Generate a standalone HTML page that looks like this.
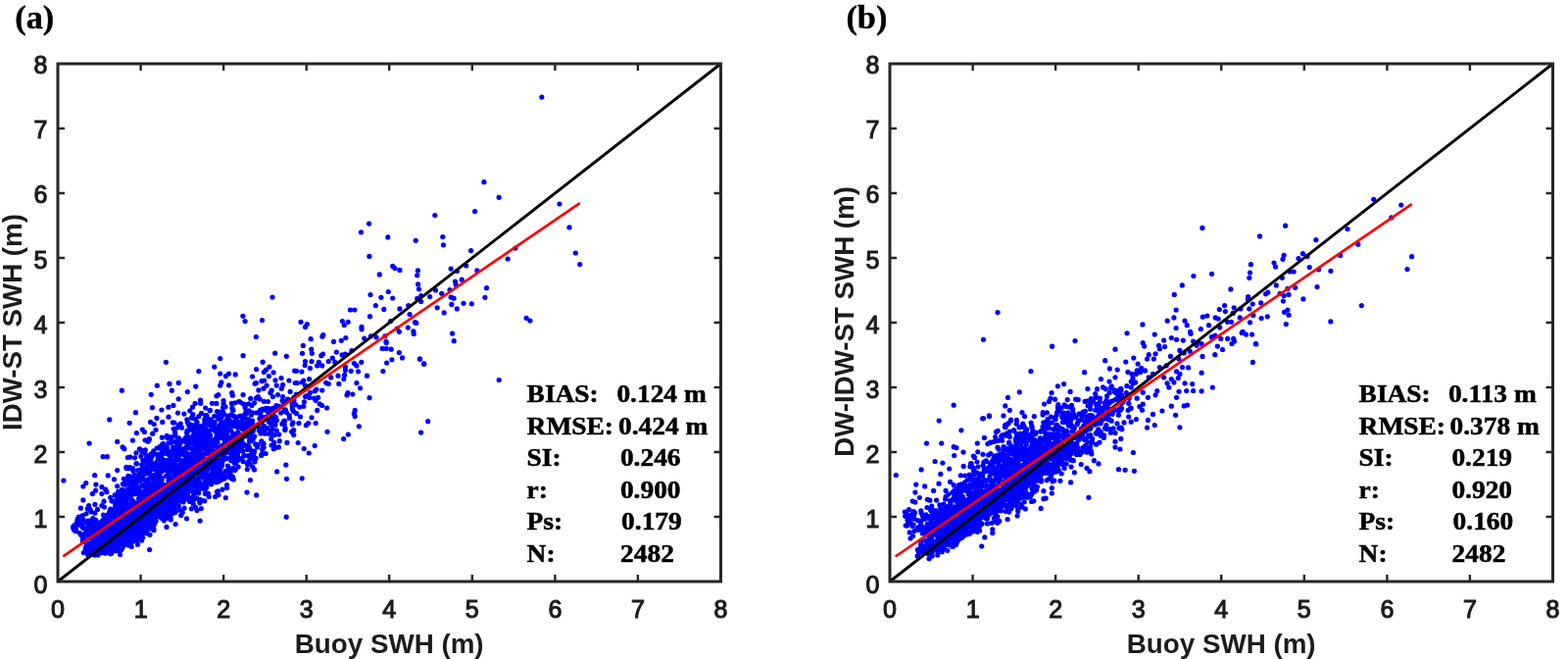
<!DOCTYPE html>
<html><head><meta charset="utf-8"><style>
html,body{margin:0;padding:0;background:#fff;width:1600px;height:672px;overflow:hidden}
svg{display:block}
</style></head><body>
<svg width="1600" height="672" viewBox="0 0 1600 672">
<rect width="1600" height="672" fill="#fff"/>
<g font-family="Liberation Serif, Times New Roman, serif" font-size="33" font-weight="bold" fill="#000" stroke="#000" stroke-width="0.4">
<text transform="translate(15.2,29) scale(1.04,1)">(a)</text>
<text transform="translate(863.4,29) scale(1.04,1)">(b)</text>
</g>
<g fill="#0000ff">
<circle cx="147.9" cy="500.3" r="2.6"/>
<circle cx="227.6" cy="420.2" r="2.6"/>
<circle cx="132.1" cy="522.9" r="2.6"/>
<circle cx="166.2" cy="510.5" r="2.6"/>
<circle cx="150.9" cy="482.7" r="2.6"/>
<circle cx="291.3" cy="419.2" r="2.6"/>
<circle cx="154.1" cy="467.3" r="2.6"/>
<circle cx="266.0" cy="442.1" r="2.6"/>
<circle cx="130.8" cy="555.8" r="2.6"/>
<circle cx="191.5" cy="484.0" r="2.6"/>
<circle cx="135.8" cy="533.4" r="2.6"/>
<circle cx="202.6" cy="502.8" r="2.6"/>
<circle cx="211.8" cy="461.5" r="2.6"/>
<circle cx="238.5" cy="477.5" r="2.6"/>
<circle cx="90.5" cy="536.7" r="2.6"/>
<circle cx="263.0" cy="453.3" r="2.6"/>
<circle cx="79.4" cy="530.1" r="2.6"/>
<circle cx="222.5" cy="424.5" r="2.6"/>
<circle cx="110.3" cy="525.0" r="2.6"/>
<circle cx="123.9" cy="542.7" r="2.6"/>
<circle cx="218.8" cy="424.3" r="2.6"/>
<circle cx="130.3" cy="517.5" r="2.6"/>
<circle cx="167.3" cy="503.6" r="2.6"/>
<circle cx="206.8" cy="478.6" r="2.6"/>
<circle cx="242.6" cy="454.0" r="2.6"/>
<circle cx="123.4" cy="521.1" r="2.6"/>
<circle cx="143.8" cy="540.6" r="2.6"/>
<circle cx="134.0" cy="520.7" r="2.6"/>
<circle cx="213.2" cy="454.8" r="2.6"/>
<circle cx="159.7" cy="527.0" r="2.6"/>
<circle cx="139.1" cy="529.1" r="2.6"/>
<circle cx="191.5" cy="448.5" r="2.6"/>
<circle cx="175.0" cy="488.6" r="2.6"/>
<circle cx="186.0" cy="481.8" r="2.6"/>
<circle cx="87.5" cy="540.0" r="2.6"/>
<circle cx="172.3" cy="509.0" r="2.6"/>
<circle cx="191.2" cy="453.7" r="2.6"/>
<circle cx="97.8" cy="537.5" r="2.6"/>
<circle cx="273.7" cy="416.8" r="2.6"/>
<circle cx="151.5" cy="490.3" r="2.6"/>
<circle cx="241.1" cy="443.3" r="2.6"/>
<circle cx="281.9" cy="413.6" r="2.6"/>
<circle cx="182.6" cy="489.6" r="2.6"/>
<circle cx="255.1" cy="473.0" r="2.6"/>
<circle cx="141.2" cy="531.4" r="2.6"/>
<circle cx="121.8" cy="539.0" r="2.6"/>
<circle cx="169.1" cy="485.5" r="2.6"/>
<circle cx="191.8" cy="473.6" r="2.6"/>
<circle cx="130.1" cy="532.9" r="2.6"/>
<circle cx="98.0" cy="541.6" r="2.6"/>
<circle cx="284.8" cy="443.1" r="2.6"/>
<circle cx="144.7" cy="473.9" r="2.6"/>
<circle cx="95.7" cy="561.9" r="2.6"/>
<circle cx="147.4" cy="507.2" r="2.6"/>
<circle cx="212.4" cy="503.1" r="2.6"/>
<circle cx="191.6" cy="465.0" r="2.6"/>
<circle cx="207.4" cy="444.5" r="2.6"/>
<circle cx="212.4" cy="469.9" r="2.6"/>
<circle cx="229.3" cy="445.2" r="2.6"/>
<circle cx="186.1" cy="449.2" r="2.6"/>
<circle cx="152.9" cy="545.3" r="2.6"/>
<circle cx="223.6" cy="456.9" r="2.6"/>
<circle cx="164.8" cy="480.9" r="2.6"/>
<circle cx="122.3" cy="541.5" r="2.6"/>
<circle cx="123.9" cy="531.1" r="2.6"/>
<circle cx="190.6" cy="441.4" r="2.6"/>
<circle cx="222.6" cy="473.6" r="2.6"/>
<circle cx="152.6" cy="523.7" r="2.6"/>
<circle cx="228.9" cy="438.3" r="2.6"/>
<circle cx="171.6" cy="472.4" r="2.6"/>
<circle cx="121.2" cy="513.0" r="2.6"/>
<circle cx="267.7" cy="458.4" r="2.6"/>
<circle cx="115.9" cy="520.2" r="2.6"/>
<circle cx="247.8" cy="459.9" r="2.6"/>
<circle cx="156.8" cy="520.0" r="2.6"/>
<circle cx="192.7" cy="483.6" r="2.6"/>
<circle cx="179.6" cy="502.3" r="2.6"/>
<circle cx="98.4" cy="562.8" r="2.6"/>
<circle cx="127.0" cy="530.2" r="2.6"/>
<circle cx="170.4" cy="524.0" r="2.6"/>
<circle cx="145.7" cy="536.3" r="2.6"/>
<circle cx="108.4" cy="527.1" r="2.6"/>
<circle cx="131.5" cy="525.7" r="2.6"/>
<circle cx="132.2" cy="532.8" r="2.6"/>
<circle cx="102.8" cy="563.7" r="2.6"/>
<circle cx="198.7" cy="478.7" r="2.6"/>
<circle cx="142.2" cy="531.6" r="2.6"/>
<circle cx="146.3" cy="488.3" r="2.6"/>
<circle cx="142.7" cy="511.1" r="2.6"/>
<circle cx="143.0" cy="536.8" r="2.6"/>
<circle cx="253.8" cy="441.9" r="2.6"/>
<circle cx="171.9" cy="508.2" r="2.6"/>
<circle cx="160.8" cy="484.8" r="2.6"/>
<circle cx="174.7" cy="509.8" r="2.6"/>
<circle cx="163.4" cy="504.6" r="2.6"/>
<circle cx="246.1" cy="457.3" r="2.6"/>
<circle cx="192.9" cy="446.6" r="2.6"/>
<circle cx="176.1" cy="516.3" r="2.6"/>
<circle cx="134.5" cy="495.6" r="2.6"/>
<circle cx="193.2" cy="494.1" r="2.6"/>
<circle cx="227.9" cy="432.7" r="2.6"/>
<circle cx="170.9" cy="446.7" r="2.6"/>
<circle cx="233.1" cy="486.0" r="2.6"/>
<circle cx="132.1" cy="538.9" r="2.6"/>
<circle cx="171.6" cy="520.7" r="2.6"/>
<circle cx="271.1" cy="462.5" r="2.6"/>
<circle cx="228.0" cy="437.4" r="2.6"/>
<circle cx="158.5" cy="513.6" r="2.6"/>
<circle cx="251.2" cy="438.3" r="2.6"/>
<circle cx="116.1" cy="550.9" r="2.6"/>
<circle cx="132.0" cy="530.5" r="2.6"/>
<circle cx="176.9" cy="511.3" r="2.6"/>
<circle cx="154.4" cy="516.0" r="2.6"/>
<circle cx="108.9" cy="535.0" r="2.6"/>
<circle cx="210.4" cy="477.8" r="2.6"/>
<circle cx="141.3" cy="521.2" r="2.6"/>
<circle cx="92.2" cy="538.4" r="2.6"/>
<circle cx="268.1" cy="369.2" r="2.6"/>
<circle cx="156.0" cy="475.4" r="2.6"/>
<circle cx="186.9" cy="463.3" r="2.6"/>
<circle cx="174.1" cy="528.0" r="2.6"/>
<circle cx="148.3" cy="509.5" r="2.6"/>
<circle cx="215.6" cy="493.8" r="2.6"/>
<circle cx="202.8" cy="424.7" r="2.6"/>
<circle cx="189.2" cy="470.7" r="2.6"/>
<circle cx="118.8" cy="546.3" r="2.6"/>
<circle cx="222.1" cy="438.9" r="2.6"/>
<circle cx="177.2" cy="437.3" r="2.6"/>
<circle cx="118.9" cy="560.4" r="2.6"/>
<circle cx="121.6" cy="558.0" r="2.6"/>
<circle cx="123.9" cy="537.2" r="2.6"/>
<circle cx="190.8" cy="427.8" r="2.6"/>
<circle cx="200.1" cy="481.1" r="2.6"/>
<circle cx="219.0" cy="431.1" r="2.6"/>
<circle cx="123.2" cy="545.6" r="2.6"/>
<circle cx="100.5" cy="559.0" r="2.6"/>
<circle cx="138.8" cy="542.9" r="2.6"/>
<circle cx="140.9" cy="518.3" r="2.6"/>
<circle cx="198.8" cy="487.5" r="2.6"/>
<circle cx="170.6" cy="499.3" r="2.6"/>
<circle cx="129.3" cy="549.5" r="2.6"/>
<circle cx="133.5" cy="532.6" r="2.6"/>
<circle cx="223.6" cy="444.9" r="2.6"/>
<circle cx="84.7" cy="538.3" r="2.6"/>
<circle cx="177.1" cy="497.4" r="2.6"/>
<circle cx="132.8" cy="514.3" r="2.6"/>
<circle cx="154.4" cy="527.2" r="2.6"/>
<circle cx="213.4" cy="484.8" r="2.6"/>
<circle cx="202.4" cy="500.6" r="2.6"/>
<circle cx="157.0" cy="540.7" r="2.6"/>
<circle cx="209.4" cy="446.8" r="2.6"/>
<circle cx="234.2" cy="433.1" r="2.6"/>
<circle cx="156.1" cy="496.0" r="2.6"/>
<circle cx="206.8" cy="478.4" r="2.6"/>
<circle cx="187.3" cy="498.0" r="2.6"/>
<circle cx="224.7" cy="423.6" r="2.6"/>
<circle cx="92.3" cy="536.5" r="2.6"/>
<circle cx="97.9" cy="553.4" r="2.6"/>
<circle cx="173.6" cy="500.5" r="2.6"/>
<circle cx="137.5" cy="540.2" r="2.6"/>
<circle cx="166.9" cy="475.3" r="2.6"/>
<circle cx="224.7" cy="440.1" r="2.6"/>
<circle cx="167.4" cy="478.4" r="2.6"/>
<circle cx="146.9" cy="530.0" r="2.6"/>
<circle cx="209.8" cy="437.0" r="2.6"/>
<circle cx="158.4" cy="515.6" r="2.6"/>
<circle cx="91.1" cy="547.0" r="2.6"/>
<circle cx="143.4" cy="526.5" r="2.6"/>
<circle cx="187.9" cy="481.0" r="2.6"/>
<circle cx="182.3" cy="491.7" r="2.6"/>
<circle cx="223.7" cy="446.8" r="2.6"/>
<circle cx="147.8" cy="520.7" r="2.6"/>
<circle cx="130.8" cy="538.5" r="2.6"/>
<circle cx="124.7" cy="516.1" r="2.6"/>
<circle cx="106.7" cy="529.8" r="2.6"/>
<circle cx="176.3" cy="430.8" r="2.6"/>
<circle cx="191.7" cy="455.8" r="2.6"/>
<circle cx="118.3" cy="551.5" r="2.6"/>
<circle cx="120.6" cy="531.1" r="2.6"/>
<circle cx="190.1" cy="503.4" r="2.6"/>
<circle cx="203.3" cy="484.5" r="2.6"/>
<circle cx="131.0" cy="526.6" r="2.6"/>
<circle cx="203.8" cy="435.5" r="2.6"/>
<circle cx="133.1" cy="486.1" r="2.6"/>
<circle cx="140.9" cy="518.3" r="2.6"/>
<circle cx="100.8" cy="544.5" r="2.6"/>
<circle cx="103.1" cy="552.6" r="2.6"/>
<circle cx="238.1" cy="424.1" r="2.6"/>
<circle cx="115.0" cy="540.6" r="2.6"/>
<circle cx="133.3" cy="533.2" r="2.6"/>
<circle cx="239.8" cy="410.8" r="2.6"/>
<circle cx="178.9" cy="472.3" r="2.6"/>
<circle cx="194.9" cy="495.9" r="2.6"/>
<circle cx="185.6" cy="510.5" r="2.6"/>
<circle cx="153.9" cy="514.9" r="2.6"/>
<circle cx="152.4" cy="507.0" r="2.6"/>
<circle cx="212.4" cy="427.3" r="2.6"/>
<circle cx="149.9" cy="514.0" r="2.6"/>
<circle cx="114.0" cy="511.0" r="2.6"/>
<circle cx="178.3" cy="508.1" r="2.6"/>
<circle cx="279.1" cy="454.1" r="2.6"/>
<circle cx="197.6" cy="443.0" r="2.6"/>
<circle cx="241.3" cy="469.0" r="2.6"/>
<circle cx="140.9" cy="548.0" r="2.6"/>
<circle cx="174.8" cy="507.1" r="2.6"/>
<circle cx="168.4" cy="520.7" r="2.6"/>
<circle cx="80.4" cy="527.2" r="2.6"/>
<circle cx="169.5" cy="473.1" r="2.6"/>
<circle cx="209.5" cy="474.3" r="2.6"/>
<circle cx="92.2" cy="536.1" r="2.6"/>
<circle cx="165.2" cy="470.4" r="2.6"/>
<circle cx="220.5" cy="480.8" r="2.6"/>
<circle cx="107.8" cy="547.0" r="2.6"/>
<circle cx="200.1" cy="437.2" r="2.6"/>
<circle cx="130.4" cy="535.5" r="2.6"/>
<circle cx="257.7" cy="476.0" r="2.6"/>
<circle cx="216.9" cy="450.2" r="2.6"/>
<circle cx="150.3" cy="466.0" r="2.6"/>
<circle cx="135.5" cy="504.0" r="2.6"/>
<circle cx="151.1" cy="528.0" r="2.6"/>
<circle cx="216.0" cy="482.8" r="2.6"/>
<circle cx="105.8" cy="529.7" r="2.6"/>
<circle cx="145.1" cy="519.8" r="2.6"/>
<circle cx="151.3" cy="479.3" r="2.6"/>
<circle cx="199.3" cy="427.4" r="2.6"/>
<circle cx="108.1" cy="542.5" r="2.6"/>
<circle cx="248.0" cy="411.8" r="2.6"/>
<circle cx="144.6" cy="459.2" r="2.6"/>
<circle cx="124.0" cy="536.9" r="2.6"/>
<circle cx="186.9" cy="470.8" r="2.6"/>
<circle cx="129.8" cy="544.8" r="2.6"/>
<circle cx="191.2" cy="469.9" r="2.6"/>
<circle cx="152.7" cy="492.8" r="2.6"/>
<circle cx="94.9" cy="528.7" r="2.6"/>
<circle cx="170.5" cy="506.0" r="2.6"/>
<circle cx="171.2" cy="502.8" r="2.6"/>
<circle cx="178.4" cy="457.5" r="2.6"/>
<circle cx="235.9" cy="466.8" r="2.6"/>
<circle cx="158.0" cy="493.6" r="2.6"/>
<circle cx="163.5" cy="489.3" r="2.6"/>
<circle cx="176.6" cy="514.1" r="2.6"/>
<circle cx="198.0" cy="477.9" r="2.6"/>
<circle cx="117.6" cy="526.1" r="2.6"/>
<circle cx="172.8" cy="524.8" r="2.6"/>
<circle cx="125.6" cy="556.3" r="2.6"/>
<circle cx="204.7" cy="466.9" r="2.6"/>
<circle cx="178.7" cy="507.6" r="2.6"/>
<circle cx="145.3" cy="523.8" r="2.6"/>
<circle cx="139.9" cy="542.7" r="2.6"/>
<circle cx="113.3" cy="562.1" r="2.6"/>
<circle cx="202.7" cy="471.4" r="2.6"/>
<circle cx="214.4" cy="433.9" r="2.6"/>
<circle cx="193.5" cy="487.2" r="2.6"/>
<circle cx="254.2" cy="455.7" r="2.6"/>
<circle cx="93.5" cy="562.1" r="2.6"/>
<circle cx="208.4" cy="487.6" r="2.6"/>
<circle cx="145.8" cy="469.6" r="2.6"/>
<circle cx="160.3" cy="482.5" r="2.6"/>
<circle cx="188.8" cy="492.3" r="2.6"/>
<circle cx="133.5" cy="556.0" r="2.6"/>
<circle cx="150.2" cy="508.7" r="2.6"/>
<circle cx="182.3" cy="515.8" r="2.6"/>
<circle cx="271.4" cy="416.4" r="2.6"/>
<circle cx="203.8" cy="450.6" r="2.6"/>
<circle cx="193.9" cy="477.2" r="2.6"/>
<circle cx="259.6" cy="460.1" r="2.6"/>
<circle cx="127.8" cy="494.4" r="2.6"/>
<circle cx="163.8" cy="515.2" r="2.6"/>
<circle cx="200.2" cy="464.4" r="2.6"/>
<circle cx="135.7" cy="522.2" r="2.6"/>
<circle cx="243.0" cy="425.1" r="2.6"/>
<circle cx="220.4" cy="467.9" r="2.6"/>
<circle cx="231.1" cy="450.0" r="2.6"/>
<circle cx="291.1" cy="436.9" r="2.6"/>
<circle cx="193.2" cy="510.0" r="2.6"/>
<circle cx="165.2" cy="460.5" r="2.6"/>
<circle cx="88.6" cy="545.1" r="2.6"/>
<circle cx="167.0" cy="470.3" r="2.6"/>
<circle cx="105.5" cy="548.1" r="2.6"/>
<circle cx="173.0" cy="515.1" r="2.6"/>
<circle cx="138.7" cy="485.6" r="2.6"/>
<circle cx="154.2" cy="471.4" r="2.6"/>
<circle cx="238.4" cy="455.8" r="2.6"/>
<circle cx="198.8" cy="458.6" r="2.6"/>
<circle cx="120.4" cy="540.8" r="2.6"/>
<circle cx="231.7" cy="467.6" r="2.6"/>
<circle cx="235.4" cy="460.4" r="2.6"/>
<circle cx="252.5" cy="473.4" r="2.6"/>
<circle cx="138.2" cy="536.8" r="2.6"/>
<circle cx="156.1" cy="514.8" r="2.6"/>
<circle cx="194.7" cy="476.2" r="2.6"/>
<circle cx="226.4" cy="469.9" r="2.6"/>
<circle cx="168.7" cy="508.4" r="2.6"/>
<circle cx="136.5" cy="502.6" r="2.6"/>
<circle cx="111.1" cy="543.3" r="2.6"/>
<circle cx="134.0" cy="534.2" r="2.6"/>
<circle cx="219.4" cy="439.4" r="2.6"/>
<circle cx="185.2" cy="470.2" r="2.6"/>
<circle cx="173.7" cy="526.8" r="2.6"/>
<circle cx="111.5" cy="556.0" r="2.6"/>
<circle cx="129.6" cy="550.2" r="2.6"/>
<circle cx="156.4" cy="476.5" r="2.6"/>
<circle cx="280.4" cy="443.6" r="2.6"/>
<circle cx="227.3" cy="444.2" r="2.6"/>
<circle cx="174.6" cy="465.8" r="2.6"/>
<circle cx="142.9" cy="490.0" r="2.6"/>
<circle cx="177.9" cy="500.3" r="2.6"/>
<circle cx="239.8" cy="469.8" r="2.6"/>
<circle cx="184.1" cy="458.0" r="2.6"/>
<circle cx="112.8" cy="528.4" r="2.6"/>
<circle cx="167.5" cy="512.7" r="2.6"/>
<circle cx="201.0" cy="472.4" r="2.6"/>
<circle cx="116.0" cy="553.5" r="2.6"/>
<circle cx="176.1" cy="506.8" r="2.6"/>
<circle cx="174.3" cy="479.3" r="2.6"/>
<circle cx="96.1" cy="563.4" r="2.6"/>
<circle cx="84.7" cy="529.8" r="2.6"/>
<circle cx="95.8" cy="562.5" r="2.6"/>
<circle cx="274.6" cy="442.6" r="2.6"/>
<circle cx="131.0" cy="523.9" r="2.6"/>
<circle cx="173.0" cy="496.9" r="2.6"/>
<circle cx="77.5" cy="540.8" r="2.6"/>
<circle cx="129.3" cy="545.1" r="2.6"/>
<circle cx="113.3" cy="554.5" r="2.6"/>
<circle cx="304.2" cy="451.5" r="2.6"/>
<circle cx="163.6" cy="489.2" r="2.6"/>
<circle cx="133.1" cy="507.1" r="2.6"/>
<circle cx="79.2" cy="529.4" r="2.6"/>
<circle cx="123.1" cy="526.6" r="2.6"/>
<circle cx="101.0" cy="562.9" r="2.6"/>
<circle cx="259.9" cy="471.0" r="2.6"/>
<circle cx="128.9" cy="476.3" r="2.6"/>
<circle cx="88.3" cy="551.2" r="2.6"/>
<circle cx="136.9" cy="533.3" r="2.6"/>
<circle cx="227.0" cy="446.8" r="2.6"/>
<circle cx="148.9" cy="514.6" r="2.6"/>
<circle cx="144.3" cy="521.5" r="2.6"/>
<circle cx="136.0" cy="551.8" r="2.6"/>
<circle cx="268.3" cy="417.1" r="2.6"/>
<circle cx="121.0" cy="552.4" r="2.6"/>
<circle cx="112.5" cy="542.4" r="2.6"/>
<circle cx="206.2" cy="439.0" r="2.6"/>
<circle cx="265.1" cy="437.1" r="2.6"/>
<circle cx="216.8" cy="471.1" r="2.6"/>
<circle cx="228.1" cy="463.6" r="2.6"/>
<circle cx="134.7" cy="511.2" r="2.6"/>
<circle cx="149.7" cy="471.4" r="2.6"/>
<circle cx="189.7" cy="466.7" r="2.6"/>
<circle cx="223.8" cy="473.5" r="2.6"/>
<circle cx="141.1" cy="523.5" r="2.6"/>
<circle cx="152.3" cy="527.1" r="2.6"/>
<circle cx="245.1" cy="424.1" r="2.6"/>
<circle cx="140.1" cy="486.6" r="2.6"/>
<circle cx="137.2" cy="484.6" r="2.6"/>
<circle cx="181.5" cy="494.5" r="2.6"/>
<circle cx="233.7" cy="427.8" r="2.6"/>
<circle cx="89.5" cy="565.6" r="2.6"/>
<circle cx="115.5" cy="561.0" r="2.6"/>
<circle cx="213.9" cy="489.1" r="2.6"/>
<circle cx="170.7" cy="519.8" r="2.6"/>
<circle cx="131.0" cy="533.2" r="2.6"/>
<circle cx="225.3" cy="421.9" r="2.6"/>
<circle cx="152.7" cy="522.5" r="2.6"/>
<circle cx="107.1" cy="557.3" r="2.6"/>
<circle cx="101.9" cy="535.9" r="2.6"/>
<circle cx="221.7" cy="468.6" r="2.6"/>
<circle cx="225.4" cy="489.5" r="2.6"/>
<circle cx="104.6" cy="541.3" r="2.6"/>
<circle cx="158.4" cy="463.0" r="2.6"/>
<circle cx="154.4" cy="513.0" r="2.6"/>
<circle cx="147.9" cy="516.2" r="2.6"/>
<circle cx="287.9" cy="432.3" r="2.6"/>
<circle cx="116.8" cy="524.8" r="2.6"/>
<circle cx="159.9" cy="495.0" r="2.6"/>
<circle cx="210.6" cy="442.0" r="2.6"/>
<circle cx="96.8" cy="541.7" r="2.6"/>
<circle cx="131.0" cy="492.1" r="2.6"/>
<circle cx="257.9" cy="463.6" r="2.6"/>
<circle cx="160.1" cy="457.0" r="2.6"/>
<circle cx="120.1" cy="539.4" r="2.6"/>
<circle cx="232.3" cy="475.1" r="2.6"/>
<circle cx="213.1" cy="450.7" r="2.6"/>
<circle cx="101.7" cy="559.7" r="2.6"/>
<circle cx="111.1" cy="562.8" r="2.6"/>
<circle cx="204.5" cy="496.9" r="2.6"/>
<circle cx="264.8" cy="420.8" r="2.6"/>
<circle cx="178.5" cy="472.6" r="2.6"/>
<circle cx="132.7" cy="539.7" r="2.6"/>
<circle cx="76.1" cy="535.5" r="2.6"/>
<circle cx="186.9" cy="490.2" r="2.6"/>
<circle cx="146.2" cy="477.8" r="2.6"/>
<circle cx="109.5" cy="534.0" r="2.6"/>
<circle cx="142.4" cy="457.8" r="2.6"/>
<circle cx="125.9" cy="521.0" r="2.6"/>
<circle cx="123.5" cy="539.9" r="2.6"/>
<circle cx="221.2" cy="443.0" r="2.6"/>
<circle cx="129.1" cy="539.2" r="2.6"/>
<circle cx="191.0" cy="470.4" r="2.6"/>
<circle cx="187.2" cy="491.3" r="2.6"/>
<circle cx="136.1" cy="533.3" r="2.6"/>
<circle cx="148.8" cy="497.4" r="2.6"/>
<circle cx="174.2" cy="505.9" r="2.6"/>
<circle cx="167.1" cy="522.5" r="2.6"/>
<circle cx="178.0" cy="480.3" r="2.6"/>
<circle cx="200.7" cy="456.9" r="2.6"/>
<circle cx="150.8" cy="516.7" r="2.6"/>
<circle cx="212.6" cy="484.4" r="2.6"/>
<circle cx="128.1" cy="524.5" r="2.6"/>
<circle cx="188.0" cy="518.2" r="2.6"/>
<circle cx="246.1" cy="443.4" r="2.6"/>
<circle cx="95.6" cy="555.9" r="2.6"/>
<circle cx="103.3" cy="547.8" r="2.6"/>
<circle cx="97.4" cy="530.0" r="2.6"/>
<circle cx="130.6" cy="544.7" r="2.6"/>
<circle cx="215.0" cy="432.0" r="2.6"/>
<circle cx="167.1" cy="473.4" r="2.6"/>
<circle cx="221.1" cy="445.7" r="2.6"/>
<circle cx="205.8" cy="464.3" r="2.6"/>
<circle cx="185.9" cy="504.7" r="2.6"/>
<circle cx="126.6" cy="538.8" r="2.6"/>
<circle cx="212.5" cy="449.6" r="2.6"/>
<circle cx="111.9" cy="533.1" r="2.6"/>
<circle cx="125.8" cy="553.5" r="2.6"/>
<circle cx="132.7" cy="466.1" r="2.6"/>
<circle cx="195.1" cy="452.2" r="2.6"/>
<circle cx="154.3" cy="495.1" r="2.6"/>
<circle cx="116.8" cy="542.1" r="2.6"/>
<circle cx="215.2" cy="427.8" r="2.6"/>
<circle cx="206.6" cy="497.9" r="2.6"/>
<circle cx="271.2" cy="437.8" r="2.6"/>
<circle cx="310.4" cy="409.8" r="2.6"/>
<circle cx="96.7" cy="563.1" r="2.6"/>
<circle cx="114.7" cy="553.1" r="2.6"/>
<circle cx="96.6" cy="547.6" r="2.6"/>
<circle cx="119.4" cy="546.3" r="2.6"/>
<circle cx="181.2" cy="465.9" r="2.6"/>
<circle cx="153.3" cy="466.7" r="2.6"/>
<circle cx="174.5" cy="451.7" r="2.6"/>
<circle cx="188.9" cy="507.6" r="2.6"/>
<circle cx="208.9" cy="510.8" r="2.6"/>
<circle cx="246.2" cy="435.2" r="2.6"/>
<circle cx="119.5" cy="544.8" r="2.6"/>
<circle cx="94.2" cy="561.6" r="2.6"/>
<circle cx="181.8" cy="459.4" r="2.6"/>
<circle cx="124.7" cy="547.7" r="2.6"/>
<circle cx="177.0" cy="502.5" r="2.6"/>
<circle cx="168.2" cy="478.8" r="2.6"/>
<circle cx="171.3" cy="501.6" r="2.6"/>
<circle cx="92.8" cy="554.1" r="2.6"/>
<circle cx="315.8" cy="405.4" r="2.6"/>
<circle cx="130.4" cy="535.6" r="2.6"/>
<circle cx="137.4" cy="535.4" r="2.6"/>
<circle cx="179.8" cy="499.1" r="2.6"/>
<circle cx="148.1" cy="524.5" r="2.6"/>
<circle cx="195.2" cy="438.2" r="2.6"/>
<circle cx="153.8" cy="520.6" r="2.6"/>
<circle cx="103.3" cy="560.5" r="2.6"/>
<circle cx="88.5" cy="554.4" r="2.6"/>
<circle cx="124.5" cy="499.1" r="2.6"/>
<circle cx="213.7" cy="492.6" r="2.6"/>
<circle cx="130.8" cy="534.8" r="2.6"/>
<circle cx="105.0" cy="549.7" r="2.6"/>
<circle cx="115.7" cy="511.0" r="2.6"/>
<circle cx="269.1" cy="452.4" r="2.6"/>
<circle cx="198.3" cy="467.5" r="2.6"/>
<circle cx="151.5" cy="494.1" r="2.6"/>
<circle cx="177.7" cy="520.3" r="2.6"/>
<circle cx="191.8" cy="488.3" r="2.6"/>
<circle cx="192.7" cy="492.1" r="2.6"/>
<circle cx="248.3" cy="454.0" r="2.6"/>
<circle cx="161.2" cy="500.7" r="2.6"/>
<circle cx="284.6" cy="414.4" r="2.6"/>
<circle cx="195.0" cy="468.1" r="2.6"/>
<circle cx="141.7" cy="530.8" r="2.6"/>
<circle cx="194.4" cy="492.5" r="2.6"/>
<circle cx="146.8" cy="522.8" r="2.6"/>
<circle cx="99.7" cy="542.5" r="2.6"/>
<circle cx="176.1" cy="462.7" r="2.6"/>
<circle cx="155.6" cy="474.6" r="2.6"/>
<circle cx="136.0" cy="520.5" r="2.6"/>
<circle cx="235.8" cy="439.3" r="2.6"/>
<circle cx="236.6" cy="432.8" r="2.6"/>
<circle cx="207.4" cy="441.2" r="2.6"/>
<circle cx="262.0" cy="420.9" r="2.6"/>
<circle cx="87.8" cy="557.5" r="2.6"/>
<circle cx="226.2" cy="458.0" r="2.6"/>
<circle cx="266.6" cy="464.4" r="2.6"/>
<circle cx="75.6" cy="540.3" r="2.6"/>
<circle cx="153.0" cy="515.9" r="2.6"/>
<circle cx="208.8" cy="457.3" r="2.6"/>
<circle cx="120.5" cy="539.3" r="2.6"/>
<circle cx="246.1" cy="459.7" r="2.6"/>
<circle cx="170.4" cy="499.5" r="2.6"/>
<circle cx="189.4" cy="478.3" r="2.6"/>
<circle cx="187.0" cy="463.0" r="2.6"/>
<circle cx="140.0" cy="491.0" r="2.6"/>
<circle cx="142.3" cy="525.7" r="2.6"/>
<circle cx="189.8" cy="505.2" r="2.6"/>
<circle cx="237.7" cy="443.5" r="2.6"/>
<circle cx="210.3" cy="474.1" r="2.6"/>
<circle cx="166.8" cy="527.3" r="2.6"/>
<circle cx="169.5" cy="510.6" r="2.6"/>
<circle cx="184.2" cy="468.8" r="2.6"/>
<circle cx="129.3" cy="540.6" r="2.6"/>
<circle cx="266.8" cy="449.9" r="2.6"/>
<circle cx="142.4" cy="532.8" r="2.6"/>
<circle cx="127.0" cy="535.8" r="2.6"/>
<circle cx="133.7" cy="500.6" r="2.6"/>
<circle cx="253.7" cy="427.6" r="2.6"/>
<circle cx="215.4" cy="472.5" r="2.6"/>
<circle cx="174.8" cy="514.3" r="2.6"/>
<circle cx="167.4" cy="522.8" r="2.6"/>
<circle cx="126.0" cy="521.7" r="2.6"/>
<circle cx="114.1" cy="526.7" r="2.6"/>
<circle cx="224.0" cy="471.7" r="2.6"/>
<circle cx="136.0" cy="511.4" r="2.6"/>
<circle cx="109.2" cy="558.9" r="2.6"/>
<circle cx="95.7" cy="551.9" r="2.6"/>
<circle cx="116.6" cy="534.8" r="2.6"/>
<circle cx="189.3" cy="468.8" r="2.6"/>
<circle cx="164.2" cy="504.6" r="2.6"/>
<circle cx="192.6" cy="433.3" r="2.6"/>
<circle cx="226.8" cy="471.9" r="2.6"/>
<circle cx="177.9" cy="431.0" r="2.6"/>
<circle cx="87.4" cy="560.2" r="2.6"/>
<circle cx="127.4" cy="507.4" r="2.6"/>
<circle cx="119.8" cy="537.3" r="2.6"/>
<circle cx="133.2" cy="546.8" r="2.6"/>
<circle cx="177.1" cy="474.4" r="2.6"/>
<circle cx="221.6" cy="481.4" r="2.6"/>
<circle cx="212.4" cy="460.7" r="2.6"/>
<circle cx="78.6" cy="532.0" r="2.6"/>
<circle cx="204.3" cy="434.5" r="2.6"/>
<circle cx="179.9" cy="500.1" r="2.6"/>
<circle cx="118.1" cy="542.5" r="2.6"/>
<circle cx="175.4" cy="469.3" r="2.6"/>
<circle cx="174.8" cy="462.4" r="2.6"/>
<circle cx="220.5" cy="467.1" r="2.6"/>
<circle cx="171.3" cy="503.3" r="2.6"/>
<circle cx="147.6" cy="530.0" r="2.6"/>
<circle cx="172.1" cy="493.8" r="2.6"/>
<circle cx="172.1" cy="445.9" r="2.6"/>
<circle cx="145.7" cy="548.3" r="2.6"/>
<circle cx="181.9" cy="451.6" r="2.6"/>
<circle cx="118.7" cy="512.5" r="2.6"/>
<circle cx="230.7" cy="434.5" r="2.6"/>
<circle cx="163.6" cy="518.8" r="2.6"/>
<circle cx="153.0" cy="539.0" r="2.6"/>
<circle cx="133.9" cy="519.6" r="2.6"/>
<circle cx="265.7" cy="418.1" r="2.6"/>
<circle cx="199.5" cy="433.0" r="2.6"/>
<circle cx="156.7" cy="478.4" r="2.6"/>
<circle cx="131.8" cy="514.6" r="2.6"/>
<circle cx="295.2" cy="423.5" r="2.6"/>
<circle cx="92.7" cy="565.5" r="2.6"/>
<circle cx="126.8" cy="501.4" r="2.6"/>
<circle cx="187.9" cy="460.9" r="2.6"/>
<circle cx="124.7" cy="554.1" r="2.6"/>
<circle cx="250.1" cy="412.7" r="2.6"/>
<circle cx="119.9" cy="543.6" r="2.6"/>
<circle cx="206.8" cy="465.6" r="2.6"/>
<circle cx="149.0" cy="516.9" r="2.6"/>
<circle cx="96.6" cy="539.6" r="2.6"/>
<circle cx="158.9" cy="504.6" r="2.6"/>
<circle cx="104.4" cy="545.8" r="2.6"/>
<circle cx="131.6" cy="538.7" r="2.6"/>
<circle cx="189.9" cy="462.7" r="2.6"/>
<circle cx="211.9" cy="484.1" r="2.6"/>
<circle cx="208.0" cy="467.6" r="2.6"/>
<circle cx="163.0" cy="477.4" r="2.6"/>
<circle cx="271.9" cy="427.7" r="2.6"/>
<circle cx="181.8" cy="448.5" r="2.6"/>
<circle cx="172.0" cy="490.3" r="2.6"/>
<circle cx="188.6" cy="501.5" r="2.6"/>
<circle cx="153.5" cy="524.4" r="2.6"/>
<circle cx="210.3" cy="494.4" r="2.6"/>
<circle cx="152.1" cy="507.4" r="2.6"/>
<circle cx="203.4" cy="465.5" r="2.6"/>
<circle cx="160.2" cy="495.3" r="2.6"/>
<circle cx="142.6" cy="517.9" r="2.6"/>
<circle cx="160.8" cy="525.5" r="2.6"/>
<circle cx="104.7" cy="544.7" r="2.6"/>
<circle cx="112.5" cy="550.6" r="2.6"/>
<circle cx="178.2" cy="515.4" r="2.6"/>
<circle cx="258.6" cy="445.5" r="2.6"/>
<circle cx="196.7" cy="458.6" r="2.6"/>
<circle cx="80.0" cy="532.9" r="2.6"/>
<circle cx="255.0" cy="467.5" r="2.6"/>
<circle cx="164.6" cy="527.9" r="2.6"/>
<circle cx="124.3" cy="515.3" r="2.6"/>
<circle cx="102.9" cy="545.8" r="2.6"/>
<circle cx="246.2" cy="431.0" r="2.6"/>
<circle cx="176.7" cy="513.9" r="2.6"/>
<circle cx="169.5" cy="469.3" r="2.6"/>
<circle cx="163.6" cy="508.3" r="2.6"/>
<circle cx="121.9" cy="549.0" r="2.6"/>
<circle cx="183.1" cy="463.6" r="2.6"/>
<circle cx="145.4" cy="519.9" r="2.6"/>
<circle cx="279.3" cy="430.4" r="2.6"/>
<circle cx="105.4" cy="525.0" r="2.6"/>
<circle cx="138.4" cy="486.1" r="2.6"/>
<circle cx="91.7" cy="531.0" r="2.6"/>
<circle cx="144.1" cy="533.9" r="2.6"/>
<circle cx="109.8" cy="540.0" r="2.6"/>
<circle cx="223.0" cy="486.3" r="2.6"/>
<circle cx="243.7" cy="434.3" r="2.6"/>
<circle cx="137.0" cy="499.3" r="2.6"/>
<circle cx="200.7" cy="474.7" r="2.6"/>
<circle cx="105.3" cy="553.4" r="2.6"/>
<circle cx="249.3" cy="432.5" r="2.6"/>
<circle cx="214.9" cy="458.7" r="2.6"/>
<circle cx="152.4" cy="447.7" r="2.6"/>
<circle cx="179.4" cy="486.1" r="2.6"/>
<circle cx="117.2" cy="529.2" r="2.6"/>
<circle cx="237.8" cy="442.0" r="2.6"/>
<circle cx="210.1" cy="475.4" r="2.6"/>
<circle cx="238.4" cy="464.4" r="2.6"/>
<circle cx="197.7" cy="486.3" r="2.6"/>
<circle cx="156.7" cy="532.0" r="2.6"/>
<circle cx="200.8" cy="457.9" r="2.6"/>
<circle cx="226.6" cy="467.9" r="2.6"/>
<circle cx="269.3" cy="409.3" r="2.6"/>
<circle cx="186.1" cy="477.5" r="2.6"/>
<circle cx="113.6" cy="534.2" r="2.6"/>
<circle cx="159.0" cy="516.6" r="2.6"/>
<circle cx="189.7" cy="447.9" r="2.6"/>
<circle cx="140.7" cy="531.2" r="2.6"/>
<circle cx="195.9" cy="492.5" r="2.6"/>
<circle cx="253.4" cy="439.7" r="2.6"/>
<circle cx="233.9" cy="482.5" r="2.6"/>
<circle cx="191.0" cy="439.0" r="2.6"/>
<circle cx="118.2" cy="561.7" r="2.6"/>
<circle cx="152.0" cy="465.1" r="2.6"/>
<circle cx="137.3" cy="490.6" r="2.6"/>
<circle cx="155.3" cy="505.6" r="2.6"/>
<circle cx="120.8" cy="548.8" r="2.6"/>
<circle cx="118.8" cy="550.3" r="2.6"/>
<circle cx="131.2" cy="538.0" r="2.6"/>
<circle cx="171.0" cy="460.1" r="2.6"/>
<circle cx="255.5" cy="466.7" r="2.6"/>
<circle cx="168.9" cy="513.6" r="2.6"/>
<circle cx="149.0" cy="500.7" r="2.6"/>
<circle cx="110.8" cy="556.9" r="2.6"/>
<circle cx="106.9" cy="556.0" r="2.6"/>
<circle cx="185.1" cy="502.1" r="2.6"/>
<circle cx="207.3" cy="438.8" r="2.6"/>
<circle cx="153.2" cy="527.5" r="2.6"/>
<circle cx="175.0" cy="512.5" r="2.6"/>
<circle cx="235.9" cy="433.8" r="2.6"/>
<circle cx="126.1" cy="535.1" r="2.6"/>
<circle cx="281.5" cy="456.6" r="2.6"/>
<circle cx="235.5" cy="432.5" r="2.6"/>
<circle cx="228.2" cy="457.1" r="2.6"/>
<circle cx="228.6" cy="483.8" r="2.6"/>
<circle cx="86.9" cy="533.0" r="2.6"/>
<circle cx="191.3" cy="430.6" r="2.6"/>
<circle cx="183.2" cy="519.9" r="2.6"/>
<circle cx="213.1" cy="470.1" r="2.6"/>
<circle cx="292.1" cy="409.2" r="2.6"/>
<circle cx="148.6" cy="526.1" r="2.6"/>
<circle cx="171.7" cy="503.4" r="2.6"/>
<circle cx="148.4" cy="520.1" r="2.6"/>
<circle cx="248.8" cy="425.9" r="2.6"/>
<circle cx="111.6" cy="522.7" r="2.6"/>
<circle cx="117.7" cy="520.5" r="2.6"/>
<circle cx="122.4" cy="546.0" r="2.6"/>
<circle cx="247.2" cy="429.1" r="2.6"/>
<circle cx="164.6" cy="514.8" r="2.6"/>
<circle cx="210.4" cy="473.9" r="2.6"/>
<circle cx="275.2" cy="418.8" r="2.6"/>
<circle cx="154.2" cy="462.8" r="2.6"/>
<circle cx="199.1" cy="490.0" r="2.6"/>
<circle cx="203.7" cy="458.6" r="2.6"/>
<circle cx="182.9" cy="478.9" r="2.6"/>
<circle cx="193.8" cy="487.0" r="2.6"/>
<circle cx="145.6" cy="528.1" r="2.6"/>
<circle cx="219.4" cy="447.8" r="2.6"/>
<circle cx="212.5" cy="469.6" r="2.6"/>
<circle cx="132.7" cy="552.2" r="2.6"/>
<circle cx="187.2" cy="490.2" r="2.6"/>
<circle cx="94.5" cy="551.3" r="2.6"/>
<circle cx="162.8" cy="487.1" r="2.6"/>
<circle cx="269.9" cy="426.0" r="2.6"/>
<circle cx="115.6" cy="551.6" r="2.6"/>
<circle cx="285.2" cy="449.7" r="2.6"/>
<circle cx="112.8" cy="542.9" r="2.6"/>
<circle cx="163.2" cy="470.1" r="2.6"/>
<circle cx="91.7" cy="548.3" r="2.6"/>
<circle cx="103.8" cy="538.1" r="2.6"/>
<circle cx="96.3" cy="556.7" r="2.6"/>
<circle cx="249.4" cy="454.2" r="2.6"/>
<circle cx="209.8" cy="438.4" r="2.6"/>
<circle cx="115.3" cy="552.9" r="2.6"/>
<circle cx="136.4" cy="526.7" r="2.6"/>
<circle cx="252.9" cy="454.7" r="2.6"/>
<circle cx="93.6" cy="532.8" r="2.6"/>
<circle cx="185.1" cy="488.7" r="2.6"/>
<circle cx="157.6" cy="511.6" r="2.6"/>
<circle cx="170.7" cy="523.2" r="2.6"/>
<circle cx="224.1" cy="488.3" r="2.6"/>
<circle cx="90.7" cy="545.4" r="2.6"/>
<circle cx="216.6" cy="449.6" r="2.6"/>
<circle cx="149.2" cy="476.4" r="2.6"/>
<circle cx="219.4" cy="449.3" r="2.6"/>
<circle cx="127.2" cy="520.9" r="2.6"/>
<circle cx="231.6" cy="442.0" r="2.6"/>
<circle cx="126.9" cy="510.7" r="2.6"/>
<circle cx="193.4" cy="485.1" r="2.6"/>
<circle cx="106.2" cy="547.6" r="2.6"/>
<circle cx="226.3" cy="464.3" r="2.6"/>
<circle cx="212.3" cy="451.5" r="2.6"/>
<circle cx="211.9" cy="454.7" r="2.6"/>
<circle cx="96.5" cy="540.1" r="2.6"/>
<circle cx="202.6" cy="474.7" r="2.6"/>
<circle cx="181.9" cy="491.9" r="2.6"/>
<circle cx="159.9" cy="471.2" r="2.6"/>
<circle cx="246.9" cy="444.5" r="2.6"/>
<circle cx="176.5" cy="519.9" r="2.6"/>
<circle cx="112.3" cy="551.9" r="2.6"/>
<circle cx="117.2" cy="522.4" r="2.6"/>
<circle cx="257.0" cy="463.6" r="2.6"/>
<circle cx="125.5" cy="543.8" r="2.6"/>
<circle cx="142.8" cy="500.5" r="2.6"/>
<circle cx="136.9" cy="535.4" r="2.6"/>
<circle cx="140.7" cy="479.7" r="2.6"/>
<circle cx="174.1" cy="475.4" r="2.6"/>
<circle cx="255.8" cy="449.8" r="2.6"/>
<circle cx="253.7" cy="433.1" r="2.6"/>
<circle cx="242.4" cy="462.5" r="2.6"/>
<circle cx="133.7" cy="490.6" r="2.6"/>
<circle cx="223.1" cy="471.7" r="2.6"/>
<circle cx="196.9" cy="450.0" r="2.6"/>
<circle cx="162.6" cy="497.5" r="2.6"/>
<circle cx="139.1" cy="473.1" r="2.6"/>
<circle cx="164.3" cy="487.6" r="2.6"/>
<circle cx="179.6" cy="478.2" r="2.6"/>
<circle cx="84.4" cy="548.1" r="2.6"/>
<circle cx="87.7" cy="545.5" r="2.6"/>
<circle cx="170.5" cy="503.7" r="2.6"/>
<circle cx="102.4" cy="561.3" r="2.6"/>
<circle cx="159.2" cy="506.2" r="2.6"/>
<circle cx="133.7" cy="539.7" r="2.6"/>
<circle cx="148.9" cy="525.3" r="2.6"/>
<circle cx="238.7" cy="467.7" r="2.6"/>
<circle cx="218.6" cy="476.4" r="2.6"/>
<circle cx="88.9" cy="541.2" r="2.6"/>
<circle cx="274.4" cy="416.7" r="2.6"/>
<circle cx="170.8" cy="499.8" r="2.6"/>
<circle cx="139.5" cy="489.0" r="2.6"/>
<circle cx="112.4" cy="548.3" r="2.6"/>
<circle cx="94.2" cy="546.0" r="2.6"/>
<circle cx="126.4" cy="505.1" r="2.6"/>
<circle cx="100.0" cy="566.0" r="2.6"/>
<circle cx="204.0" cy="509.4" r="2.6"/>
<circle cx="148.7" cy="537.5" r="2.6"/>
<circle cx="124.3" cy="531.9" r="2.6"/>
<circle cx="221.0" cy="491.1" r="2.6"/>
<circle cx="230.5" cy="449.2" r="2.6"/>
<circle cx="254.3" cy="432.5" r="2.6"/>
<circle cx="150.3" cy="524.5" r="2.6"/>
<circle cx="221.8" cy="471.8" r="2.6"/>
<circle cx="112.3" cy="530.0" r="2.6"/>
<circle cx="209.9" cy="437.4" r="2.6"/>
<circle cx="135.0" cy="528.9" r="2.6"/>
<circle cx="159.2" cy="498.8" r="2.6"/>
<circle cx="160.4" cy="481.2" r="2.6"/>
<circle cx="228.4" cy="442.5" r="2.6"/>
<circle cx="91.6" cy="558.1" r="2.6"/>
<circle cx="155.1" cy="514.4" r="2.6"/>
<circle cx="153.3" cy="510.0" r="2.6"/>
<circle cx="114.4" cy="555.4" r="2.6"/>
<circle cx="209.2" cy="431.0" r="2.6"/>
<circle cx="238.3" cy="447.3" r="2.6"/>
<circle cx="131.3" cy="506.0" r="2.6"/>
<circle cx="205.0" cy="492.7" r="2.6"/>
<circle cx="206.8" cy="443.9" r="2.6"/>
<circle cx="97.0" cy="558.7" r="2.6"/>
<circle cx="142.1" cy="518.0" r="2.6"/>
<circle cx="106.3" cy="562.6" r="2.6"/>
<circle cx="155.9" cy="484.4" r="2.6"/>
<circle cx="125.6" cy="511.0" r="2.6"/>
<circle cx="258.3" cy="434.8" r="2.6"/>
<circle cx="237.6" cy="448.4" r="2.6"/>
<circle cx="148.6" cy="517.7" r="2.6"/>
<circle cx="101.9" cy="535.7" r="2.6"/>
<circle cx="133.9" cy="528.3" r="2.6"/>
<circle cx="261.5" cy="390.5" r="2.6"/>
<circle cx="107.5" cy="561.4" r="2.6"/>
<circle cx="217.0" cy="480.7" r="2.6"/>
<circle cx="124.7" cy="558.9" r="2.6"/>
<circle cx="156.3" cy="539.9" r="2.6"/>
<circle cx="182.5" cy="504.9" r="2.6"/>
<circle cx="135.8" cy="530.9" r="2.6"/>
<circle cx="162.8" cy="509.9" r="2.6"/>
<circle cx="142.8" cy="508.1" r="2.6"/>
<circle cx="199.4" cy="480.9" r="2.6"/>
<circle cx="102.6" cy="547.0" r="2.6"/>
<circle cx="125.4" cy="534.4" r="2.6"/>
<circle cx="163.2" cy="485.8" r="2.6"/>
<circle cx="137.2" cy="547.1" r="2.6"/>
<circle cx="245.9" cy="467.9" r="2.6"/>
<circle cx="121.3" cy="542.6" r="2.6"/>
<circle cx="145.8" cy="520.7" r="2.6"/>
<circle cx="111.3" cy="536.7" r="2.6"/>
<circle cx="148.6" cy="521.1" r="2.6"/>
<circle cx="191.5" cy="447.3" r="2.6"/>
<circle cx="158.1" cy="515.8" r="2.6"/>
<circle cx="166.0" cy="463.1" r="2.6"/>
<circle cx="159.1" cy="531.6" r="2.6"/>
<circle cx="97.5" cy="556.7" r="2.6"/>
<circle cx="124.5" cy="547.7" r="2.6"/>
<circle cx="108.7" cy="563.1" r="2.6"/>
<circle cx="292.4" cy="420.6" r="2.6"/>
<circle cx="140.1" cy="501.0" r="2.6"/>
<circle cx="238.7" cy="433.2" r="2.6"/>
<circle cx="134.7" cy="541.1" r="2.6"/>
<circle cx="225.1" cy="484.4" r="2.6"/>
<circle cx="208.9" cy="431.4" r="2.6"/>
<circle cx="240.6" cy="448.3" r="2.6"/>
<circle cx="95.1" cy="560.1" r="2.6"/>
<circle cx="77.1" cy="541.7" r="2.6"/>
<circle cx="180.2" cy="488.6" r="2.6"/>
<circle cx="98.0" cy="543.3" r="2.6"/>
<circle cx="136.3" cy="528.3" r="2.6"/>
<circle cx="207.2" cy="452.5" r="2.6"/>
<circle cx="106.5" cy="557.3" r="2.6"/>
<circle cx="149.8" cy="518.8" r="2.6"/>
<circle cx="173.9" cy="495.3" r="2.6"/>
<circle cx="143.6" cy="496.0" r="2.6"/>
<circle cx="82.9" cy="545.8" r="2.6"/>
<circle cx="93.3" cy="559.4" r="2.6"/>
<circle cx="110.6" cy="558.6" r="2.6"/>
<circle cx="194.3" cy="457.1" r="2.6"/>
<circle cx="171.5" cy="481.4" r="2.6"/>
<circle cx="167.0" cy="456.1" r="2.6"/>
<circle cx="137.1" cy="531.8" r="2.6"/>
<circle cx="97.4" cy="560.2" r="2.6"/>
<circle cx="117.7" cy="531.5" r="2.6"/>
<circle cx="257.5" cy="434.9" r="2.6"/>
<circle cx="159.0" cy="438.3" r="2.6"/>
<circle cx="184.2" cy="476.9" r="2.6"/>
<circle cx="173.9" cy="467.0" r="2.6"/>
<circle cx="145.3" cy="521.1" r="2.6"/>
<circle cx="195.0" cy="469.8" r="2.6"/>
<circle cx="128.0" cy="552.7" r="2.6"/>
<circle cx="237.0" cy="430.9" r="2.6"/>
<circle cx="120.6" cy="501.4" r="2.6"/>
<circle cx="143.2" cy="530.3" r="2.6"/>
<circle cx="191.7" cy="500.2" r="2.6"/>
<circle cx="140.5" cy="555.2" r="2.6"/>
<circle cx="168.9" cy="495.4" r="2.6"/>
<circle cx="281.5" cy="425.3" r="2.6"/>
<circle cx="192.2" cy="497.9" r="2.6"/>
<circle cx="128.2" cy="515.1" r="2.6"/>
<circle cx="212.1" cy="491.4" r="2.6"/>
<circle cx="212.8" cy="486.5" r="2.6"/>
<circle cx="182.5" cy="499.9" r="2.6"/>
<circle cx="169.7" cy="512.6" r="2.6"/>
<circle cx="122.1" cy="537.8" r="2.6"/>
<circle cx="177.7" cy="512.6" r="2.6"/>
<circle cx="146.5" cy="517.0" r="2.6"/>
<circle cx="192.2" cy="469.5" r="2.6"/>
<circle cx="166.9" cy="505.8" r="2.6"/>
<circle cx="176.4" cy="497.1" r="2.6"/>
<circle cx="223.7" cy="457.3" r="2.6"/>
<circle cx="170.5" cy="500.4" r="2.6"/>
<circle cx="95.0" cy="541.8" r="2.6"/>
<circle cx="130.1" cy="528.2" r="2.6"/>
<circle cx="159.1" cy="526.8" r="2.6"/>
<circle cx="121.0" cy="541.3" r="2.6"/>
<circle cx="240.7" cy="472.6" r="2.6"/>
<circle cx="213.9" cy="464.7" r="2.6"/>
<circle cx="149.0" cy="541.6" r="2.6"/>
<circle cx="155.4" cy="503.7" r="2.6"/>
<circle cx="229.9" cy="480.6" r="2.6"/>
<circle cx="195.3" cy="480.9" r="2.6"/>
<circle cx="248.2" cy="470.7" r="2.6"/>
<circle cx="208.6" cy="471.5" r="2.6"/>
<circle cx="240.1" cy="462.8" r="2.6"/>
<circle cx="175.1" cy="495.3" r="2.6"/>
<circle cx="107.1" cy="558.7" r="2.6"/>
<circle cx="182.0" cy="517.6" r="2.6"/>
<circle cx="152.7" cy="478.6" r="2.6"/>
<circle cx="191.5" cy="440.1" r="2.6"/>
<circle cx="206.9" cy="468.1" r="2.6"/>
<circle cx="129.6" cy="535.3" r="2.6"/>
<circle cx="157.1" cy="488.6" r="2.6"/>
<circle cx="156.8" cy="515.6" r="2.6"/>
<circle cx="127.3" cy="531.1" r="2.6"/>
<circle cx="174.4" cy="492.8" r="2.6"/>
<circle cx="206.6" cy="483.7" r="2.6"/>
<circle cx="193.1" cy="491.9" r="2.6"/>
<circle cx="210.1" cy="495.1" r="2.6"/>
<circle cx="224.3" cy="479.2" r="2.6"/>
<circle cx="179.0" cy="481.0" r="2.6"/>
<circle cx="225.4" cy="463.9" r="2.6"/>
<circle cx="94.9" cy="552.6" r="2.6"/>
<circle cx="100.3" cy="548.3" r="2.6"/>
<circle cx="145.6" cy="508.2" r="2.6"/>
<circle cx="176.8" cy="506.7" r="2.6"/>
<circle cx="211.4" cy="477.2" r="2.6"/>
<circle cx="142.9" cy="490.5" r="2.6"/>
<circle cx="216.6" cy="490.0" r="2.6"/>
<circle cx="120.0" cy="540.3" r="2.6"/>
<circle cx="180.3" cy="493.1" r="2.6"/>
<circle cx="204.7" cy="493.1" r="2.6"/>
<circle cx="98.3" cy="558.4" r="2.6"/>
<circle cx="258.6" cy="433.5" r="2.6"/>
<circle cx="208.2" cy="481.7" r="2.6"/>
<circle cx="118.3" cy="541.5" r="2.6"/>
<circle cx="127.9" cy="541.6" r="2.6"/>
<circle cx="183.7" cy="510.9" r="2.6"/>
<circle cx="147.6" cy="539.6" r="2.6"/>
<circle cx="144.5" cy="524.6" r="2.6"/>
<circle cx="219.4" cy="472.7" r="2.6"/>
<circle cx="176.4" cy="514.5" r="2.6"/>
<circle cx="166.3" cy="459.9" r="2.6"/>
<circle cx="276.6" cy="419.0" r="2.6"/>
<circle cx="222.9" cy="504.6" r="2.6"/>
<circle cx="103.8" cy="548.1" r="2.6"/>
<circle cx="117.7" cy="549.1" r="2.6"/>
<circle cx="96.1" cy="549.5" r="2.6"/>
<circle cx="178.6" cy="495.0" r="2.6"/>
<circle cx="153.4" cy="531.4" r="2.6"/>
<circle cx="144.4" cy="518.8" r="2.6"/>
<circle cx="139.0" cy="461.8" r="2.6"/>
<circle cx="282.3" cy="439.1" r="2.6"/>
<circle cx="202.8" cy="477.6" r="2.6"/>
<circle cx="187.9" cy="422.1" r="2.6"/>
<circle cx="121.9" cy="513.1" r="2.6"/>
<circle cx="276.8" cy="447.6" r="2.6"/>
<circle cx="239.9" cy="450.5" r="2.6"/>
<circle cx="258.1" cy="440.0" r="2.6"/>
<circle cx="168.0" cy="505.0" r="2.6"/>
<circle cx="157.3" cy="515.7" r="2.6"/>
<circle cx="121.7" cy="559.6" r="2.6"/>
<circle cx="185.9" cy="495.1" r="2.6"/>
<circle cx="178.5" cy="440.6" r="2.6"/>
<circle cx="213.4" cy="442.4" r="2.6"/>
<circle cx="220.2" cy="450.1" r="2.6"/>
<circle cx="123.7" cy="526.0" r="2.6"/>
<circle cx="86.5" cy="552.7" r="2.6"/>
<circle cx="159.7" cy="483.0" r="2.6"/>
<circle cx="213.4" cy="469.8" r="2.6"/>
<circle cx="130.4" cy="542.4" r="2.6"/>
<circle cx="138.9" cy="529.1" r="2.6"/>
<circle cx="166.6" cy="478.5" r="2.6"/>
<circle cx="122.8" cy="537.6" r="2.6"/>
<circle cx="131.1" cy="531.2" r="2.6"/>
<circle cx="178.7" cy="519.1" r="2.6"/>
<circle cx="77.3" cy="535.2" r="2.6"/>
<circle cx="205.9" cy="447.8" r="2.6"/>
<circle cx="209.4" cy="449.7" r="2.6"/>
<circle cx="197.6" cy="450.5" r="2.6"/>
<circle cx="127.4" cy="547.9" r="2.6"/>
<circle cx="117.5" cy="518.2" r="2.6"/>
<circle cx="153.1" cy="517.0" r="2.6"/>
<circle cx="132.9" cy="495.9" r="2.6"/>
<circle cx="222.4" cy="445.7" r="2.6"/>
<circle cx="236.3" cy="478.8" r="2.6"/>
<circle cx="128.2" cy="509.8" r="2.6"/>
<circle cx="239.4" cy="479.6" r="2.6"/>
<circle cx="157.7" cy="528.2" r="2.6"/>
<circle cx="222.5" cy="437.3" r="2.6"/>
<circle cx="126.8" cy="542.2" r="2.6"/>
<circle cx="217.8" cy="459.9" r="2.6"/>
<circle cx="97.0" cy="565.0" r="2.6"/>
<circle cx="162.7" cy="464.7" r="2.6"/>
<circle cx="302.6" cy="421.7" r="2.6"/>
<circle cx="251.0" cy="420.2" r="2.6"/>
<circle cx="214.3" cy="445.4" r="2.6"/>
<circle cx="159.6" cy="503.0" r="2.6"/>
<circle cx="235.8" cy="469.8" r="2.6"/>
<circle cx="119.1" cy="548.6" r="2.6"/>
<circle cx="225.9" cy="433.9" r="2.6"/>
<circle cx="162.8" cy="490.4" r="2.6"/>
<circle cx="181.4" cy="480.2" r="2.6"/>
<circle cx="244.3" cy="430.7" r="2.6"/>
<circle cx="100.7" cy="537.8" r="2.6"/>
<circle cx="173.4" cy="498.3" r="2.6"/>
<circle cx="216.5" cy="411.3" r="2.6"/>
<circle cx="115.7" cy="551.4" r="2.6"/>
<circle cx="181.1" cy="436.1" r="2.6"/>
<circle cx="123.0" cy="518.8" r="2.6"/>
<circle cx="239.7" cy="425.2" r="2.6"/>
<circle cx="142.4" cy="501.8" r="2.6"/>
<circle cx="107.8" cy="564.0" r="2.6"/>
<circle cx="104.8" cy="534.0" r="2.6"/>
<circle cx="110.6" cy="553.3" r="2.6"/>
<circle cx="315.2" cy="462.0" r="2.6"/>
<circle cx="152.7" cy="467.8" r="2.6"/>
<circle cx="84.3" cy="551.8" r="2.6"/>
<circle cx="202.5" cy="445.2" r="2.6"/>
<circle cx="212.9" cy="462.0" r="2.6"/>
<circle cx="160.4" cy="522.0" r="2.6"/>
<circle cx="234.9" cy="430.1" r="2.6"/>
<circle cx="203.3" cy="509.9" r="2.6"/>
<circle cx="299.7" cy="443.5" r="2.6"/>
<circle cx="198.0" cy="506.0" r="2.6"/>
<circle cx="102.5" cy="541.2" r="2.6"/>
<circle cx="100.9" cy="554.0" r="2.6"/>
<circle cx="104.1" cy="539.9" r="2.6"/>
<circle cx="152.0" cy="473.1" r="2.6"/>
<circle cx="161.4" cy="463.6" r="2.6"/>
<circle cx="120.1" cy="535.0" r="2.6"/>
<circle cx="233.1" cy="424.2" r="2.6"/>
<circle cx="94.9" cy="555.9" r="2.6"/>
<circle cx="160.7" cy="511.9" r="2.6"/>
<circle cx="110.9" cy="547.8" r="2.6"/>
<circle cx="133.8" cy="524.2" r="2.6"/>
<circle cx="145.1" cy="544.7" r="2.6"/>
<circle cx="151.6" cy="534.9" r="2.6"/>
<circle cx="147.0" cy="502.7" r="2.6"/>
<circle cx="170.2" cy="444.4" r="2.6"/>
<circle cx="215.0" cy="492.7" r="2.6"/>
<circle cx="176.4" cy="523.4" r="2.6"/>
<circle cx="128.1" cy="526.1" r="2.6"/>
<circle cx="140.8" cy="497.2" r="2.6"/>
<circle cx="157.6" cy="510.6" r="2.6"/>
<circle cx="148.4" cy="519.1" r="2.6"/>
<circle cx="121.8" cy="535.0" r="2.6"/>
<circle cx="184.8" cy="482.8" r="2.6"/>
<circle cx="158.7" cy="528.6" r="2.6"/>
<circle cx="98.0" cy="549.3" r="2.6"/>
<circle cx="194.5" cy="489.8" r="2.6"/>
<circle cx="295.5" cy="426.5" r="2.6"/>
<circle cx="196.1" cy="485.7" r="2.6"/>
<circle cx="163.4" cy="468.1" r="2.6"/>
<circle cx="273.9" cy="420.7" r="2.6"/>
<circle cx="195.1" cy="484.3" r="2.6"/>
<circle cx="113.6" cy="545.0" r="2.6"/>
<circle cx="133.6" cy="488.5" r="2.6"/>
<circle cx="275.7" cy="424.5" r="2.6"/>
<circle cx="139.8" cy="532.7" r="2.6"/>
<circle cx="145.1" cy="543.0" r="2.6"/>
<circle cx="160.9" cy="507.3" r="2.6"/>
<circle cx="190.9" cy="508.9" r="2.6"/>
<circle cx="270.0" cy="427.3" r="2.6"/>
<circle cx="173.1" cy="478.1" r="2.6"/>
<circle cx="224.7" cy="421.9" r="2.6"/>
<circle cx="143.9" cy="465.3" r="2.6"/>
<circle cx="252.3" cy="478.5" r="2.6"/>
<circle cx="141.4" cy="541.2" r="2.6"/>
<circle cx="110.7" cy="544.5" r="2.6"/>
<circle cx="114.0" cy="562.0" r="2.6"/>
<circle cx="182.8" cy="447.6" r="2.6"/>
<circle cx="115.7" cy="542.2" r="2.6"/>
<circle cx="297.7" cy="440.2" r="2.6"/>
<circle cx="142.7" cy="529.2" r="2.6"/>
<circle cx="170.9" cy="498.1" r="2.6"/>
<circle cx="142.3" cy="479.4" r="2.6"/>
<circle cx="128.1" cy="513.0" r="2.6"/>
<circle cx="166.8" cy="518.1" r="2.6"/>
<circle cx="200.4" cy="473.5" r="2.6"/>
<circle cx="168.2" cy="510.5" r="2.6"/>
<circle cx="243.0" cy="469.3" r="2.6"/>
<circle cx="185.4" cy="493.5" r="2.6"/>
<circle cx="169.7" cy="517.1" r="2.6"/>
<circle cx="136.4" cy="535.6" r="2.6"/>
<circle cx="193.5" cy="490.3" r="2.6"/>
<circle cx="184.0" cy="507.7" r="2.6"/>
<circle cx="153.8" cy="527.9" r="2.6"/>
<circle cx="109.6" cy="562.9" r="2.6"/>
<circle cx="227.2" cy="456.4" r="2.6"/>
<circle cx="112.0" cy="543.5" r="2.6"/>
<circle cx="104.4" cy="558.2" r="2.6"/>
<circle cx="173.7" cy="475.6" r="2.6"/>
<circle cx="156.7" cy="515.8" r="2.6"/>
<circle cx="117.5" cy="560.0" r="2.6"/>
<circle cx="140.6" cy="535.2" r="2.6"/>
<circle cx="135.5" cy="521.9" r="2.6"/>
<circle cx="282.6" cy="480.9" r="2.6"/>
<circle cx="266.8" cy="419.3" r="2.6"/>
<circle cx="130.8" cy="504.2" r="2.6"/>
<circle cx="135.0" cy="520.4" r="2.6"/>
<circle cx="121.2" cy="552.4" r="2.6"/>
<circle cx="156.7" cy="514.5" r="2.6"/>
<circle cx="168.9" cy="515.3" r="2.6"/>
<circle cx="195.5" cy="462.7" r="2.6"/>
<circle cx="202.3" cy="442.4" r="2.6"/>
<circle cx="180.5" cy="454.3" r="2.6"/>
<circle cx="128.8" cy="516.2" r="2.6"/>
<circle cx="118.3" cy="513.9" r="2.6"/>
<circle cx="185.1" cy="499.4" r="2.6"/>
<circle cx="134.2" cy="532.1" r="2.6"/>
<circle cx="122.3" cy="554.8" r="2.6"/>
<circle cx="111.4" cy="547.7" r="2.6"/>
<circle cx="195.3" cy="518.8" r="2.6"/>
<circle cx="130.8" cy="543.8" r="2.6"/>
<circle cx="168.6" cy="527.2" r="2.6"/>
<circle cx="234.3" cy="459.3" r="2.6"/>
<circle cx="176.2" cy="489.0" r="2.6"/>
<circle cx="248.8" cy="434.5" r="2.6"/>
<circle cx="182.2" cy="446.6" r="2.6"/>
<circle cx="272.1" cy="418.5" r="2.6"/>
<circle cx="203.9" cy="484.2" r="2.6"/>
<circle cx="148.6" cy="528.0" r="2.6"/>
<circle cx="177.3" cy="502.0" r="2.6"/>
<circle cx="220.5" cy="483.8" r="2.6"/>
<circle cx="97.1" cy="548.8" r="2.6"/>
<circle cx="172.5" cy="520.3" r="2.6"/>
<circle cx="126.3" cy="488.3" r="2.6"/>
<circle cx="250.9" cy="438.7" r="2.6"/>
<circle cx="233.3" cy="438.1" r="2.6"/>
<circle cx="202.0" cy="500.3" r="2.6"/>
<circle cx="129.8" cy="545.1" r="2.6"/>
<circle cx="179.5" cy="498.6" r="2.6"/>
<circle cx="152.2" cy="500.4" r="2.6"/>
<circle cx="237.3" cy="418.1" r="2.6"/>
<circle cx="212.3" cy="486.0" r="2.6"/>
<circle cx="215.6" cy="457.1" r="2.6"/>
<circle cx="175.0" cy="496.4" r="2.6"/>
<circle cx="184.9" cy="506.3" r="2.6"/>
<circle cx="148.9" cy="529.7" r="2.6"/>
<circle cx="215.3" cy="429.1" r="2.6"/>
<circle cx="180.6" cy="511.7" r="2.6"/>
<circle cx="245.2" cy="446.8" r="2.6"/>
<circle cx="133.1" cy="514.7" r="2.6"/>
<circle cx="161.1" cy="509.3" r="2.6"/>
<circle cx="210.5" cy="453.2" r="2.6"/>
<circle cx="111.7" cy="535.5" r="2.6"/>
<circle cx="226.5" cy="473.9" r="2.6"/>
<circle cx="201.3" cy="465.6" r="2.6"/>
<circle cx="236.9" cy="478.1" r="2.6"/>
<circle cx="246.9" cy="450.0" r="2.6"/>
<circle cx="223.4" cy="473.1" r="2.6"/>
<circle cx="119.4" cy="516.7" r="2.6"/>
<circle cx="140.2" cy="503.3" r="2.6"/>
<circle cx="172.0" cy="508.4" r="2.6"/>
<circle cx="181.9" cy="458.1" r="2.6"/>
<circle cx="189.1" cy="450.6" r="2.6"/>
<circle cx="183.3" cy="498.1" r="2.6"/>
<circle cx="162.7" cy="477.1" r="2.6"/>
<circle cx="207.3" cy="494.9" r="2.6"/>
<circle cx="242.9" cy="452.0" r="2.6"/>
<circle cx="174.4" cy="498.0" r="2.6"/>
<circle cx="290.6" cy="429.2" r="2.6"/>
<circle cx="128.5" cy="525.6" r="2.6"/>
<circle cx="246.0" cy="450.3" r="2.6"/>
<circle cx="129.8" cy="544.6" r="2.6"/>
<circle cx="175.5" cy="459.8" r="2.6"/>
<circle cx="97.0" cy="563.9" r="2.6"/>
<circle cx="155.2" cy="509.5" r="2.6"/>
<circle cx="124.7" cy="532.5" r="2.6"/>
<circle cx="143.3" cy="482.5" r="2.6"/>
<circle cx="155.8" cy="535.9" r="2.6"/>
<circle cx="94.4" cy="533.6" r="2.6"/>
<circle cx="280.9" cy="429.9" r="2.6"/>
<circle cx="137.4" cy="484.5" r="2.6"/>
<circle cx="227.5" cy="442.5" r="2.6"/>
<circle cx="111.1" cy="548.6" r="2.6"/>
<circle cx="98.3" cy="552.2" r="2.6"/>
<circle cx="195.6" cy="500.4" r="2.6"/>
<circle cx="239.3" cy="452.1" r="2.6"/>
<circle cx="154.6" cy="527.9" r="2.6"/>
<circle cx="141.8" cy="519.0" r="2.6"/>
<circle cx="128.2" cy="527.5" r="2.6"/>
<circle cx="277.1" cy="454.0" r="2.6"/>
<circle cx="134.2" cy="499.1" r="2.6"/>
<circle cx="126.5" cy="535.3" r="2.6"/>
<circle cx="232.6" cy="479.7" r="2.6"/>
<circle cx="135.4" cy="527.6" r="2.6"/>
<circle cx="177.0" cy="495.7" r="2.6"/>
<circle cx="224.2" cy="461.1" r="2.6"/>
<circle cx="230.4" cy="432.6" r="2.6"/>
<circle cx="214.7" cy="476.4" r="2.6"/>
<circle cx="164.7" cy="508.7" r="2.6"/>
<circle cx="114.8" cy="558.0" r="2.6"/>
<circle cx="148.4" cy="499.2" r="2.6"/>
<circle cx="174.5" cy="491.6" r="2.6"/>
<circle cx="223.9" cy="490.3" r="2.6"/>
<circle cx="213.2" cy="486.5" r="2.6"/>
<circle cx="103.5" cy="561.2" r="2.6"/>
<circle cx="87.7" cy="543.5" r="2.6"/>
<circle cx="167.1" cy="519.2" r="2.6"/>
<circle cx="147.4" cy="528.4" r="2.6"/>
<circle cx="228.9" cy="422.7" r="2.6"/>
<circle cx="127.0" cy="544.8" r="2.6"/>
<circle cx="129.6" cy="526.6" r="2.6"/>
<circle cx="212.9" cy="493.3" r="2.6"/>
<circle cx="289.8" cy="419.0" r="2.6"/>
<circle cx="230.0" cy="414.8" r="2.6"/>
<circle cx="193.2" cy="481.2" r="2.6"/>
<circle cx="101.4" cy="558.8" r="2.6"/>
<circle cx="216.7" cy="454.5" r="2.6"/>
<circle cx="291.3" cy="417.9" r="2.6"/>
<circle cx="146.8" cy="537.3" r="2.6"/>
<circle cx="97.3" cy="536.7" r="2.6"/>
<circle cx="132.2" cy="486.2" r="2.6"/>
<circle cx="198.4" cy="439.6" r="2.6"/>
<circle cx="130.6" cy="542.7" r="2.6"/>
<circle cx="135.6" cy="527.6" r="2.6"/>
<circle cx="101.5" cy="536.0" r="2.6"/>
<circle cx="247.3" cy="445.8" r="2.6"/>
<circle cx="92.3" cy="533.0" r="2.6"/>
<circle cx="81.3" cy="543.6" r="2.6"/>
<circle cx="186.7" cy="478.2" r="2.6"/>
<circle cx="190.4" cy="461.7" r="2.6"/>
<circle cx="151.6" cy="498.1" r="2.6"/>
<circle cx="102.4" cy="556.2" r="2.6"/>
<circle cx="223.3" cy="434.3" r="2.6"/>
<circle cx="250.1" cy="415.7" r="2.6"/>
<circle cx="147.1" cy="479.2" r="2.6"/>
<circle cx="157.6" cy="521.6" r="2.6"/>
<circle cx="278.0" cy="437.7" r="2.6"/>
<circle cx="253.8" cy="411.9" r="2.6"/>
<circle cx="124.2" cy="538.2" r="2.6"/>
<circle cx="203.2" cy="470.4" r="2.6"/>
<circle cx="257.0" cy="413.6" r="2.6"/>
<circle cx="261.3" cy="406.1" r="2.6"/>
<circle cx="137.5" cy="466.8" r="2.6"/>
<circle cx="334.0" cy="440.3" r="2.6"/>
<circle cx="175.3" cy="450.1" r="2.6"/>
<circle cx="210.7" cy="496.9" r="2.6"/>
<circle cx="135.9" cy="480.2" r="2.6"/>
<circle cx="196.0" cy="482.4" r="2.6"/>
<circle cx="180.7" cy="494.4" r="2.6"/>
<circle cx="119.8" cy="523.2" r="2.6"/>
<circle cx="199.1" cy="456.7" r="2.6"/>
<circle cx="111.0" cy="543.2" r="2.6"/>
<circle cx="145.8" cy="525.0" r="2.6"/>
<circle cx="162.4" cy="524.0" r="2.6"/>
<circle cx="237.7" cy="455.1" r="2.6"/>
<circle cx="236.5" cy="458.3" r="2.6"/>
<circle cx="154.8" cy="487.8" r="2.6"/>
<circle cx="96.4" cy="557.7" r="2.6"/>
<circle cx="115.7" cy="554.3" r="2.6"/>
<circle cx="184.7" cy="505.3" r="2.6"/>
<circle cx="151.9" cy="448.6" r="2.6"/>
<circle cx="252.7" cy="430.6" r="2.6"/>
<circle cx="117.5" cy="540.4" r="2.6"/>
<circle cx="262.9" cy="435.0" r="2.6"/>
<circle cx="172.3" cy="507.4" r="2.6"/>
<circle cx="253.4" cy="464.7" r="2.6"/>
<circle cx="211.5" cy="475.3" r="2.6"/>
<circle cx="174.6" cy="463.0" r="2.6"/>
<circle cx="140.4" cy="522.5" r="2.6"/>
<circle cx="81.7" cy="532.5" r="2.6"/>
<circle cx="167.5" cy="506.5" r="2.6"/>
<circle cx="175.9" cy="518.5" r="2.6"/>
<circle cx="276.5" cy="417.3" r="2.6"/>
<circle cx="120.0" cy="554.9" r="2.6"/>
<circle cx="139.3" cy="472.5" r="2.6"/>
<circle cx="208.2" cy="477.3" r="2.6"/>
<circle cx="176.3" cy="493.7" r="2.6"/>
<circle cx="174.2" cy="530.0" r="2.6"/>
<circle cx="230.6" cy="429.8" r="2.6"/>
<circle cx="148.5" cy="520.4" r="2.6"/>
<circle cx="179.1" cy="450.4" r="2.6"/>
<circle cx="183.3" cy="474.3" r="2.6"/>
<circle cx="130.0" cy="552.7" r="2.6"/>
<circle cx="101.9" cy="544.7" r="2.6"/>
<circle cx="203.8" cy="454.5" r="2.6"/>
<circle cx="183.2" cy="501.7" r="2.6"/>
<circle cx="128.1" cy="549.7" r="2.6"/>
<circle cx="210.9" cy="423.8" r="2.6"/>
<circle cx="119.1" cy="542.7" r="2.6"/>
<circle cx="273.3" cy="424.5" r="2.6"/>
<circle cx="140.7" cy="534.1" r="2.6"/>
<circle cx="74.6" cy="537.8" r="2.6"/>
<circle cx="125.4" cy="502.7" r="2.6"/>
<circle cx="298.9" cy="430.9" r="2.6"/>
<circle cx="154.3" cy="466.0" r="2.6"/>
<circle cx="153.0" cy="526.1" r="2.6"/>
<circle cx="205.5" cy="421.4" r="2.6"/>
<circle cx="286.6" cy="421.0" r="2.6"/>
<circle cx="114.8" cy="555.2" r="2.6"/>
<circle cx="125.5" cy="535.9" r="2.6"/>
<circle cx="106.6" cy="544.5" r="2.6"/>
<circle cx="197.6" cy="488.1" r="2.6"/>
<circle cx="214.6" cy="489.8" r="2.6"/>
<circle cx="211.2" cy="447.2" r="2.6"/>
<circle cx="131.5" cy="536.1" r="2.6"/>
<circle cx="138.3" cy="550.7" r="2.6"/>
<circle cx="256.7" cy="431.9" r="2.6"/>
<circle cx="160.5" cy="463.3" r="2.6"/>
<circle cx="115.2" cy="556.9" r="2.6"/>
<circle cx="148.5" cy="490.0" r="2.6"/>
<circle cx="132.0" cy="534.7" r="2.6"/>
<circle cx="227.0" cy="487.6" r="2.6"/>
<circle cx="154.1" cy="521.8" r="2.6"/>
<circle cx="195.9" cy="485.1" r="2.6"/>
<circle cx="249.3" cy="453.4" r="2.6"/>
<circle cx="148.4" cy="534.1" r="2.6"/>
<circle cx="159.5" cy="500.6" r="2.6"/>
<circle cx="130.8" cy="525.9" r="2.6"/>
<circle cx="244.0" cy="447.5" r="2.6"/>
<circle cx="148.5" cy="481.3" r="2.6"/>
<circle cx="224.9" cy="459.8" r="2.6"/>
<circle cx="95.2" cy="559.8" r="2.6"/>
<circle cx="223.3" cy="423.4" r="2.6"/>
<circle cx="270.9" cy="426.6" r="2.6"/>
<circle cx="127.2" cy="508.9" r="2.6"/>
<circle cx="115.6" cy="545.9" r="2.6"/>
<circle cx="190.2" cy="448.5" r="2.6"/>
<circle cx="145.0" cy="535.6" r="2.6"/>
<circle cx="112.7" cy="534.9" r="2.6"/>
<circle cx="146.3" cy="529.7" r="2.6"/>
<circle cx="172.9" cy="463.7" r="2.6"/>
<circle cx="180.7" cy="501.2" r="2.6"/>
<circle cx="143.4" cy="518.5" r="2.6"/>
<circle cx="278.5" cy="426.6" r="2.6"/>
<circle cx="177.1" cy="476.7" r="2.6"/>
<circle cx="127.8" cy="526.5" r="2.6"/>
<circle cx="143.2" cy="535.2" r="2.6"/>
<circle cx="237.4" cy="449.0" r="2.6"/>
<circle cx="264.2" cy="438.8" r="2.6"/>
<circle cx="254.5" cy="429.4" r="2.6"/>
<circle cx="162.1" cy="517.7" r="2.6"/>
<circle cx="227.4" cy="444.0" r="2.6"/>
<circle cx="166.9" cy="494.1" r="2.6"/>
<circle cx="181.6" cy="500.4" r="2.6"/>
<circle cx="210.4" cy="488.8" r="2.6"/>
<circle cx="143.1" cy="485.4" r="2.6"/>
<circle cx="185.6" cy="504.1" r="2.6"/>
<circle cx="182.6" cy="499.7" r="2.6"/>
<circle cx="265.5" cy="438.2" r="2.6"/>
<circle cx="137.3" cy="494.6" r="2.6"/>
<circle cx="160.3" cy="509.3" r="2.6"/>
<circle cx="146.2" cy="531.1" r="2.6"/>
<circle cx="299.7" cy="419.7" r="2.6"/>
<circle cx="210.1" cy="496.1" r="2.6"/>
<circle cx="92.2" cy="564.8" r="2.6"/>
<circle cx="119.2" cy="537.3" r="2.6"/>
<circle cx="83.9" cy="537.0" r="2.6"/>
<circle cx="203.8" cy="512.8" r="2.6"/>
<circle cx="180.8" cy="484.5" r="2.6"/>
<circle cx="111.0" cy="547.8" r="2.6"/>
<circle cx="253.5" cy="444.8" r="2.6"/>
<circle cx="279.7" cy="424.5" r="2.6"/>
<circle cx="253.3" cy="435.5" r="2.6"/>
<circle cx="255.3" cy="435.8" r="2.6"/>
<circle cx="133.6" cy="546.4" r="2.6"/>
<circle cx="95.6" cy="564.3" r="2.6"/>
<circle cx="160.3" cy="516.0" r="2.6"/>
<circle cx="140.9" cy="522.4" r="2.6"/>
<circle cx="184.7" cy="484.5" r="2.6"/>
<circle cx="137.7" cy="538.5" r="2.6"/>
<circle cx="142.2" cy="488.8" r="2.6"/>
<circle cx="278.8" cy="443.4" r="2.6"/>
<circle cx="269.1" cy="439.7" r="2.6"/>
<circle cx="238.5" cy="465.0" r="2.6"/>
<circle cx="252.3" cy="439.9" r="2.6"/>
<circle cx="170.1" cy="479.8" r="2.6"/>
<circle cx="178.5" cy="498.5" r="2.6"/>
<circle cx="149.9" cy="536.0" r="2.6"/>
<circle cx="125.7" cy="538.2" r="2.6"/>
<circle cx="96.0" cy="560.1" r="2.6"/>
<circle cx="226.0" cy="426.0" r="2.6"/>
<circle cx="203.5" cy="458.8" r="2.6"/>
<circle cx="225.0" cy="481.5" r="2.6"/>
<circle cx="187.0" cy="472.8" r="2.6"/>
<circle cx="237.3" cy="454.6" r="2.6"/>
<circle cx="123.2" cy="536.1" r="2.6"/>
<circle cx="253.3" cy="428.2" r="2.6"/>
<circle cx="165.3" cy="446.2" r="2.6"/>
<circle cx="196.2" cy="470.0" r="2.6"/>
<circle cx="144.8" cy="521.2" r="2.6"/>
<circle cx="221.9" cy="481.8" r="2.6"/>
<circle cx="134.7" cy="539.7" r="2.6"/>
<circle cx="213.1" cy="457.9" r="2.6"/>
<circle cx="131.8" cy="507.6" r="2.6"/>
<circle cx="106.8" cy="533.1" r="2.6"/>
<circle cx="237.9" cy="418.3" r="2.6"/>
<circle cx="180.4" cy="504.2" r="2.6"/>
<circle cx="176.8" cy="510.9" r="2.6"/>
<circle cx="237.1" cy="461.6" r="2.6"/>
<circle cx="181.8" cy="482.1" r="2.6"/>
<circle cx="208.8" cy="473.7" r="2.6"/>
<circle cx="181.4" cy="517.3" r="2.6"/>
<circle cx="91.5" cy="561.6" r="2.6"/>
<circle cx="181.6" cy="496.0" r="2.6"/>
<circle cx="140.7" cy="485.0" r="2.6"/>
<circle cx="148.3" cy="458.8" r="2.6"/>
<circle cx="248.7" cy="464.9" r="2.6"/>
<circle cx="228.3" cy="465.5" r="2.6"/>
<circle cx="144.2" cy="504.1" r="2.6"/>
<circle cx="206.2" cy="446.4" r="2.6"/>
<circle cx="179.6" cy="468.3" r="2.6"/>
<circle cx="164.9" cy="528.3" r="2.6"/>
<circle cx="121.0" cy="524.6" r="2.6"/>
<circle cx="171.2" cy="478.7" r="2.6"/>
<circle cx="118.2" cy="541.8" r="2.6"/>
<circle cx="128.9" cy="528.7" r="2.6"/>
<circle cx="175.3" cy="470.6" r="2.6"/>
<circle cx="159.1" cy="519.1" r="2.6"/>
<circle cx="114.5" cy="534.4" r="2.6"/>
<circle cx="281.4" cy="416.9" r="2.6"/>
<circle cx="175.1" cy="471.2" r="2.6"/>
<circle cx="223.4" cy="443.3" r="2.6"/>
<circle cx="188.5" cy="497.2" r="2.6"/>
<circle cx="180.2" cy="460.3" r="2.6"/>
<circle cx="119.4" cy="559.4" r="2.6"/>
<circle cx="239.7" cy="434.0" r="2.6"/>
<circle cx="120.9" cy="536.3" r="2.6"/>
<circle cx="204.5" cy="480.1" r="2.6"/>
<circle cx="204.9" cy="463.3" r="2.6"/>
<circle cx="161.1" cy="523.1" r="2.6"/>
<circle cx="208.4" cy="445.3" r="2.6"/>
<circle cx="188.7" cy="491.1" r="2.6"/>
<circle cx="250.3" cy="438.6" r="2.6"/>
<circle cx="245.9" cy="457.6" r="2.6"/>
<circle cx="156.8" cy="522.0" r="2.6"/>
<circle cx="100.3" cy="550.6" r="2.6"/>
<circle cx="134.6" cy="531.7" r="2.6"/>
<circle cx="193.6" cy="490.8" r="2.6"/>
<circle cx="204.5" cy="453.9" r="2.6"/>
<circle cx="100.6" cy="543.1" r="2.6"/>
<circle cx="94.6" cy="550.5" r="2.6"/>
<circle cx="149.3" cy="479.0" r="2.6"/>
<circle cx="143.9" cy="530.4" r="2.6"/>
<circle cx="181.6" cy="463.7" r="2.6"/>
<circle cx="224.1" cy="483.2" r="2.6"/>
<circle cx="177.0" cy="474.9" r="2.6"/>
<circle cx="132.7" cy="506.8" r="2.6"/>
<circle cx="119.4" cy="545.5" r="2.6"/>
<circle cx="98.2" cy="564.0" r="2.6"/>
<circle cx="228.9" cy="486.9" r="2.6"/>
<circle cx="164.0" cy="514.0" r="2.6"/>
<circle cx="124.4" cy="511.2" r="2.6"/>
<circle cx="239.7" cy="429.9" r="2.6"/>
<circle cx="124.5" cy="546.7" r="2.6"/>
<circle cx="142.9" cy="524.0" r="2.6"/>
<circle cx="176.8" cy="498.9" r="2.6"/>
<circle cx="160.2" cy="473.3" r="2.6"/>
<circle cx="149.9" cy="493.3" r="2.6"/>
<circle cx="239.3" cy="472.2" r="2.6"/>
<circle cx="114.7" cy="542.7" r="2.6"/>
<circle cx="143.9" cy="508.3" r="2.6"/>
<circle cx="280.6" cy="418.1" r="2.6"/>
<circle cx="145.1" cy="495.2" r="2.6"/>
<circle cx="196.5" cy="495.1" r="2.6"/>
<circle cx="167.3" cy="506.7" r="2.6"/>
<circle cx="155.4" cy="464.6" r="2.6"/>
<circle cx="254.6" cy="450.2" r="2.6"/>
<circle cx="178.5" cy="444.7" r="2.6"/>
<circle cx="167.5" cy="506.0" r="2.6"/>
<circle cx="174.4" cy="501.9" r="2.6"/>
<circle cx="225.9" cy="458.3" r="2.6"/>
<circle cx="198.5" cy="501.0" r="2.6"/>
<circle cx="204.4" cy="459.7" r="2.6"/>
<circle cx="89.5" cy="541.1" r="2.6"/>
<circle cx="171.7" cy="494.1" r="2.6"/>
<circle cx="147.1" cy="494.1" r="2.6"/>
<circle cx="109.6" cy="525.0" r="2.6"/>
<circle cx="89.1" cy="541.8" r="2.6"/>
<circle cx="193.7" cy="464.1" r="2.6"/>
<circle cx="119.4" cy="516.8" r="2.6"/>
<circle cx="127.4" cy="544.5" r="2.6"/>
<circle cx="149.4" cy="543.2" r="2.6"/>
<circle cx="276.2" cy="439.7" r="2.6"/>
<circle cx="249.5" cy="464.7" r="2.6"/>
<circle cx="157.6" cy="534.0" r="2.6"/>
<circle cx="85.3" cy="563.5" r="2.6"/>
<circle cx="127.4" cy="530.3" r="2.6"/>
<circle cx="269.1" cy="456.3" r="2.6"/>
<circle cx="207.3" cy="464.5" r="2.6"/>
<circle cx="186.9" cy="500.2" r="2.6"/>
<circle cx="194.7" cy="433.1" r="2.6"/>
<circle cx="130.1" cy="538.8" r="2.6"/>
<circle cx="219.0" cy="468.9" r="2.6"/>
<circle cx="101.8" cy="555.5" r="2.6"/>
<circle cx="166.2" cy="455.8" r="2.6"/>
<circle cx="195.7" cy="496.6" r="2.6"/>
<circle cx="125.0" cy="549.6" r="2.6"/>
<circle cx="136.5" cy="491.3" r="2.6"/>
<circle cx="171.9" cy="484.1" r="2.6"/>
<circle cx="98.4" cy="552.9" r="2.6"/>
<circle cx="121.9" cy="544.9" r="2.6"/>
<circle cx="186.0" cy="500.0" r="2.6"/>
<circle cx="131.9" cy="502.9" r="2.6"/>
<circle cx="214.6" cy="455.5" r="2.6"/>
<circle cx="133.2" cy="522.0" r="2.6"/>
<circle cx="155.6" cy="516.6" r="2.6"/>
<circle cx="150.9" cy="504.9" r="2.6"/>
<circle cx="196.7" cy="481.9" r="2.6"/>
<circle cx="162.4" cy="522.1" r="2.6"/>
<circle cx="201.5" cy="450.3" r="2.6"/>
<circle cx="132.7" cy="499.8" r="2.6"/>
<circle cx="117.8" cy="544.1" r="2.6"/>
<circle cx="192.1" cy="450.9" r="2.6"/>
<circle cx="289.5" cy="429.6" r="2.6"/>
<circle cx="141.7" cy="525.7" r="2.6"/>
<circle cx="171.7" cy="482.6" r="2.6"/>
<circle cx="132.2" cy="508.1" r="2.6"/>
<circle cx="135.9" cy="498.2" r="2.6"/>
<circle cx="298.1" cy="412.1" r="2.6"/>
<circle cx="218.3" cy="437.9" r="2.6"/>
<circle cx="254.8" cy="448.2" r="2.6"/>
<circle cx="173.5" cy="502.8" r="2.6"/>
<circle cx="163.3" cy="506.1" r="2.6"/>
<circle cx="245.5" cy="424.5" r="2.6"/>
<circle cx="135.3" cy="542.3" r="2.6"/>
<circle cx="120.0" cy="535.4" r="2.6"/>
<circle cx="201.6" cy="482.4" r="2.6"/>
<circle cx="166.9" cy="495.1" r="2.6"/>
<circle cx="145.4" cy="523.0" r="2.6"/>
<circle cx="209.6" cy="441.4" r="2.6"/>
<circle cx="124.2" cy="550.6" r="2.6"/>
<circle cx="128.0" cy="544.5" r="2.6"/>
<circle cx="196.0" cy="450.3" r="2.6"/>
<circle cx="206.0" cy="485.0" r="2.6"/>
<circle cx="280.9" cy="433.6" r="2.6"/>
<circle cx="121.6" cy="534.7" r="2.6"/>
<circle cx="198.0" cy="444.1" r="2.6"/>
<circle cx="166.8" cy="476.1" r="2.6"/>
<circle cx="135.7" cy="545.8" r="2.6"/>
<circle cx="191.4" cy="505.2" r="2.6"/>
<circle cx="139.1" cy="539.7" r="2.6"/>
<circle cx="186.5" cy="474.2" r="2.6"/>
<circle cx="103.0" cy="553.1" r="2.6"/>
<circle cx="299.6" cy="438.7" r="2.6"/>
<circle cx="258.5" cy="436.7" r="2.6"/>
<circle cx="165.9" cy="513.7" r="2.6"/>
<circle cx="185.3" cy="499.0" r="2.6"/>
<circle cx="211.2" cy="457.2" r="2.6"/>
<circle cx="196.7" cy="488.3" r="2.6"/>
<circle cx="228.5" cy="468.4" r="2.6"/>
<circle cx="139.5" cy="518.8" r="2.6"/>
<circle cx="134.2" cy="528.4" r="2.6"/>
<circle cx="147.0" cy="536.7" r="2.6"/>
<circle cx="118.5" cy="543.7" r="2.6"/>
<circle cx="189.5" cy="458.9" r="2.6"/>
<circle cx="121.0" cy="540.0" r="2.6"/>
<circle cx="220.9" cy="481.3" r="2.6"/>
<circle cx="176.6" cy="456.4" r="2.6"/>
<circle cx="107.2" cy="537.4" r="2.6"/>
<circle cx="128.4" cy="552.8" r="2.6"/>
<circle cx="169.8" cy="475.4" r="2.6"/>
<circle cx="187.2" cy="504.9" r="2.6"/>
<circle cx="151.0" cy="450.2" r="2.6"/>
<circle cx="238.6" cy="450.8" r="2.6"/>
<circle cx="123.9" cy="529.4" r="2.6"/>
<circle cx="115.7" cy="525.7" r="2.6"/>
<circle cx="142.4" cy="515.2" r="2.6"/>
<circle cx="103.5" cy="547.6" r="2.6"/>
<circle cx="115.8" cy="548.4" r="2.6"/>
<circle cx="195.6" cy="472.0" r="2.6"/>
<circle cx="209.6" cy="423.7" r="2.6"/>
<circle cx="186.4" cy="459.2" r="2.6"/>
<circle cx="115.2" cy="527.6" r="2.6"/>
<circle cx="212.7" cy="490.0" r="2.6"/>
<circle cx="127.2" cy="543.1" r="2.6"/>
<circle cx="128.9" cy="508.9" r="2.6"/>
<circle cx="284.7" cy="414.8" r="2.6"/>
<circle cx="85.9" cy="551.3" r="2.6"/>
<circle cx="236.7" cy="459.3" r="2.6"/>
<circle cx="126.3" cy="533.9" r="2.6"/>
<circle cx="146.3" cy="519.5" r="2.6"/>
<circle cx="112.2" cy="535.3" r="2.6"/>
<circle cx="135.6" cy="532.5" r="2.6"/>
<circle cx="194.7" cy="466.7" r="2.6"/>
<circle cx="207.8" cy="434.5" r="2.6"/>
<circle cx="151.1" cy="506.6" r="2.6"/>
<circle cx="148.0" cy="502.0" r="2.6"/>
<circle cx="158.0" cy="473.0" r="2.6"/>
<circle cx="122.7" cy="501.7" r="2.6"/>
<circle cx="126.1" cy="503.3" r="2.6"/>
<circle cx="200.3" cy="478.4" r="2.6"/>
<circle cx="148.2" cy="462.6" r="2.6"/>
<circle cx="119.5" cy="541.3" r="2.6"/>
<circle cx="178.8" cy="522.4" r="2.6"/>
<circle cx="118.0" cy="552.6" r="2.6"/>
<circle cx="176.0" cy="497.6" r="2.6"/>
<circle cx="116.3" cy="541.8" r="2.6"/>
<circle cx="173.3" cy="506.5" r="2.6"/>
<circle cx="86.9" cy="551.4" r="2.6"/>
<circle cx="142.5" cy="534.3" r="2.6"/>
<circle cx="97.1" cy="544.1" r="2.6"/>
<circle cx="152.7" cy="473.7" r="2.6"/>
<circle cx="150.9" cy="507.8" r="2.6"/>
<circle cx="207.8" cy="456.7" r="2.6"/>
<circle cx="119.8" cy="535.9" r="2.6"/>
<circle cx="157.6" cy="496.4" r="2.6"/>
<circle cx="128.3" cy="538.4" r="2.6"/>
<circle cx="233.9" cy="446.1" r="2.6"/>
<circle cx="85.2" cy="549.9" r="2.6"/>
<circle cx="197.8" cy="479.7" r="2.6"/>
<circle cx="96.4" cy="554.9" r="2.6"/>
<circle cx="189.4" cy="456.5" r="2.6"/>
<circle cx="167.9" cy="454.8" r="2.6"/>
<circle cx="216.6" cy="434.8" r="2.6"/>
<circle cx="191.1" cy="487.6" r="2.6"/>
<circle cx="135.0" cy="518.5" r="2.6"/>
<circle cx="150.0" cy="489.2" r="2.6"/>
<circle cx="274.3" cy="423.0" r="2.6"/>
<circle cx="113.7" cy="564.3" r="2.6"/>
<circle cx="179.6" cy="461.6" r="2.6"/>
<circle cx="217.8" cy="462.1" r="2.6"/>
<circle cx="219.7" cy="471.1" r="2.6"/>
<circle cx="107.9" cy="536.5" r="2.6"/>
<circle cx="255.4" cy="435.8" r="2.6"/>
<circle cx="186.2" cy="522.5" r="2.6"/>
<circle cx="164.1" cy="517.2" r="2.6"/>
<circle cx="166.0" cy="519.8" r="2.6"/>
<circle cx="204.5" cy="474.9" r="2.6"/>
<circle cx="112.8" cy="526.6" r="2.6"/>
<circle cx="237.4" cy="486.0" r="2.6"/>
<circle cx="250.5" cy="440.2" r="2.6"/>
<circle cx="192.5" cy="469.7" r="2.6"/>
<circle cx="95.5" cy="562.4" r="2.6"/>
<circle cx="132.5" cy="502.6" r="2.6"/>
<circle cx="144.7" cy="537.0" r="2.6"/>
<circle cx="117.6" cy="515.1" r="2.6"/>
<circle cx="95.8" cy="549.1" r="2.6"/>
<circle cx="129.1" cy="489.4" r="2.6"/>
<circle cx="156.6" cy="528.0" r="2.6"/>
<circle cx="153.4" cy="511.4" r="2.6"/>
<circle cx="114.1" cy="551.3" r="2.6"/>
<circle cx="151.5" cy="529.8" r="2.6"/>
<circle cx="115.9" cy="544.1" r="2.6"/>
<circle cx="140.1" cy="529.1" r="2.6"/>
<circle cx="114.3" cy="540.8" r="2.6"/>
<circle cx="117.4" cy="545.9" r="2.6"/>
<circle cx="187.0" cy="492.1" r="2.6"/>
<circle cx="183.8" cy="474.5" r="2.6"/>
<circle cx="111.2" cy="555.9" r="2.6"/>
<circle cx="142.7" cy="539.6" r="2.6"/>
<circle cx="144.2" cy="513.9" r="2.6"/>
<circle cx="204.2" cy="455.7" r="2.6"/>
<circle cx="253.5" cy="470.9" r="2.6"/>
<circle cx="242.4" cy="465.7" r="2.6"/>
<circle cx="124.8" cy="543.5" r="2.6"/>
<circle cx="89.3" cy="532.9" r="2.6"/>
<circle cx="192.9" cy="472.1" r="2.6"/>
<circle cx="109.8" cy="542.0" r="2.6"/>
<circle cx="146.6" cy="536.0" r="2.6"/>
<circle cx="167.2" cy="514.5" r="2.6"/>
<circle cx="130.5" cy="513.7" r="2.6"/>
<circle cx="219.3" cy="486.6" r="2.6"/>
<circle cx="170.7" cy="502.2" r="2.6"/>
<circle cx="229.0" cy="459.5" r="2.6"/>
<circle cx="171.4" cy="485.9" r="2.6"/>
<circle cx="283.2" cy="415.7" r="2.6"/>
<circle cx="162.8" cy="465.4" r="2.6"/>
<circle cx="193.6" cy="511.4" r="2.6"/>
<circle cx="162.5" cy="519.0" r="2.6"/>
<circle cx="130.6" cy="504.6" r="2.6"/>
<circle cx="121.9" cy="530.0" r="2.6"/>
<circle cx="234.8" cy="461.7" r="2.6"/>
<circle cx="102.9" cy="563.1" r="2.6"/>
<circle cx="202.4" cy="498.6" r="2.6"/>
<circle cx="220.4" cy="473.0" r="2.6"/>
<circle cx="200.8" cy="467.3" r="2.6"/>
<circle cx="180.3" cy="504.7" r="2.6"/>
<circle cx="176.7" cy="496.5" r="2.6"/>
<circle cx="212.6" cy="432.5" r="2.6"/>
<circle cx="225.8" cy="476.1" r="2.6"/>
<circle cx="182.2" cy="503.9" r="2.6"/>
<circle cx="121.7" cy="533.8" r="2.6"/>
<circle cx="240.9" cy="446.2" r="2.6"/>
<circle cx="102.2" cy="554.6" r="2.6"/>
<circle cx="290.2" cy="433.1" r="2.6"/>
<circle cx="261.1" cy="467.3" r="2.6"/>
<circle cx="132.6" cy="503.9" r="2.6"/>
<circle cx="155.1" cy="529.8" r="2.6"/>
<circle cx="106.8" cy="534.6" r="2.6"/>
<circle cx="112.4" cy="551.5" r="2.6"/>
<circle cx="231.0" cy="441.2" r="2.6"/>
<circle cx="184.5" cy="486.5" r="2.6"/>
<circle cx="206.0" cy="450.8" r="2.6"/>
<circle cx="201.0" cy="520.5" r="2.6"/>
<circle cx="201.0" cy="445.5" r="2.6"/>
<circle cx="123.5" cy="560.9" r="2.6"/>
<circle cx="104.1" cy="558.8" r="2.6"/>
<circle cx="169.1" cy="509.2" r="2.6"/>
<circle cx="158.6" cy="518.0" r="2.6"/>
<circle cx="264.9" cy="438.7" r="2.6"/>
<circle cx="222.9" cy="470.3" r="2.6"/>
<circle cx="197.8" cy="472.7" r="2.6"/>
<circle cx="152.8" cy="480.0" r="2.6"/>
<circle cx="165.4" cy="513.4" r="2.6"/>
<circle cx="214.5" cy="476.7" r="2.6"/>
<circle cx="251.4" cy="436.4" r="2.6"/>
<circle cx="162.4" cy="513.7" r="2.6"/>
<circle cx="116.1" cy="548.3" r="2.6"/>
<circle cx="93.4" cy="542.6" r="2.6"/>
<circle cx="238.8" cy="451.5" r="2.6"/>
<circle cx="150.4" cy="523.5" r="2.6"/>
<circle cx="117.0" cy="519.3" r="2.6"/>
<circle cx="178.9" cy="501.9" r="2.6"/>
<circle cx="155.2" cy="520.0" r="2.6"/>
<circle cx="122.0" cy="506.7" r="2.6"/>
<circle cx="138.3" cy="523.9" r="2.6"/>
<circle cx="189.4" cy="446.3" r="2.6"/>
<circle cx="241.9" cy="458.5" r="2.6"/>
<circle cx="116.7" cy="537.6" r="2.6"/>
<circle cx="74.9" cy="538.6" r="2.6"/>
<circle cx="127.5" cy="531.7" r="2.6"/>
<circle cx="163.1" cy="473.6" r="2.6"/>
<circle cx="158.5" cy="508.2" r="2.6"/>
<circle cx="119.2" cy="560.9" r="2.6"/>
<circle cx="207.3" cy="435.7" r="2.6"/>
<circle cx="167.3" cy="530.8" r="2.6"/>
<circle cx="203.0" cy="453.2" r="2.6"/>
<circle cx="194.7" cy="507.6" r="2.6"/>
<circle cx="174.6" cy="518.7" r="2.6"/>
<circle cx="80.0" cy="535.2" r="2.6"/>
<circle cx="143.0" cy="488.6" r="2.6"/>
<circle cx="150.6" cy="520.1" r="2.6"/>
<circle cx="233.5" cy="455.7" r="2.6"/>
<circle cx="244.1" cy="458.2" r="2.6"/>
<circle cx="184.2" cy="488.0" r="2.6"/>
<circle cx="184.5" cy="497.1" r="2.6"/>
<circle cx="227.8" cy="445.3" r="2.6"/>
<circle cx="199.3" cy="488.7" r="2.6"/>
<circle cx="135.4" cy="477.7" r="2.6"/>
<circle cx="88.8" cy="538.3" r="2.6"/>
<circle cx="129.6" cy="504.6" r="2.6"/>
<circle cx="133.0" cy="524.0" r="2.6"/>
<circle cx="169.4" cy="504.4" r="2.6"/>
<circle cx="224.8" cy="471.5" r="2.6"/>
<circle cx="107.0" cy="535.4" r="2.6"/>
<circle cx="272.7" cy="436.5" r="2.6"/>
<circle cx="144.6" cy="551.1" r="2.6"/>
<circle cx="268.0" cy="429.2" r="2.6"/>
<circle cx="121.7" cy="517.7" r="2.6"/>
<circle cx="101.5" cy="554.3" r="2.6"/>
<circle cx="213.2" cy="506.5" r="2.6"/>
<circle cx="112.6" cy="552.6" r="2.6"/>
<circle cx="268.1" cy="454.7" r="2.6"/>
<circle cx="185.5" cy="436.2" r="2.6"/>
<circle cx="149.4" cy="467.2" r="2.6"/>
<circle cx="185.5" cy="494.4" r="2.6"/>
<circle cx="312.4" cy="433.7" r="2.6"/>
<circle cx="258.3" cy="438.0" r="2.6"/>
<circle cx="253.6" cy="440.8" r="2.6"/>
<circle cx="91.7" cy="558.5" r="2.6"/>
<circle cx="276.9" cy="433.6" r="2.6"/>
<circle cx="226.5" cy="430.5" r="2.6"/>
<circle cx="133.9" cy="543.6" r="2.6"/>
<circle cx="91.2" cy="564.3" r="2.6"/>
<circle cx="157.8" cy="511.9" r="2.6"/>
<circle cx="209.3" cy="503.6" r="2.6"/>
<circle cx="159.2" cy="499.0" r="2.6"/>
<circle cx="152.7" cy="472.9" r="2.6"/>
<circle cx="157.3" cy="523.3" r="2.6"/>
<circle cx="182.6" cy="433.3" r="2.6"/>
<circle cx="156.8" cy="517.1" r="2.6"/>
<circle cx="127.8" cy="518.7" r="2.6"/>
<circle cx="174.6" cy="499.3" r="2.6"/>
<circle cx="166.5" cy="452.3" r="2.6"/>
<circle cx="166.6" cy="511.6" r="2.6"/>
<circle cx="114.7" cy="539.1" r="2.6"/>
<circle cx="240.3" cy="478.8" r="2.6"/>
<circle cx="166.3" cy="479.3" r="2.6"/>
<circle cx="185.9" cy="498.3" r="2.6"/>
<circle cx="113.5" cy="555.0" r="2.6"/>
<circle cx="94.5" cy="560.5" r="2.6"/>
<circle cx="137.4" cy="527.5" r="2.6"/>
<circle cx="155.7" cy="442.2" r="2.6"/>
<circle cx="175.6" cy="507.7" r="2.6"/>
<circle cx="202.1" cy="457.7" r="2.6"/>
<circle cx="227.5" cy="415.7" r="2.6"/>
<circle cx="226.3" cy="454.6" r="2.6"/>
<circle cx="192.6" cy="486.2" r="2.6"/>
<circle cx="191.2" cy="446.7" r="2.6"/>
<circle cx="121.3" cy="551.1" r="2.6"/>
<circle cx="128.1" cy="533.3" r="2.6"/>
<circle cx="271.5" cy="377.2" r="2.6"/>
<circle cx="179.9" cy="484.1" r="2.6"/>
<circle cx="228.1" cy="408.7" r="2.6"/>
<circle cx="121.1" cy="552.1" r="2.6"/>
<circle cx="113.7" cy="541.3" r="2.6"/>
<circle cx="124.2" cy="544.5" r="2.6"/>
<circle cx="162.6" cy="480.8" r="2.6"/>
<circle cx="175.2" cy="445.8" r="2.6"/>
<circle cx="172.7" cy="483.1" r="2.6"/>
<circle cx="187.0" cy="512.0" r="2.6"/>
<circle cx="114.8" cy="554.1" r="2.6"/>
<circle cx="196.8" cy="422.6" r="2.6"/>
<circle cx="178.2" cy="502.4" r="2.6"/>
<circle cx="89.5" cy="531.1" r="2.6"/>
<circle cx="204.4" cy="495.5" r="2.6"/>
<circle cx="176.9" cy="471.9" r="2.6"/>
<circle cx="137.0" cy="520.3" r="2.6"/>
<circle cx="161.3" cy="467.6" r="2.6"/>
<circle cx="101.2" cy="535.6" r="2.6"/>
<circle cx="186.8" cy="490.6" r="2.6"/>
<circle cx="201.4" cy="466.5" r="2.6"/>
<circle cx="123.1" cy="541.6" r="2.6"/>
<circle cx="107.4" cy="544.9" r="2.6"/>
<circle cx="209.9" cy="490.6" r="2.6"/>
<circle cx="116.3" cy="531.4" r="2.6"/>
<circle cx="149.1" cy="521.9" r="2.6"/>
<circle cx="205.2" cy="464.7" r="2.6"/>
<circle cx="132.5" cy="476.6" r="2.6"/>
<circle cx="133.1" cy="504.5" r="2.6"/>
<circle cx="115.4" cy="535.5" r="2.6"/>
<circle cx="231.3" cy="438.8" r="2.6"/>
<circle cx="181.3" cy="463.2" r="2.6"/>
<circle cx="92.5" cy="557.1" r="2.6"/>
<circle cx="139.5" cy="491.8" r="2.6"/>
<circle cx="182.6" cy="456.5" r="2.6"/>
<circle cx="284.4" cy="455.9" r="2.6"/>
<circle cx="125.4" cy="530.4" r="2.6"/>
<circle cx="112.0" cy="530.6" r="2.6"/>
<circle cx="252.4" cy="458.5" r="2.6"/>
<circle cx="201.1" cy="430.5" r="2.6"/>
<circle cx="268.8" cy="440.4" r="2.6"/>
<circle cx="200.6" cy="493.7" r="2.6"/>
<circle cx="249.0" cy="423.5" r="2.6"/>
<circle cx="126.2" cy="528.9" r="2.6"/>
<circle cx="176.0" cy="493.0" r="2.6"/>
<circle cx="178.9" cy="515.9" r="2.6"/>
<circle cx="212.7" cy="447.6" r="2.6"/>
<circle cx="174.6" cy="500.3" r="2.6"/>
<circle cx="100.1" cy="533.0" r="2.6"/>
<circle cx="181.8" cy="469.1" r="2.6"/>
<circle cx="201.4" cy="478.8" r="2.6"/>
<circle cx="158.7" cy="509.4" r="2.6"/>
<circle cx="134.0" cy="539.5" r="2.6"/>
<circle cx="161.7" cy="508.6" r="2.6"/>
<circle cx="248.2" cy="435.2" r="2.6"/>
<circle cx="160.0" cy="517.2" r="2.6"/>
<circle cx="119.5" cy="507.5" r="2.6"/>
<circle cx="197.7" cy="468.8" r="2.6"/>
<circle cx="278.6" cy="416.4" r="2.6"/>
<circle cx="119.2" cy="512.3" r="2.6"/>
<circle cx="107.8" cy="558.9" r="2.6"/>
<circle cx="258.2" cy="448.1" r="2.6"/>
<circle cx="74.9" cy="536.8" r="2.6"/>
<circle cx="255.9" cy="459.2" r="2.6"/>
<circle cx="115.0" cy="549.6" r="2.6"/>
<circle cx="222.0" cy="451.3" r="2.6"/>
<circle cx="109.4" cy="558.6" r="2.6"/>
<circle cx="165.4" cy="467.6" r="2.6"/>
<circle cx="167.8" cy="499.6" r="2.6"/>
<circle cx="224.2" cy="420.2" r="2.6"/>
<circle cx="184.5" cy="462.0" r="2.6"/>
<circle cx="288.1" cy="408.5" r="2.6"/>
<circle cx="165.5" cy="504.6" r="2.6"/>
<circle cx="169.7" cy="528.5" r="2.6"/>
<circle cx="202.5" cy="488.1" r="2.6"/>
<circle cx="151.8" cy="520.9" r="2.6"/>
<circle cx="151.7" cy="524.3" r="2.6"/>
<circle cx="132.2" cy="528.9" r="2.6"/>
<circle cx="136.8" cy="515.5" r="2.6"/>
<circle cx="269.7" cy="425.7" r="2.6"/>
<circle cx="181.6" cy="501.7" r="2.6"/>
<circle cx="242.5" cy="436.1" r="2.6"/>
<circle cx="98.3" cy="531.4" r="2.6"/>
<circle cx="242.7" cy="440.9" r="2.6"/>
<circle cx="97.6" cy="556.6" r="2.6"/>
<circle cx="119.0" cy="552.9" r="2.6"/>
<circle cx="188.7" cy="505.4" r="2.6"/>
<circle cx="103.0" cy="553.1" r="2.6"/>
<circle cx="251.4" cy="421.8" r="2.6"/>
<circle cx="122.5" cy="557.6" r="2.6"/>
<circle cx="170.1" cy="499.5" r="2.6"/>
<circle cx="290.3" cy="418.1" r="2.6"/>
<circle cx="125.9" cy="529.6" r="2.6"/>
<circle cx="140.9" cy="531.4" r="2.6"/>
<circle cx="198.0" cy="453.3" r="2.6"/>
<circle cx="192.9" cy="470.5" r="2.6"/>
<circle cx="132.2" cy="544.7" r="2.6"/>
<circle cx="171.6" cy="498.1" r="2.6"/>
<circle cx="289.7" cy="411.5" r="2.6"/>
<circle cx="106.6" cy="541.4" r="2.6"/>
<circle cx="138.8" cy="490.3" r="2.6"/>
<circle cx="113.1" cy="543.7" r="2.6"/>
<circle cx="106.0" cy="544.2" r="2.6"/>
<circle cx="115.9" cy="520.7" r="2.6"/>
<circle cx="126.4" cy="551.8" r="2.6"/>
<circle cx="103.2" cy="536.2" r="2.6"/>
<circle cx="183.9" cy="452.4" r="2.6"/>
<circle cx="176.8" cy="506.7" r="2.6"/>
<circle cx="136.8" cy="529.7" r="2.6"/>
<circle cx="126.1" cy="535.4" r="2.6"/>
<circle cx="298.4" cy="417.4" r="2.6"/>
<circle cx="166.9" cy="523.5" r="2.6"/>
<circle cx="112.9" cy="538.8" r="2.6"/>
<circle cx="118.4" cy="526.8" r="2.6"/>
<circle cx="218.7" cy="473.1" r="2.6"/>
<circle cx="170.7" cy="502.0" r="2.6"/>
<circle cx="188.0" cy="506.4" r="2.6"/>
<circle cx="298.2" cy="432.8" r="2.6"/>
<circle cx="156.9" cy="488.7" r="2.6"/>
<circle cx="167.2" cy="461.0" r="2.6"/>
<circle cx="153.5" cy="495.1" r="2.6"/>
<circle cx="126.6" cy="538.1" r="2.6"/>
<circle cx="166.8" cy="523.6" r="2.6"/>
<circle cx="126.5" cy="539.7" r="2.6"/>
<circle cx="155.4" cy="523.6" r="2.6"/>
<circle cx="118.1" cy="545.9" r="2.6"/>
<circle cx="134.5" cy="523.6" r="2.6"/>
<circle cx="204.4" cy="481.6" r="2.6"/>
<circle cx="222.2" cy="491.5" r="2.6"/>
<circle cx="206.6" cy="442.2" r="2.6"/>
<circle cx="235.4" cy="450.5" r="2.6"/>
<circle cx="195.5" cy="434.7" r="2.6"/>
<circle cx="117.9" cy="558.2" r="2.6"/>
<circle cx="121.4" cy="539.2" r="2.6"/>
<circle cx="146.7" cy="543.4" r="2.6"/>
<circle cx="222.9" cy="427.2" r="2.6"/>
<circle cx="211.9" cy="478.5" r="2.6"/>
<circle cx="99.9" cy="564.4" r="2.6"/>
<circle cx="138.4" cy="538.9" r="2.6"/>
<circle cx="144.8" cy="536.1" r="2.6"/>
<circle cx="116.3" cy="534.7" r="2.6"/>
<circle cx="183.2" cy="495.3" r="2.6"/>
<circle cx="254.3" cy="457.3" r="2.6"/>
<circle cx="102.6" cy="561.7" r="2.6"/>
<circle cx="132.9" cy="532.6" r="2.6"/>
<circle cx="169.3" cy="517.2" r="2.6"/>
<circle cx="180.3" cy="465.3" r="2.6"/>
<circle cx="144.3" cy="534.6" r="2.6"/>
<circle cx="96.6" cy="559.9" r="2.6"/>
<circle cx="85.8" cy="544.6" r="2.6"/>
<circle cx="162.5" cy="484.7" r="2.6"/>
<circle cx="282.5" cy="428.6" r="2.6"/>
<circle cx="197.7" cy="458.7" r="2.6"/>
<circle cx="233.5" cy="486.0" r="2.6"/>
<circle cx="77.5" cy="539.7" r="2.6"/>
<circle cx="219.5" cy="460.7" r="2.6"/>
<circle cx="140.8" cy="544.8" r="2.6"/>
<circle cx="257.6" cy="429.1" r="2.6"/>
<circle cx="125.8" cy="507.5" r="2.6"/>
<circle cx="127.7" cy="492.9" r="2.6"/>
<circle cx="202.8" cy="488.3" r="2.6"/>
<circle cx="141.6" cy="508.4" r="2.6"/>
<circle cx="137.6" cy="516.4" r="2.6"/>
<circle cx="241.5" cy="464.1" r="2.6"/>
<circle cx="268.8" cy="434.3" r="2.6"/>
<circle cx="153.3" cy="496.2" r="2.6"/>
<circle cx="163.3" cy="506.6" r="2.6"/>
<circle cx="104.2" cy="540.2" r="2.6"/>
<circle cx="101.5" cy="550.0" r="2.6"/>
<circle cx="181.4" cy="449.2" r="2.6"/>
<circle cx="135.0" cy="510.3" r="2.6"/>
<circle cx="200.6" cy="497.2" r="2.6"/>
<circle cx="177.3" cy="502.9" r="2.6"/>
<circle cx="227.6" cy="438.1" r="2.6"/>
<circle cx="227.5" cy="422.8" r="2.6"/>
<circle cx="174.4" cy="498.5" r="2.6"/>
<circle cx="127.4" cy="501.4" r="2.6"/>
<circle cx="167.7" cy="505.0" r="2.6"/>
<circle cx="197.9" cy="503.8" r="2.6"/>
<circle cx="156.6" cy="512.3" r="2.6"/>
<circle cx="130.8" cy="519.9" r="2.6"/>
<circle cx="178.8" cy="441.8" r="2.6"/>
<circle cx="89.7" cy="560.7" r="2.6"/>
<circle cx="112.3" cy="520.6" r="2.6"/>
<circle cx="164.4" cy="508.4" r="2.6"/>
<circle cx="123.4" cy="525.7" r="2.6"/>
<circle cx="161.6" cy="517.3" r="2.6"/>
<circle cx="252.2" cy="438.7" r="2.6"/>
<circle cx="124.6" cy="546.1" r="2.6"/>
<circle cx="113.7" cy="549.2" r="2.6"/>
<circle cx="171.7" cy="511.0" r="2.6"/>
<circle cx="94.7" cy="556.9" r="2.6"/>
<circle cx="190.5" cy="465.7" r="2.6"/>
<circle cx="190.4" cy="456.2" r="2.6"/>
<circle cx="137.8" cy="503.7" r="2.6"/>
<circle cx="133.0" cy="514.3" r="2.6"/>
<circle cx="229.0" cy="488.1" r="2.6"/>
<circle cx="269.5" cy="434.7" r="2.6"/>
<circle cx="80.5" cy="532.1" r="2.6"/>
<circle cx="156.1" cy="533.9" r="2.6"/>
<circle cx="159.3" cy="513.8" r="2.6"/>
<circle cx="132.3" cy="550.4" r="2.6"/>
<circle cx="137.1" cy="550.2" r="2.6"/>
<circle cx="151.7" cy="530.0" r="2.6"/>
<circle cx="104.5" cy="540.4" r="2.6"/>
<circle cx="275.0" cy="426.6" r="2.6"/>
<circle cx="145.1" cy="523.0" r="2.6"/>
<circle cx="114.5" cy="554.6" r="2.6"/>
<circle cx="136.0" cy="548.0" r="2.6"/>
<circle cx="133.7" cy="521.2" r="2.6"/>
<circle cx="126.2" cy="556.5" r="2.6"/>
<circle cx="215.5" cy="472.1" r="2.6"/>
<circle cx="141.9" cy="540.9" r="2.6"/>
<circle cx="159.2" cy="526.1" r="2.6"/>
<circle cx="192.6" cy="451.0" r="2.6"/>
<circle cx="250.4" cy="433.5" r="2.6"/>
<circle cx="260.5" cy="452.9" r="2.6"/>
<circle cx="186.4" cy="494.4" r="2.6"/>
<circle cx="100.9" cy="544.5" r="2.6"/>
<circle cx="152.2" cy="512.4" r="2.6"/>
<circle cx="157.8" cy="487.1" r="2.6"/>
<circle cx="145.4" cy="475.1" r="2.6"/>
<circle cx="175.1" cy="521.4" r="2.6"/>
<circle cx="128.8" cy="514.1" r="2.6"/>
<circle cx="120.2" cy="552.7" r="2.6"/>
<circle cx="168.0" cy="477.0" r="2.6"/>
<circle cx="240.9" cy="428.3" r="2.6"/>
<circle cx="177.8" cy="517.7" r="2.6"/>
<circle cx="102.5" cy="539.7" r="2.6"/>
<circle cx="124.1" cy="535.7" r="2.6"/>
<circle cx="222.9" cy="460.2" r="2.6"/>
<circle cx="112.8" cy="519.0" r="2.6"/>
<circle cx="123.1" cy="516.8" r="2.6"/>
<circle cx="89.4" cy="540.2" r="2.6"/>
<circle cx="125.9" cy="503.0" r="2.6"/>
<circle cx="150.0" cy="525.1" r="2.6"/>
<circle cx="149.3" cy="516.6" r="2.6"/>
<circle cx="149.5" cy="471.4" r="2.6"/>
<circle cx="290.8" cy="438.6" r="2.6"/>
<circle cx="184.2" cy="432.0" r="2.6"/>
<circle cx="222.3" cy="500.8" r="2.6"/>
<circle cx="203.0" cy="443.3" r="2.6"/>
<circle cx="115.4" cy="523.9" r="2.6"/>
<circle cx="97.3" cy="531.8" r="2.6"/>
<circle cx="157.5" cy="521.2" r="2.6"/>
<circle cx="208.7" cy="481.9" r="2.6"/>
<circle cx="89.7" cy="544.7" r="2.6"/>
<circle cx="209.8" cy="479.5" r="2.6"/>
<circle cx="154.0" cy="484.0" r="2.6"/>
<circle cx="110.9" cy="551.7" r="2.6"/>
<circle cx="139.6" cy="485.4" r="2.6"/>
<circle cx="165.2" cy="512.9" r="2.6"/>
<circle cx="199.7" cy="437.7" r="2.6"/>
<circle cx="153.8" cy="499.1" r="2.6"/>
<circle cx="214.0" cy="439.4" r="2.6"/>
<circle cx="163.8" cy="515.4" r="2.6"/>
<circle cx="193.6" cy="434.8" r="2.6"/>
<circle cx="210.7" cy="423.8" r="2.6"/>
<circle cx="195.3" cy="426.2" r="2.6"/>
<circle cx="174.6" cy="446.0" r="2.6"/>
<circle cx="168.2" cy="479.4" r="2.6"/>
<circle cx="121.3" cy="529.9" r="2.6"/>
<circle cx="149.9" cy="535.1" r="2.6"/>
<circle cx="271.6" cy="418.1" r="2.6"/>
<circle cx="208.9" cy="468.1" r="2.6"/>
<circle cx="130.2" cy="531.1" r="2.6"/>
<circle cx="148.1" cy="526.9" r="2.6"/>
<circle cx="178.4" cy="463.6" r="2.6"/>
<circle cx="103.0" cy="540.1" r="2.6"/>
<circle cx="131.7" cy="501.1" r="2.6"/>
<circle cx="153.9" cy="487.1" r="2.6"/>
<circle cx="149.3" cy="518.4" r="2.6"/>
<circle cx="106.7" cy="544.7" r="2.6"/>
<circle cx="121.8" cy="551.7" r="2.6"/>
<circle cx="175.5" cy="498.7" r="2.6"/>
<circle cx="142.7" cy="482.4" r="2.6"/>
<circle cx="146.8" cy="527.3" r="2.6"/>
<circle cx="85.0" cy="533.2" r="2.6"/>
<circle cx="128.2" cy="508.1" r="2.6"/>
<circle cx="138.7" cy="532.6" r="2.6"/>
<circle cx="161.3" cy="525.5" r="2.6"/>
<circle cx="119.3" cy="548.0" r="2.6"/>
<circle cx="233.2" cy="476.3" r="2.6"/>
<circle cx="148.3" cy="515.7" r="2.6"/>
<circle cx="125.7" cy="529.4" r="2.6"/>
<circle cx="248.2" cy="443.1" r="2.6"/>
<circle cx="152.3" cy="488.4" r="2.6"/>
<circle cx="147.5" cy="539.5" r="2.6"/>
<circle cx="142.7" cy="536.0" r="2.6"/>
<circle cx="204.6" cy="438.7" r="2.6"/>
<circle cx="173.3" cy="512.0" r="2.6"/>
<circle cx="161.2" cy="514.6" r="2.6"/>
<circle cx="209.2" cy="489.0" r="2.6"/>
<circle cx="121.6" cy="529.9" r="2.6"/>
<circle cx="205.8" cy="466.8" r="2.6"/>
<circle cx="110.8" cy="528.1" r="2.6"/>
<circle cx="169.4" cy="457.0" r="2.6"/>
<circle cx="113.4" cy="554.6" r="2.6"/>
<circle cx="189.6" cy="497.4" r="2.6"/>
<circle cx="126.3" cy="534.1" r="2.6"/>
<circle cx="120.8" cy="527.6" r="2.6"/>
<circle cx="219.5" cy="479.0" r="2.6"/>
<circle cx="254.2" cy="418.8" r="2.6"/>
<circle cx="235.0" cy="482.6" r="2.6"/>
<circle cx="223.7" cy="436.6" r="2.6"/>
<circle cx="121.2" cy="525.8" r="2.6"/>
<circle cx="155.8" cy="499.9" r="2.6"/>
<circle cx="264.9" cy="426.9" r="2.6"/>
<circle cx="266.2" cy="424.0" r="2.6"/>
<circle cx="113.2" cy="561.9" r="2.6"/>
<circle cx="119.4" cy="511.2" r="2.6"/>
<circle cx="117.8" cy="549.1" r="2.6"/>
<circle cx="159.6" cy="473.9" r="2.6"/>
<circle cx="151.0" cy="529.8" r="2.6"/>
<circle cx="247.2" cy="437.3" r="2.6"/>
<circle cx="122.0" cy="528.4" r="2.6"/>
<circle cx="161.5" cy="520.2" r="2.6"/>
<circle cx="180.8" cy="478.0" r="2.6"/>
<circle cx="216.1" cy="468.8" r="2.6"/>
<circle cx="246.4" cy="436.5" r="2.6"/>
<circle cx="131.2" cy="534.3" r="2.6"/>
<circle cx="196.7" cy="434.3" r="2.6"/>
<circle cx="138.2" cy="539.0" r="2.6"/>
<circle cx="155.0" cy="507.1" r="2.6"/>
<circle cx="110.7" cy="551.3" r="2.6"/>
<circle cx="134.8" cy="511.0" r="2.6"/>
<circle cx="226.6" cy="460.6" r="2.6"/>
<circle cx="205.9" cy="494.8" r="2.6"/>
<circle cx="86.4" cy="550.3" r="2.6"/>
<circle cx="174.1" cy="521.9" r="2.6"/>
<circle cx="99.6" cy="547.8" r="2.6"/>
<circle cx="298.3" cy="414.4" r="2.6"/>
<circle cx="158.3" cy="476.8" r="2.6"/>
<circle cx="116.8" cy="529.7" r="2.6"/>
<circle cx="106.1" cy="529.8" r="2.6"/>
<circle cx="191.9" cy="501.9" r="2.6"/>
<circle cx="109.1" cy="539.4" r="2.6"/>
<circle cx="233.5" cy="453.5" r="2.6"/>
<circle cx="165.0" cy="513.3" r="2.6"/>
<circle cx="187.8" cy="509.2" r="2.6"/>
<circle cx="108.5" cy="555.0" r="2.6"/>
<circle cx="243.1" cy="476.1" r="2.6"/>
<circle cx="138.0" cy="527.3" r="2.6"/>
<circle cx="125.1" cy="534.0" r="2.6"/>
<circle cx="157.1" cy="493.1" r="2.6"/>
<circle cx="153.9" cy="470.9" r="2.6"/>
<circle cx="211.4" cy="452.8" r="2.6"/>
<circle cx="150.8" cy="492.9" r="2.6"/>
<circle cx="222.1" cy="477.5" r="2.6"/>
<circle cx="197.7" cy="469.7" r="2.6"/>
<circle cx="123.6" cy="514.8" r="2.6"/>
<circle cx="191.1" cy="464.9" r="2.6"/>
<circle cx="238.6" cy="461.1" r="2.6"/>
<circle cx="93.2" cy="553.8" r="2.6"/>
<circle cx="158.5" cy="519.8" r="2.6"/>
<circle cx="165.0" cy="489.2" r="2.6"/>
<circle cx="160.0" cy="514.3" r="2.6"/>
<circle cx="94.0" cy="563.1" r="2.6"/>
<circle cx="146.4" cy="533.7" r="2.6"/>
<circle cx="180.3" cy="520.5" r="2.6"/>
<circle cx="141.3" cy="527.0" r="2.6"/>
<circle cx="121.9" cy="552.3" r="2.6"/>
<circle cx="153.8" cy="533.5" r="2.6"/>
<circle cx="195.0" cy="496.8" r="2.6"/>
<circle cx="137.0" cy="535.3" r="2.6"/>
<circle cx="96.8" cy="554.1" r="2.6"/>
<circle cx="209.4" cy="462.4" r="2.6"/>
<circle cx="197.7" cy="509.5" r="2.6"/>
<circle cx="211.7" cy="485.0" r="2.6"/>
<circle cx="163.6" cy="472.1" r="2.6"/>
<circle cx="140.6" cy="517.3" r="2.6"/>
<circle cx="132.3" cy="546.1" r="2.6"/>
<circle cx="236.1" cy="465.4" r="2.6"/>
<circle cx="155.8" cy="485.2" r="2.6"/>
<circle cx="239.5" cy="451.1" r="2.6"/>
<circle cx="152.8" cy="518.9" r="2.6"/>
<circle cx="136.1" cy="502.7" r="2.6"/>
<circle cx="208.8" cy="427.9" r="2.6"/>
<circle cx="190.4" cy="474.4" r="2.6"/>
<circle cx="130.8" cy="485.3" r="2.6"/>
<circle cx="92.0" cy="555.7" r="2.6"/>
<circle cx="184.8" cy="508.3" r="2.6"/>
<circle cx="220.7" cy="491.1" r="2.6"/>
<circle cx="267.2" cy="463.0" r="2.6"/>
<circle cx="121.5" cy="506.2" r="2.6"/>
<circle cx="227.4" cy="487.7" r="2.6"/>
<circle cx="137.0" cy="538.4" r="2.6"/>
<circle cx="126.5" cy="541.8" r="2.6"/>
<circle cx="158.5" cy="517.0" r="2.6"/>
<circle cx="158.3" cy="492.0" r="2.6"/>
<circle cx="123.3" cy="540.5" r="2.6"/>
<circle cx="146.5" cy="483.3" r="2.6"/>
<circle cx="128.5" cy="503.9" r="2.6"/>
<circle cx="171.9" cy="508.0" r="2.6"/>
<circle cx="155.1" cy="522.6" r="2.6"/>
<circle cx="120.6" cy="523.3" r="2.6"/>
<circle cx="133.6" cy="527.7" r="2.6"/>
<circle cx="167.2" cy="499.2" r="2.6"/>
<circle cx="132.3" cy="539.4" r="2.6"/>
<circle cx="171.9" cy="516.0" r="2.6"/>
<circle cx="204.6" cy="484.0" r="2.6"/>
<circle cx="251.1" cy="420.7" r="2.6"/>
<circle cx="123.5" cy="535.5" r="2.6"/>
<circle cx="131.1" cy="555.6" r="2.6"/>
<circle cx="148.1" cy="448.8" r="2.6"/>
<circle cx="130.8" cy="477.7" r="2.6"/>
<circle cx="208.3" cy="475.1" r="2.6"/>
<circle cx="147.4" cy="512.4" r="2.6"/>
<circle cx="182.6" cy="493.0" r="2.6"/>
<circle cx="153.8" cy="486.6" r="2.6"/>
<circle cx="93.3" cy="558.7" r="2.6"/>
<circle cx="89.0" cy="538.5" r="2.6"/>
<circle cx="159.6" cy="514.2" r="2.6"/>
<circle cx="117.5" cy="549.3" r="2.6"/>
<circle cx="149.6" cy="519.3" r="2.6"/>
<circle cx="161.4" cy="515.0" r="2.6"/>
<circle cx="183.9" cy="492.3" r="2.6"/>
<circle cx="188.8" cy="490.6" r="2.6"/>
<circle cx="258.9" cy="462.9" r="2.6"/>
<circle cx="128.1" cy="535.7" r="2.6"/>
<circle cx="182.3" cy="475.9" r="2.6"/>
<circle cx="123.4" cy="537.1" r="2.6"/>
<circle cx="136.9" cy="522.8" r="2.6"/>
<circle cx="152.9" cy="525.0" r="2.6"/>
<circle cx="118.8" cy="519.3" r="2.6"/>
<circle cx="274.6" cy="430.5" r="2.6"/>
<circle cx="156.7" cy="538.7" r="2.6"/>
<circle cx="134.3" cy="523.2" r="2.6"/>
<circle cx="166.0" cy="520.1" r="2.6"/>
<circle cx="202.6" cy="473.5" r="2.6"/>
<circle cx="122.4" cy="532.1" r="2.6"/>
<circle cx="219.8" cy="455.0" r="2.6"/>
<circle cx="136.2" cy="544.6" r="2.6"/>
<circle cx="137.0" cy="490.0" r="2.6"/>
<circle cx="117.0" cy="537.1" r="2.6"/>
<circle cx="182.3" cy="498.2" r="2.6"/>
<circle cx="163.7" cy="522.2" r="2.6"/>
<circle cx="259.5" cy="478.9" r="2.6"/>
<circle cx="229.4" cy="487.1" r="2.6"/>
<circle cx="108.5" cy="548.8" r="2.6"/>
<circle cx="193.7" cy="494.6" r="2.6"/>
<circle cx="129.1" cy="477.4" r="2.6"/>
<circle cx="131.8" cy="540.3" r="2.6"/>
<circle cx="153.7" cy="513.4" r="2.6"/>
<circle cx="105.4" cy="563.7" r="2.6"/>
<circle cx="262.6" cy="456.0" r="2.6"/>
<circle cx="177.9" cy="514.5" r="2.6"/>
<circle cx="157.8" cy="527.8" r="2.6"/>
<circle cx="232.1" cy="461.1" r="2.6"/>
<circle cx="168.7" cy="478.4" r="2.6"/>
<circle cx="144.4" cy="523.1" r="2.6"/>
<circle cx="234.3" cy="429.2" r="2.6"/>
<circle cx="121.3" cy="541.5" r="2.6"/>
<circle cx="97.6" cy="542.7" r="2.6"/>
<circle cx="256.4" cy="423.2" r="2.6"/>
<circle cx="153.2" cy="504.2" r="2.6"/>
<circle cx="235.1" cy="485.4" r="2.6"/>
<circle cx="204.6" cy="459.8" r="2.6"/>
<circle cx="150.0" cy="492.5" r="2.6"/>
<circle cx="112.4" cy="560.2" r="2.6"/>
<circle cx="200.2" cy="480.3" r="2.6"/>
<circle cx="223.6" cy="426.4" r="2.6"/>
<circle cx="137.5" cy="530.1" r="2.6"/>
<circle cx="103.1" cy="561.7" r="2.6"/>
<circle cx="121.5" cy="550.5" r="2.6"/>
<circle cx="156.0" cy="521.5" r="2.6"/>
<circle cx="129.8" cy="535.7" r="2.6"/>
<circle cx="166.4" cy="518.6" r="2.6"/>
<circle cx="216.2" cy="483.6" r="2.6"/>
<circle cx="117.5" cy="553.8" r="2.6"/>
<circle cx="238.6" cy="461.2" r="2.6"/>
<circle cx="214.1" cy="468.3" r="2.6"/>
<circle cx="154.5" cy="504.4" r="2.6"/>
<circle cx="222.3" cy="473.5" r="2.6"/>
<circle cx="121.6" cy="543.7" r="2.6"/>
<circle cx="157.7" cy="530.2" r="2.6"/>
<circle cx="225.0" cy="445.0" r="2.6"/>
<circle cx="197.1" cy="507.6" r="2.6"/>
<circle cx="143.7" cy="534.0" r="2.6"/>
<circle cx="203.5" cy="487.2" r="2.6"/>
<circle cx="150.2" cy="544.0" r="2.6"/>
<circle cx="194.9" cy="490.1" r="2.6"/>
<circle cx="171.2" cy="476.5" r="2.6"/>
<circle cx="173.6" cy="497.8" r="2.6"/>
<circle cx="225.1" cy="432.3" r="2.6"/>
<circle cx="163.5" cy="477.1" r="2.6"/>
<circle cx="122.5" cy="565.6" r="2.6"/>
<circle cx="158.3" cy="528.6" r="2.6"/>
<circle cx="96.4" cy="552.5" r="2.6"/>
<circle cx="191.6" cy="492.3" r="2.6"/>
<circle cx="121.9" cy="507.6" r="2.6"/>
<circle cx="89.4" cy="563.9" r="2.6"/>
<circle cx="107.2" cy="563.8" r="2.6"/>
<circle cx="182.5" cy="499.3" r="2.6"/>
<circle cx="259.8" cy="445.0" r="2.6"/>
<circle cx="251.8" cy="427.2" r="2.6"/>
<circle cx="120.0" cy="546.6" r="2.6"/>
<circle cx="184.9" cy="499.3" r="2.6"/>
<circle cx="238.9" cy="461.0" r="2.6"/>
<circle cx="220.0" cy="438.7" r="2.6"/>
<circle cx="149.1" cy="520.7" r="2.6"/>
<circle cx="154.4" cy="487.1" r="2.6"/>
<circle cx="218.0" cy="489.7" r="2.6"/>
<circle cx="162.6" cy="492.5" r="2.6"/>
<circle cx="113.9" cy="522.5" r="2.6"/>
<circle cx="244.9" cy="409.9" r="2.6"/>
<circle cx="187.7" cy="493.4" r="2.6"/>
<circle cx="103.6" cy="544.2" r="2.6"/>
<circle cx="96.7" cy="566.1" r="2.6"/>
<circle cx="182.5" cy="458.1" r="2.6"/>
<circle cx="122.1" cy="537.2" r="2.6"/>
<circle cx="197.7" cy="484.3" r="2.6"/>
<circle cx="138.0" cy="529.8" r="2.6"/>
<circle cx="222.3" cy="456.7" r="2.6"/>
<circle cx="220.3" cy="491.8" r="2.6"/>
<circle cx="116.2" cy="531.4" r="2.6"/>
<circle cx="117.4" cy="511.1" r="2.6"/>
<circle cx="163.7" cy="487.3" r="2.6"/>
<circle cx="196.8" cy="444.9" r="2.6"/>
<circle cx="171.6" cy="479.6" r="2.6"/>
<circle cx="217.1" cy="486.3" r="2.6"/>
<circle cx="178.0" cy="457.2" r="2.6"/>
<circle cx="236.9" cy="415.8" r="2.6"/>
<circle cx="170.5" cy="462.8" r="2.6"/>
<circle cx="158.3" cy="498.5" r="2.6"/>
<circle cx="249.9" cy="445.0" r="2.6"/>
<circle cx="162.2" cy="480.3" r="2.6"/>
<circle cx="160.5" cy="487.3" r="2.6"/>
<circle cx="130.6" cy="540.2" r="2.6"/>
<circle cx="168.3" cy="510.5" r="2.6"/>
<circle cx="230.7" cy="461.8" r="2.6"/>
<circle cx="115.9" cy="550.7" r="2.6"/>
<circle cx="131.1" cy="541.0" r="2.6"/>
<circle cx="112.3" cy="527.4" r="2.6"/>
<circle cx="200.5" cy="507.8" r="2.6"/>
<circle cx="193.1" cy="451.6" r="2.6"/>
<circle cx="167.2" cy="523.4" r="2.6"/>
<circle cx="171.7" cy="480.0" r="2.6"/>
<circle cx="110.4" cy="552.1" r="2.6"/>
<circle cx="193.5" cy="479.6" r="2.6"/>
<circle cx="236.1" cy="422.8" r="2.6"/>
<circle cx="179.5" cy="516.3" r="2.6"/>
<circle cx="190.5" cy="484.8" r="2.6"/>
<circle cx="256.3" cy="434.5" r="2.6"/>
<circle cx="199.7" cy="394.1" r="2.6"/>
<circle cx="176.9" cy="508.3" r="2.6"/>
<circle cx="218.7" cy="465.9" r="2.6"/>
<circle cx="117.4" cy="548.4" r="2.6"/>
<circle cx="87.4" cy="559.7" r="2.6"/>
<circle cx="135.9" cy="486.2" r="2.6"/>
<circle cx="199.9" cy="463.2" r="2.6"/>
<circle cx="132.3" cy="493.1" r="2.6"/>
<circle cx="113.5" cy="538.8" r="2.6"/>
<circle cx="153.7" cy="517.7" r="2.6"/>
<circle cx="191.1" cy="475.6" r="2.6"/>
<circle cx="147.0" cy="503.7" r="2.6"/>
<circle cx="203.0" cy="462.5" r="2.6"/>
<circle cx="127.0" cy="537.1" r="2.6"/>
<circle cx="156.7" cy="459.9" r="2.6"/>
<circle cx="142.3" cy="490.0" r="2.6"/>
<circle cx="127.6" cy="500.3" r="2.6"/>
<circle cx="196.1" cy="508.7" r="2.6"/>
<circle cx="144.7" cy="460.4" r="2.6"/>
<circle cx="152.9" cy="498.1" r="2.6"/>
<circle cx="167.3" cy="505.3" r="2.6"/>
<circle cx="138.0" cy="491.7" r="2.6"/>
<circle cx="123.9" cy="519.7" r="2.6"/>
<circle cx="173.2" cy="525.5" r="2.6"/>
<circle cx="141.9" cy="523.6" r="2.6"/>
<circle cx="171.5" cy="509.2" r="2.6"/>
<circle cx="125.3" cy="534.1" r="2.6"/>
<circle cx="257.8" cy="420.8" r="2.6"/>
<circle cx="278.5" cy="423.7" r="2.6"/>
<circle cx="214.5" cy="432.7" r="2.6"/>
<circle cx="164.5" cy="503.5" r="2.6"/>
<circle cx="248.3" cy="432.0" r="2.6"/>
<circle cx="197.3" cy="476.5" r="2.6"/>
<circle cx="132.1" cy="508.3" r="2.6"/>
<circle cx="203.8" cy="469.0" r="2.6"/>
<circle cx="128.9" cy="521.2" r="2.6"/>
<circle cx="231.7" cy="427.6" r="2.6"/>
<circle cx="162.3" cy="497.3" r="2.6"/>
<circle cx="100.1" cy="555.5" r="2.6"/>
<circle cx="219.0" cy="435.6" r="2.6"/>
<circle cx="276.1" cy="418.9" r="2.6"/>
<circle cx="144.9" cy="506.0" r="2.6"/>
<circle cx="243.6" cy="467.4" r="2.6"/>
<circle cx="98.1" cy="557.7" r="2.6"/>
<circle cx="153.8" cy="476.9" r="2.6"/>
<circle cx="121.2" cy="534.6" r="2.6"/>
<circle cx="194.2" cy="448.9" r="2.6"/>
<circle cx="233.6" cy="446.5" r="2.6"/>
<circle cx="104.0" cy="531.4" r="2.6"/>
<circle cx="138.8" cy="512.9" r="2.6"/>
<circle cx="233.9" cy="455.9" r="2.6"/>
<circle cx="201.9" cy="478.9" r="2.6"/>
<circle cx="151.4" cy="535.4" r="2.6"/>
<circle cx="231.6" cy="497.5" r="2.6"/>
<circle cx="145.3" cy="525.6" r="2.6"/>
<circle cx="204.7" cy="411.3" r="2.6"/>
<circle cx="177.8" cy="460.4" r="2.6"/>
<circle cx="137.4" cy="520.8" r="2.6"/>
<circle cx="141.5" cy="503.1" r="2.6"/>
<circle cx="148.3" cy="512.8" r="2.6"/>
<circle cx="172.7" cy="502.6" r="2.6"/>
<circle cx="133.1" cy="534.4" r="2.6"/>
<circle cx="129.0" cy="513.7" r="2.6"/>
<circle cx="189.3" cy="489.7" r="2.6"/>
<circle cx="203.2" cy="499.3" r="2.6"/>
<circle cx="206.5" cy="439.5" r="2.6"/>
<circle cx="109.6" cy="546.5" r="2.6"/>
<circle cx="237.8" cy="434.4" r="2.6"/>
<circle cx="107.0" cy="543.5" r="2.6"/>
<circle cx="229.3" cy="451.7" r="2.6"/>
<circle cx="192.0" cy="445.3" r="2.6"/>
<circle cx="279.7" cy="451.3" r="2.6"/>
<circle cx="108.0" cy="527.3" r="2.6"/>
<circle cx="111.7" cy="557.6" r="2.6"/>
<circle cx="216.9" cy="451.7" r="2.6"/>
<circle cx="129.1" cy="490.4" r="2.6"/>
<circle cx="165.6" cy="453.4" r="2.6"/>
<circle cx="140.9" cy="488.4" r="2.6"/>
<circle cx="101.4" cy="560.8" r="2.6"/>
<circle cx="246.5" cy="424.3" r="2.6"/>
<circle cx="138.6" cy="495.8" r="2.6"/>
<circle cx="129.9" cy="525.7" r="2.6"/>
<circle cx="214.5" cy="443.8" r="2.6"/>
<circle cx="200.3" cy="492.3" r="2.6"/>
<circle cx="255.7" cy="444.7" r="2.6"/>
<circle cx="159.8" cy="515.7" r="2.6"/>
<circle cx="145.6" cy="521.1" r="2.6"/>
<circle cx="157.3" cy="511.8" r="2.6"/>
<circle cx="241.0" cy="433.4" r="2.6"/>
<circle cx="214.9" cy="489.0" r="2.6"/>
<circle cx="197.2" cy="502.0" r="2.6"/>
<circle cx="172.9" cy="462.2" r="2.6"/>
<circle cx="156.7" cy="474.5" r="2.6"/>
<circle cx="127.5" cy="535.5" r="2.6"/>
<circle cx="151.8" cy="539.1" r="2.6"/>
<circle cx="161.5" cy="523.6" r="2.6"/>
<circle cx="137.8" cy="519.5" r="2.6"/>
<circle cx="186.4" cy="487.7" r="2.6"/>
<circle cx="221.4" cy="501.5" r="2.6"/>
<circle cx="122.0" cy="522.6" r="2.6"/>
<circle cx="117.0" cy="547.6" r="2.6"/>
<circle cx="187.9" cy="473.9" r="2.6"/>
<circle cx="166.2" cy="509.1" r="2.6"/>
<circle cx="137.5" cy="535.4" r="2.6"/>
<circle cx="127.3" cy="539.4" r="2.6"/>
<circle cx="209.2" cy="499.2" r="2.6"/>
<circle cx="182.8" cy="506.8" r="2.6"/>
<circle cx="256.7" cy="444.4" r="2.6"/>
<circle cx="154.6" cy="465.8" r="2.6"/>
<circle cx="213.0" cy="476.9" r="2.6"/>
<circle cx="163.3" cy="455.4" r="2.6"/>
<circle cx="124.1" cy="545.2" r="2.6"/>
<circle cx="144.4" cy="508.6" r="2.6"/>
<circle cx="92.5" cy="560.5" r="2.6"/>
<circle cx="175.9" cy="487.3" r="2.6"/>
<circle cx="199.7" cy="471.7" r="2.6"/>
<circle cx="149.5" cy="540.9" r="2.6"/>
<circle cx="165.7" cy="498.0" r="2.6"/>
<circle cx="170.7" cy="456.7" r="2.6"/>
<circle cx="104.7" cy="552.9" r="2.6"/>
<circle cx="105.0" cy="552.3" r="2.6"/>
<circle cx="139.6" cy="551.1" r="2.6"/>
<circle cx="138.3" cy="530.3" r="2.6"/>
<circle cx="158.8" cy="520.7" r="2.6"/>
<circle cx="200.8" cy="452.5" r="2.6"/>
<circle cx="156.9" cy="535.6" r="2.6"/>
<circle cx="180.1" cy="497.2" r="2.6"/>
<circle cx="209.7" cy="416.0" r="2.6"/>
<circle cx="138.9" cy="539.0" r="2.6"/>
<circle cx="171.5" cy="469.9" r="2.6"/>
<circle cx="199.8" cy="448.3" r="2.6"/>
<circle cx="142.2" cy="512.3" r="2.6"/>
<circle cx="195.7" cy="486.1" r="2.6"/>
<circle cx="147.6" cy="503.0" r="2.6"/>
<circle cx="211.6" cy="478.9" r="2.6"/>
<circle cx="94.1" cy="544.1" r="2.6"/>
<circle cx="149.6" cy="494.9" r="2.6"/>
<circle cx="166.3" cy="506.1" r="2.6"/>
<circle cx="138.2" cy="486.6" r="2.6"/>
<circle cx="227.2" cy="464.5" r="2.6"/>
<circle cx="197.5" cy="447.9" r="2.6"/>
<circle cx="245.9" cy="453.2" r="2.6"/>
<circle cx="120.6" cy="542.5" r="2.6"/>
<circle cx="228.2" cy="447.1" r="2.6"/>
<circle cx="130.5" cy="499.0" r="2.6"/>
<circle cx="235.7" cy="454.2" r="2.6"/>
<circle cx="149.3" cy="527.5" r="2.6"/>
<circle cx="176.5" cy="464.0" r="2.6"/>
<circle cx="137.8" cy="532.8" r="2.6"/>
<circle cx="116.2" cy="519.9" r="2.6"/>
<circle cx="194.1" cy="433.0" r="2.6"/>
<circle cx="111.6" cy="532.7" r="2.6"/>
<circle cx="103.2" cy="552.7" r="2.6"/>
<circle cx="163.4" cy="492.6" r="2.6"/>
<circle cx="119.8" cy="540.9" r="2.6"/>
<circle cx="143.2" cy="526.5" r="2.6"/>
<circle cx="215.6" cy="433.8" r="2.6"/>
<circle cx="126.3" cy="551.0" r="2.6"/>
<circle cx="125.9" cy="536.7" r="2.6"/>
<circle cx="121.8" cy="561.4" r="2.6"/>
<circle cx="171.9" cy="451.9" r="2.6"/>
<circle cx="146.6" cy="541.4" r="2.6"/>
<circle cx="122.8" cy="553.3" r="2.6"/>
<circle cx="138.7" cy="540.4" r="2.6"/>
<circle cx="258.6" cy="468.6" r="2.6"/>
<circle cx="95.9" cy="561.6" r="2.6"/>
<circle cx="186.7" cy="457.8" r="2.6"/>
<circle cx="202.9" cy="475.6" r="2.6"/>
<circle cx="134.5" cy="552.6" r="2.6"/>
<circle cx="119.3" cy="510.5" r="2.6"/>
<circle cx="180.4" cy="452.0" r="2.6"/>
<circle cx="177.7" cy="495.5" r="2.6"/>
<circle cx="164.8" cy="496.8" r="2.6"/>
<circle cx="176.6" cy="493.2" r="2.6"/>
<circle cx="207.9" cy="449.6" r="2.6"/>
<circle cx="147.6" cy="483.6" r="2.6"/>
<circle cx="168.0" cy="504.4" r="2.6"/>
<circle cx="188.2" cy="475.6" r="2.6"/>
<circle cx="110.2" cy="530.9" r="2.6"/>
<circle cx="249.7" cy="444.6" r="2.6"/>
<circle cx="177.7" cy="483.2" r="2.6"/>
<circle cx="109.8" cy="556.1" r="2.6"/>
<circle cx="168.7" cy="502.2" r="2.6"/>
<circle cx="185.0" cy="481.2" r="2.6"/>
<circle cx="279.2" cy="457.8" r="2.6"/>
<circle cx="212.6" cy="484.2" r="2.6"/>
<circle cx="149.4" cy="494.1" r="2.6"/>
<circle cx="106.5" cy="549.3" r="2.6"/>
<circle cx="270.2" cy="442.2" r="2.6"/>
<circle cx="222.1" cy="463.6" r="2.6"/>
<circle cx="185.1" cy="493.4" r="2.6"/>
<circle cx="150.2" cy="504.9" r="2.6"/>
<circle cx="92.1" cy="546.8" r="2.6"/>
<circle cx="218.7" cy="430.3" r="2.6"/>
<circle cx="123.6" cy="545.4" r="2.6"/>
<circle cx="162.8" cy="456.9" r="2.6"/>
<circle cx="102.4" cy="548.2" r="2.6"/>
<circle cx="552.8" cy="99.1" r="2.6"/>
<circle cx="493.9" cy="185.7" r="2.6"/>
<circle cx="509.1" cy="201.3" r="2.6"/>
<circle cx="570.9" cy="208.0" r="2.6"/>
<circle cx="443.8" cy="219.6" r="2.6"/>
<circle cx="484.6" cy="215.6" r="2.6"/>
<circle cx="581.0" cy="231.9" r="2.6"/>
<circle cx="451.8" cy="241.5" r="2.6"/>
<circle cx="452.5" cy="249.8" r="2.6"/>
<circle cx="480.6" cy="255.6" r="2.6"/>
<circle cx="525.9" cy="253.1" r="2.6"/>
<circle cx="518.1" cy="264.0" r="2.6"/>
<circle cx="587.3" cy="258.0" r="2.6"/>
<circle cx="591.7" cy="269.6" r="2.6"/>
<circle cx="460.1" cy="274.1" r="2.6"/>
<circle cx="466.3" cy="276.5" r="2.6"/>
<circle cx="475.7" cy="271.0" r="2.6"/>
<circle cx="486.9" cy="275.9" r="2.6"/>
<circle cx="464.5" cy="287.0" r="2.6"/>
<circle cx="471.2" cy="285.2" r="2.6"/>
<circle cx="465.2" cy="290.4" r="2.6"/>
<circle cx="444.5" cy="295.9" r="2.6"/>
<circle cx="459.0" cy="295.5" r="2.6"/>
<circle cx="450.7" cy="299.3" r="2.6"/>
<circle cx="460.1" cy="303.1" r="2.6"/>
<circle cx="463.0" cy="304.2" r="2.6"/>
<circle cx="496.5" cy="293.7" r="2.6"/>
<circle cx="494.9" cy="303.3" r="2.6"/>
<circle cx="446.2" cy="313.8" r="2.6"/>
<circle cx="460.8" cy="310.4" r="2.6"/>
<circle cx="466.3" cy="314.9" r="2.6"/>
<circle cx="473.0" cy="309.3" r="2.6"/>
<circle cx="481.3" cy="309.8" r="2.6"/>
<circle cx="453.2" cy="318.9" r="2.6"/>
<circle cx="537.1" cy="324.3" r="2.6"/>
<circle cx="540.9" cy="327.0" r="2.6"/>
<circle cx="461.6" cy="340.1" r="2.6"/>
<circle cx="463.2" cy="347.7" r="2.6"/>
<circle cx="376.6" cy="228.1" r="2.6"/>
<circle cx="368.4" cy="236.8" r="2.6"/>
<circle cx="395.8" cy="241.9" r="2.6"/>
<circle cx="424.2" cy="245.3" r="2.6"/>
<circle cx="376.9" cy="261.4" r="2.6"/>
<circle cx="400.7" cy="271.4" r="2.6"/>
<circle cx="403.0" cy="273.6" r="2.6"/>
<circle cx="407.9" cy="275.4" r="2.6"/>
<circle cx="426.4" cy="275.9" r="2.6"/>
<circle cx="425.7" cy="280.8" r="2.6"/>
<circle cx="387.3" cy="279.9" r="2.6"/>
<circle cx="426.6" cy="289.9" r="2.6"/>
<circle cx="427.5" cy="294.8" r="2.6"/>
<circle cx="378.0" cy="300.6" r="2.6"/>
<circle cx="396.3" cy="297.5" r="2.6"/>
<circle cx="388.9" cy="303.3" r="2.6"/>
<circle cx="400.7" cy="304.0" r="2.6"/>
<circle cx="425.7" cy="304.4" r="2.6"/>
<circle cx="429.7" cy="301.5" r="2.6"/>
<circle cx="429.7" cy="307.5" r="2.6"/>
<circle cx="438.7" cy="302.6" r="2.6"/>
<circle cx="278.0" cy="303.1" r="2.6"/>
<circle cx="383.3" cy="311.6" r="2.6"/>
<circle cx="391.8" cy="315.4" r="2.6"/>
<circle cx="357.4" cy="316.0" r="2.6"/>
<circle cx="361.9" cy="316.0" r="2.6"/>
<circle cx="407.9" cy="314.9" r="2.6"/>
<circle cx="416.8" cy="311.6" r="2.6"/>
<circle cx="418.1" cy="320.5" r="2.6"/>
<circle cx="377.5" cy="322.7" r="2.6"/>
<circle cx="247.9" cy="322.3" r="2.6"/>
<circle cx="250.1" cy="327.6" r="2.6"/>
<circle cx="267.5" cy="326.5" r="2.6"/>
<circle cx="307.0" cy="328.3" r="2.6"/>
<circle cx="313.3" cy="330.5" r="2.6"/>
<circle cx="311.5" cy="333.4" r="2.6"/>
<circle cx="349.4" cy="327.6" r="2.6"/>
<circle cx="355.2" cy="328.3" r="2.6"/>
<circle cx="351.2" cy="331.6" r="2.6"/>
<circle cx="398.5" cy="327.6" r="2.6"/>
<circle cx="423.5" cy="328.7" r="2.6"/>
<circle cx="424.8" cy="329.4" r="2.6"/>
<circle cx="369.0" cy="333.4" r="2.6"/>
<circle cx="369.0" cy="335.7" r="2.6"/>
<circle cx="416.3" cy="334.1" r="2.6"/>
<circle cx="407.4" cy="338.3" r="2.6"/>
<circle cx="421.9" cy="337.9" r="2.6"/>
<circle cx="261.3" cy="343.5" r="2.6"/>
<circle cx="317.1" cy="345.7" r="2.6"/>
<circle cx="329.8" cy="341.7" r="2.6"/>
<circle cx="328.9" cy="343.2" r="2.6"/>
<circle cx="352.8" cy="344.6" r="2.6"/>
<circle cx="340.5" cy="348.4" r="2.6"/>
<circle cx="348.3" cy="347.3" r="2.6"/>
<circle cx="371.7" cy="345.0" r="2.6"/>
<circle cx="378.4" cy="342.8" r="2.6"/>
<circle cx="384.0" cy="343.9" r="2.6"/>
<circle cx="392.9" cy="342.8" r="2.6"/>
<circle cx="394.0" cy="348.4" r="2.6"/>
<circle cx="405.2" cy="335.0" r="2.6"/>
<circle cx="428.3" cy="366.1" r="2.6"/>
<circle cx="432.7" cy="371.2" r="2.6"/>
<circle cx="509.2" cy="387.5" r="2.6"/>
<circle cx="436.7" cy="429.7" r="2.6"/>
<circle cx="429.6" cy="441.1" r="2.6"/>
<circle cx="422.2" cy="340.5" r="2.6"/>
<circle cx="310.2" cy="457.5" r="2.6"/>
<circle cx="321.2" cy="454.6" r="2.6"/>
<circle cx="350.6" cy="447.5" r="2.6"/>
<circle cx="355.3" cy="443.0" r="2.6"/>
<circle cx="308.2" cy="487.8" r="2.6"/>
<circle cx="169.4" cy="369.3" r="2.6"/>
<circle cx="202.8" cy="378.6" r="2.6"/>
<circle cx="218.8" cy="374.1" r="2.6"/>
<circle cx="160.3" cy="393.2" r="2.6"/>
<circle cx="172.9" cy="391.4" r="2.6"/>
<circle cx="182.2" cy="390.4" r="2.6"/>
<circle cx="124.4" cy="398.2" r="2.6"/>
<circle cx="175.3" cy="398.2" r="2.6"/>
<circle cx="191.3" cy="399.6" r="2.6"/>
<circle cx="154.2" cy="402.3" r="2.6"/>
<circle cx="182.2" cy="406.8" r="2.6"/>
<circle cx="204.5" cy="408.0" r="2.6"/>
<circle cx="199.2" cy="411.3" r="2.6"/>
<circle cx="155.4" cy="415.7" r="2.6"/>
<circle cx="171.9" cy="415.2" r="2.6"/>
<circle cx="176.9" cy="413.4" r="2.6"/>
<circle cx="196.5" cy="415.2" r="2.6"/>
<circle cx="193.8" cy="418.8" r="2.6"/>
<circle cx="164.9" cy="418.0" r="2.6"/>
<circle cx="138.5" cy="420.7" r="2.6"/>
<circle cx="181.5" cy="421.1" r="2.6"/>
<circle cx="214.0" cy="418.8" r="2.6"/>
<circle cx="111.7" cy="427.9" r="2.6"/>
<circle cx="172.0" cy="425.2" r="2.6"/>
<circle cx="159.9" cy="426.4" r="2.6"/>
<circle cx="153.6" cy="430.4" r="2.6"/>
<circle cx="157.2" cy="432.5" r="2.6"/>
<circle cx="165.8" cy="430.4" r="2.6"/>
<circle cx="132.2" cy="431.3" r="2.6"/>
<circle cx="145.3" cy="438.0" r="2.6"/>
<circle cx="147.4" cy="440.5" r="2.6"/>
<circle cx="139.4" cy="441.6" r="2.6"/>
<circle cx="91.1" cy="452.1" r="2.6"/>
<circle cx="119.7" cy="450.4" r="2.6"/>
<circle cx="135.4" cy="449.1" r="2.6"/>
<circle cx="125.1" cy="455.9" r="2.6"/>
<circle cx="126.9" cy="457.7" r="2.6"/>
<circle cx="105.1" cy="465.7" r="2.6"/>
<circle cx="109.4" cy="465.7" r="2.6"/>
<circle cx="130.4" cy="466.6" r="2.6"/>
<circle cx="64.9" cy="490.1" r="2.6"/>
<circle cx="309.3" cy="352.4" r="2.6"/>
<circle cx="317.7" cy="356.2" r="2.6"/>
<circle cx="318.3" cy="360.3" r="2.6"/>
<circle cx="308.5" cy="360.3" r="2.6"/>
<circle cx="329.5" cy="361.1" r="2.6"/>
<circle cx="327.8" cy="362.7" r="2.6"/>
<circle cx="343.4" cy="359.1" r="2.6"/>
<circle cx="349.1" cy="361.9" r="2.6"/>
<circle cx="352.4" cy="361.1" r="2.6"/>
<circle cx="358.9" cy="357.5" r="2.6"/>
<circle cx="339.3" cy="365.2" r="2.6"/>
<circle cx="335.2" cy="368.5" r="2.6"/>
<circle cx="341.8" cy="369.3" r="2.6"/>
<circle cx="325.4" cy="369.3" r="2.6"/>
<circle cx="311.5" cy="368.5" r="2.6"/>
<circle cx="318.0" cy="368.5" r="2.6"/>
<circle cx="328.7" cy="372.9" r="2.6"/>
<circle cx="323.7" cy="372.9" r="2.6"/>
<circle cx="311.1" cy="372.6" r="2.6"/>
<circle cx="316.4" cy="375.5" r="2.6"/>
<circle cx="302.5" cy="378.3" r="2.6"/>
<circle cx="307.9" cy="379.1" r="2.6"/>
<circle cx="352.4" cy="374.2" r="2.6"/>
<circle cx="352.4" cy="377.5" r="2.6"/>
<circle cx="358.1" cy="378.3" r="2.6"/>
<circle cx="361.4" cy="370.6" r="2.6"/>
<circle cx="363.9" cy="372.9" r="2.6"/>
<circle cx="368.8" cy="369.3" r="2.6"/>
<circle cx="365.5" cy="378.8" r="2.6"/>
<circle cx="374.5" cy="383.2" r="2.6"/>
<circle cx="390.9" cy="378.6" r="2.6"/>
<circle cx="394.6" cy="370.1" r="2.6"/>
<circle cx="399.9" cy="366.8" r="2.6"/>
<circle cx="407.3" cy="359.5" r="2.6"/>
<circle cx="410.5" cy="364.9" r="2.6"/>
<circle cx="428.5" cy="366.0" r="2.6"/>
<circle cx="432.6" cy="370.9" r="2.6"/>
<circle cx="390.1" cy="355.4" r="2.6"/>
<circle cx="394.2" cy="355.4" r="2.6"/>
<circle cx="399.1" cy="356.2" r="2.6"/>
<circle cx="394.2" cy="349.6" r="2.6"/>
<circle cx="345.0" cy="383.2" r="2.6"/>
<circle cx="351.6" cy="382.4" r="2.6"/>
<circle cx="350.8" cy="386.5" r="2.6"/>
<circle cx="337.7" cy="384.9" r="2.6"/>
<circle cx="332.7" cy="390.3" r="2.6"/>
<circle cx="335.2" cy="391.4" r="2.6"/>
<circle cx="345.8" cy="391.4" r="2.6"/>
<circle cx="363.9" cy="390.6" r="2.6"/>
<circle cx="367.5" cy="395.8" r="2.6"/>
<circle cx="328.7" cy="398.0" r="2.6"/>
<circle cx="322.9" cy="397.1" r="2.6"/>
<circle cx="321.3" cy="398.8" r="2.6"/>
<circle cx="313.1" cy="403.7" r="2.6"/>
<circle cx="354.9" cy="400.7" r="2.6"/>
<circle cx="359.8" cy="402.0" r="2.6"/>
<circle cx="354.0" cy="402.9" r="2.6"/>
<circle cx="377.0" cy="405.7" r="2.6"/>
<circle cx="320.5" cy="406.1" r="2.6"/>
<circle cx="324.6" cy="405.3" r="2.6"/>
<circle cx="322.1" cy="408.3" r="2.6"/>
<circle cx="309.8" cy="414.3" r="2.6"/>
<circle cx="305.7" cy="415.1" r="2.6"/>
<circle cx="301.6" cy="412.7" r="2.6"/>
<circle cx="328.7" cy="413.5" r="2.6"/>
<circle cx="333.6" cy="416.0" r="2.6"/>
<circle cx="323.7" cy="418.4" r="2.6"/>
<circle cx="362.2" cy="418.4" r="2.6"/>
<circle cx="361.4" cy="421.7" r="2.6"/>
<circle cx="362.2" cy="424.6" r="2.6"/>
<circle cx="306.5" cy="425.0" r="2.6"/>
<circle cx="318.0" cy="425.8" r="2.6"/>
<circle cx="314.7" cy="431.5" r="2.6"/>
<circle cx="322.1" cy="431.5" r="2.6"/>
<circle cx="304.9" cy="431.5" r="2.6"/>
<circle cx="366.3" cy="434.8" r="2.6"/>
<circle cx="303.3" cy="390.6" r="2.6"/>
<circle cx="308.2" cy="389.8" r="2.6"/>
<circle cx="311.5" cy="393.0" r="2.6"/>
<circle cx="315.6" cy="386.5" r="2.6"/>
<circle cx="309.8" cy="388.1" r="2.6"/>
<circle cx="302.5" cy="402.0" r="2.6"/>
<circle cx="300.0" cy="405.3" r="2.6"/>
<circle cx="316.4" cy="400.4" r="2.6"/>
<circle cx="311.5" cy="404.5" r="2.6"/>
<circle cx="326.2" cy="411.9" r="2.6"/>
<circle cx="224.7" cy="365.6" r="2.6"/>
<circle cx="248.1" cy="362.7" r="2.6"/>
<circle cx="280.7" cy="360.2" r="2.6"/>
<circle cx="292.3" cy="363.3" r="2.6"/>
<circle cx="224.7" cy="381.1" r="2.6"/>
<circle cx="230.4" cy="383.6" r="2.6"/>
<circle cx="233.5" cy="381.1" r="2.6"/>
<circle cx="240.2" cy="381.9" r="2.6"/>
<circle cx="261.6" cy="376.6" r="2.6"/>
<circle cx="269.3" cy="379.4" r="2.6"/>
<circle cx="274.9" cy="374.1" r="2.6"/>
<circle cx="279.1" cy="379.8" r="2.6"/>
<circle cx="257.6" cy="384.0" r="2.6"/>
<circle cx="274.4" cy="383.6" r="2.6"/>
<circle cx="287.0" cy="385.5" r="2.6"/>
<circle cx="294.9" cy="388.0" r="2.6"/>
<circle cx="300.6" cy="378.1" r="2.6"/>
<circle cx="281.0" cy="387.8" r="2.6"/>
<circle cx="267.0" cy="388.6" r="2.6"/>
<circle cx="269.6" cy="388.0" r="2.6"/>
<circle cx="225.9" cy="389.9" r="2.6"/>
<circle cx="224.7" cy="393.1" r="2.6"/>
<circle cx="233.5" cy="392.8" r="2.6"/>
<circle cx="260.1" cy="391.2" r="2.6"/>
<circle cx="272.1" cy="393.1" r="2.6"/>
<circle cx="268.9" cy="396.2" r="2.6"/>
<circle cx="282.2" cy="393.1" r="2.6"/>
<circle cx="288.6" cy="392.4" r="2.6"/>
<circle cx="301.2" cy="390.5" r="2.6"/>
<circle cx="263.9" cy="397.9" r="2.6"/>
<circle cx="277.2" cy="398.1" r="2.6"/>
<circle cx="287.3" cy="396.2" r="2.6"/>
<circle cx="296.1" cy="399.4" r="2.6"/>
<circle cx="236.7" cy="400.7" r="2.6"/>
<circle cx="237.3" cy="403.2" r="2.6"/>
<circle cx="222.8" cy="402.6" r="2.6"/>
<circle cx="220.9" cy="403.8" r="2.6"/>
<circle cx="248.1" cy="402.6" r="2.6"/>
<circle cx="255.7" cy="406.4" r="2.6"/>
<circle cx="263.3" cy="404.5" r="2.6"/>
<circle cx="265.1" cy="407.0" r="2.6"/>
<circle cx="275.9" cy="400.7" r="2.6"/>
<circle cx="278.4" cy="404.5" r="2.6"/>
<circle cx="283.5" cy="402.6" r="2.6"/>
<circle cx="288.6" cy="404.5" r="2.6"/>
<circle cx="293.6" cy="407.0" r="2.6"/>
<circle cx="220.9" cy="411.4" r="2.6"/>
<circle cx="228.1" cy="411.8" r="2.6"/>
<circle cx="236.4" cy="411.4" r="2.6"/>
<circle cx="243.6" cy="409.5" r="2.6"/>
<circle cx="259.5" cy="410.8" r="2.6"/>
<circle cx="273.4" cy="409.5" r="2.6"/>
<circle cx="299.9" cy="408.3" r="2.6"/>
<circle cx="214.5" cy="418.4" r="2.6"/>
<circle cx="221.5" cy="419.6" r="2.6"/>
<circle cx="291.8" cy="474.1" r="2.6"/>
<circle cx="292.5" cy="488.3" r="2.6"/>
<circle cx="292.2" cy="527.2" r="2.6"/>
<circle cx="255.4" cy="489.6" r="2.6"/>
<circle cx="252.0" cy="502.1" r="2.6"/>
<circle cx="261.7" cy="504.9" r="2.6"/>
<circle cx="230.3" cy="507.6" r="2.6"/>
<circle cx="219.6" cy="506.5" r="2.6"/>
<circle cx="204.1" cy="531.1" r="2.6"/>
<circle cx="190.5" cy="528.8" r="2.6"/>
<circle cx="179.1" cy="534.5" r="2.6"/>
<circle cx="170.0" cy="537.4" r="2.6"/>
<circle cx="184.8" cy="525.4" r="2.6"/>
<circle cx="205.3" cy="518.5" r="2.6"/>
<circle cx="199.6" cy="517.4" r="2.6"/>
<circle cx="206.4" cy="510.6" r="2.6"/>
<circle cx="197.3" cy="514.0" r="2.6"/>
<circle cx="292.9" cy="451.4" r="2.6"/>
<circle cx="236.0" cy="487.8" r="2.6"/>
<circle cx="238.3" cy="488.9" r="2.6"/>
<circle cx="231.5" cy="494.6" r="2.6"/>
<circle cx="226.9" cy="499.2" r="2.6"/>
<circle cx="112.7" cy="564.7" r="2.6"/>
<circle cx="152.6" cy="560.6" r="2.6"/>
<circle cx="134.2" cy="557.5" r="2.6"/>
<circle cx="96.7" cy="484.7" r="2.6"/>
<circle cx="110.2" cy="484.9" r="2.6"/>
<circle cx="119.7" cy="479.6" r="2.6"/>
<circle cx="116.5" cy="488.8" r="2.6"/>
<circle cx="119.7" cy="495.8" r="2.6"/>
<circle cx="125.4" cy="493.5" r="2.6"/>
<circle cx="87.8" cy="492.6" r="2.6"/>
<circle cx="84.9" cy="496.0" r="2.6"/>
<circle cx="97.9" cy="494.1" r="2.6"/>
<circle cx="97.6" cy="500.2" r="2.6"/>
<circle cx="94.4" cy="503.6" r="2.6"/>
<circle cx="103.9" cy="496.7" r="2.6"/>
<circle cx="107.7" cy="499.2" r="2.6"/>
<circle cx="108.9" cy="501.7" r="2.6"/>
<circle cx="103.9" cy="503.6" r="2.6"/>
<circle cx="112.7" cy="507.4" r="2.6"/>
<circle cx="84.9" cy="509.9" r="2.6"/>
<circle cx="106.0" cy="511.2" r="2.6"/>
<circle cx="96.9" cy="514.4" r="2.6"/>
<circle cx="90.6" cy="515.6" r="2.6"/>
<circle cx="82.4" cy="518.2" r="2.6"/>
<circle cx="103.9" cy="515.6" r="2.6"/>
<circle cx="106.4" cy="517.1" r="2.6"/>
<circle cx="99.5" cy="519.4" r="2.6"/>
<circle cx="96.9" cy="523.2" r="2.6"/>
<circle cx="89.3" cy="518.8" r="2.6"/>
<circle cx="88.1" cy="523.8" r="2.6"/>
<circle cx="84.3" cy="525.7" r="2.6"/>
<circle cx="91.9" cy="519.4" r="2.6"/>
<circle cx="93.1" cy="521.9" r="2.6"/>
<circle cx="117.2" cy="504.9" r="2.6"/>
<circle cx="121.0" cy="503.6" r="2.6"/>
</g>
<line x1="59.0" y1="593.0" x2="735.5" y2="65.0" stroke="#000" stroke-width="2.9"/>
<line x1="64.3" y1="567.3" x2="591.7" y2="207.1" stroke="#ff0000" stroke-width="2.7"/>
<rect x="59.0" y="65.0" width="676.5" height="528.0" fill="none" stroke="#262626" stroke-width="3"/>
<path d="M143.6 593.0V586.0M143.6 65.0V72.0M59.0 527.0H66.0M735.5 527.0H728.5M228.1 593.0V586.0M228.1 65.0V72.0M59.0 461.0H66.0M735.5 461.0H728.5M312.7 593.0V586.0M312.7 65.0V72.0M59.0 395.0H66.0M735.5 395.0H728.5M397.2 593.0V586.0M397.2 65.0V72.0M59.0 329.0H66.0M735.5 329.0H728.5M481.8 593.0V586.0M481.8 65.0V72.0M59.0 263.0H66.0M735.5 263.0H728.5M566.4 593.0V586.0M566.4 65.0V72.0M59.0 197.0H66.0M735.5 197.0H728.5M650.9 593.0V586.0M650.9 65.0V72.0M59.0 131.0H66.0M735.5 131.0H728.5" stroke="#262626" stroke-width="2.4" fill="none"/>
<g font-family="Liberation Sans, Arial, sans-serif" font-size="25" fill="#1c1c1c" stroke="#1c1c1c" stroke-width="1.1">
<text x="59.0" y="629.7" text-anchor="middle">0</text>
<text x="48.5" y="604.5" text-anchor="end">0</text>
<text x="143.6" y="629.7" text-anchor="middle">1</text>
<text x="48.5" y="538.3" text-anchor="end">1</text>
<text x="228.1" y="629.7" text-anchor="middle">2</text>
<text x="48.5" y="472.1" text-anchor="end">2</text>
<text x="312.7" y="629.7" text-anchor="middle">3</text>
<text x="48.5" y="405.9" text-anchor="end">3</text>
<text x="397.2" y="629.7" text-anchor="middle">4</text>
<text x="48.5" y="339.7" text-anchor="end">4</text>
<text x="481.8" y="629.7" text-anchor="middle">5</text>
<text x="48.5" y="273.5" text-anchor="end">5</text>
<text x="566.4" y="629.7" text-anchor="middle">6</text>
<text x="48.5" y="207.3" text-anchor="end">6</text>
<text x="650.9" y="629.7" text-anchor="middle">7</text>
<text x="48.5" y="141.1" text-anchor="end">7</text>
<text x="735.5" y="629.7" text-anchor="middle">8</text>
<text x="48.5" y="74.9" text-anchor="end">8</text>
</g>
<g font-family="Liberation Sans, Arial, sans-serif" font-size="28.4" font-weight="bold" fill="#1c1c1c">
<text transform="translate(397.2,665.6) scale(0.978,1)" text-anchor="middle">Buoy SWH (m)</text>
<text transform="translate(22.3,328.5) rotate(-90) scale(0.975,1)" text-anchor="middle">IDW-ST SWH (m)</text>
</g>
<g font-family="Liberation Serif, Times New Roman, serif" font-size="25.50" font-weight="bold" fill="#000" stroke="#000" stroke-width="0.5">
<text transform="translate(537.6,410.1) scale(1.075,1)">BIAS:</text>
<text transform="translate(629.4,410.1) scale(1.075,1)">0.124 m</text>
<text transform="translate(537.6,442.7) scale(1.075,1)">RMSE:</text>
<text transform="translate(631.0,442.7) scale(1.075,1)">0.424 m</text>
<text transform="translate(537.6,475.3) scale(1.075,1)">SI:</text>
<text transform="translate(632.9,475.3) scale(1.075,1)">0.246</text>
<text transform="translate(537.6,508.0) scale(1.075,1)">r:</text>
<text transform="translate(632.9,508.0) scale(1.075,1)">0.900</text>
<text transform="translate(537.6,540.1) scale(1.075,1)">Ps:</text>
<text transform="translate(634.1,540.1) scale(1.075,1)">0.179</text>
<text transform="translate(537.6,572.7) scale(1.075,1)">N:</text>
<text transform="translate(633.1,572.7) scale(1.075,1)">2482</text>
</g>
<g fill="#0000ff">
<circle cx="957.8" cy="540.1" r="2.6"/>
<circle cx="1040.5" cy="484.7" r="2.6"/>
<circle cx="1007.4" cy="501.8" r="2.6"/>
<circle cx="957.1" cy="541.4" r="2.6"/>
<circle cx="1024.1" cy="455.6" r="2.6"/>
<circle cx="1053.8" cy="457.7" r="2.6"/>
<circle cx="1010.0" cy="508.8" r="2.6"/>
<circle cx="1011.7" cy="497.8" r="2.6"/>
<circle cx="1108.8" cy="424.8" r="2.6"/>
<circle cx="1107.5" cy="454.4" r="2.6"/>
<circle cx="995.8" cy="513.4" r="2.6"/>
<circle cx="1131.2" cy="426.6" r="2.6"/>
<circle cx="959.5" cy="554.7" r="2.6"/>
<circle cx="1025.0" cy="507.7" r="2.6"/>
<circle cx="1061.6" cy="440.2" r="2.6"/>
<circle cx="1000.3" cy="517.8" r="2.6"/>
<circle cx="1047.1" cy="459.5" r="2.6"/>
<circle cx="1034.9" cy="488.6" r="2.6"/>
<circle cx="1006.1" cy="509.9" r="2.6"/>
<circle cx="1086.0" cy="477.5" r="2.6"/>
<circle cx="1029.2" cy="483.5" r="2.6"/>
<circle cx="1129.5" cy="414.3" r="2.6"/>
<circle cx="955.0" cy="520.6" r="2.6"/>
<circle cx="1080.2" cy="416.1" r="2.6"/>
<circle cx="1040.2" cy="483.4" r="2.6"/>
<circle cx="1118.0" cy="405.4" r="2.6"/>
<circle cx="923.6" cy="526.3" r="2.6"/>
<circle cx="963.3" cy="551.2" r="2.6"/>
<circle cx="995.4" cy="497.8" r="2.6"/>
<circle cx="999.9" cy="492.8" r="2.6"/>
<circle cx="1080.7" cy="473.3" r="2.6"/>
<circle cx="994.4" cy="517.1" r="2.6"/>
<circle cx="965.3" cy="545.0" r="2.6"/>
<circle cx="973.6" cy="551.4" r="2.6"/>
<circle cx="969.0" cy="546.2" r="2.6"/>
<circle cx="985.0" cy="535.6" r="2.6"/>
<circle cx="971.9" cy="549.1" r="2.6"/>
<circle cx="1075.7" cy="451.8" r="2.6"/>
<circle cx="985.8" cy="535.6" r="2.6"/>
<circle cx="995.7" cy="504.5" r="2.6"/>
<circle cx="1046.3" cy="518.9" r="2.6"/>
<circle cx="1048.8" cy="477.8" r="2.6"/>
<circle cx="1043.9" cy="496.0" r="2.6"/>
<circle cx="1073.3" cy="431.0" r="2.6"/>
<circle cx="1012.6" cy="509.2" r="2.6"/>
<circle cx="980.4" cy="534.2" r="2.6"/>
<circle cx="1001.9" cy="507.8" r="2.6"/>
<circle cx="1029.0" cy="502.8" r="2.6"/>
<circle cx="1093.8" cy="440.0" r="2.6"/>
<circle cx="1052.7" cy="455.7" r="2.6"/>
<circle cx="983.1" cy="509.6" r="2.6"/>
<circle cx="1022.9" cy="498.9" r="2.6"/>
<circle cx="1091.0" cy="460.4" r="2.6"/>
<circle cx="958.4" cy="538.2" r="2.6"/>
<circle cx="948.6" cy="563.0" r="2.6"/>
<circle cx="1133.5" cy="441.2" r="2.6"/>
<circle cx="978.6" cy="494.5" r="2.6"/>
<circle cx="1122.4" cy="406.1" r="2.6"/>
<circle cx="993.9" cy="483.8" r="2.6"/>
<circle cx="1099.3" cy="457.8" r="2.6"/>
<circle cx="960.3" cy="546.0" r="2.6"/>
<circle cx="946.0" cy="517.6" r="2.6"/>
<circle cx="1010.6" cy="512.2" r="2.6"/>
<circle cx="975.6" cy="527.2" r="2.6"/>
<circle cx="1025.5" cy="435.2" r="2.6"/>
<circle cx="959.5" cy="552.2" r="2.6"/>
<circle cx="992.1" cy="494.8" r="2.6"/>
<circle cx="950.2" cy="529.8" r="2.6"/>
<circle cx="1043.2" cy="486.3" r="2.6"/>
<circle cx="1007.5" cy="521.6" r="2.6"/>
<circle cx="1025.1" cy="475.4" r="2.6"/>
<circle cx="1072.6" cy="464.5" r="2.6"/>
<circle cx="1144.8" cy="405.9" r="2.6"/>
<circle cx="1001.4" cy="518.4" r="2.6"/>
<circle cx="1011.3" cy="500.9" r="2.6"/>
<circle cx="976.6" cy="545.5" r="2.6"/>
<circle cx="1122.3" cy="409.8" r="2.6"/>
<circle cx="1059.9" cy="486.5" r="2.6"/>
<circle cx="1008.4" cy="498.8" r="2.6"/>
<circle cx="950.6" cy="549.2" r="2.6"/>
<circle cx="945.5" cy="559.4" r="2.6"/>
<circle cx="946.9" cy="545.3" r="2.6"/>
<circle cx="981.4" cy="540.0" r="2.6"/>
<circle cx="1088.2" cy="454.3" r="2.6"/>
<circle cx="1002.3" cy="520.4" r="2.6"/>
<circle cx="989.6" cy="538.4" r="2.6"/>
<circle cx="1107.1" cy="409.4" r="2.6"/>
<circle cx="994.3" cy="532.2" r="2.6"/>
<circle cx="984.5" cy="527.4" r="2.6"/>
<circle cx="1087.9" cy="426.2" r="2.6"/>
<circle cx="998.3" cy="527.2" r="2.6"/>
<circle cx="961.5" cy="540.7" r="2.6"/>
<circle cx="1110.0" cy="445.6" r="2.6"/>
<circle cx="1063.1" cy="463.0" r="2.6"/>
<circle cx="1027.3" cy="488.7" r="2.6"/>
<circle cx="955.2" cy="545.2" r="2.6"/>
<circle cx="1032.5" cy="500.7" r="2.6"/>
<circle cx="1057.9" cy="472.3" r="2.6"/>
<circle cx="976.6" cy="547.9" r="2.6"/>
<circle cx="1101.0" cy="445.4" r="2.6"/>
<circle cx="1023.0" cy="484.1" r="2.6"/>
<circle cx="1036.3" cy="469.9" r="2.6"/>
<circle cx="1034.2" cy="476.8" r="2.6"/>
<circle cx="1046.1" cy="499.1" r="2.6"/>
<circle cx="977.2" cy="506.9" r="2.6"/>
<circle cx="1029.7" cy="460.7" r="2.6"/>
<circle cx="1144.0" cy="398.0" r="2.6"/>
<circle cx="970.3" cy="535.2" r="2.6"/>
<circle cx="1101.2" cy="448.1" r="2.6"/>
<circle cx="994.6" cy="510.8" r="2.6"/>
<circle cx="1026.2" cy="477.3" r="2.6"/>
<circle cx="984.4" cy="532.5" r="2.6"/>
<circle cx="970.0" cy="539.6" r="2.6"/>
<circle cx="1099.7" cy="430.8" r="2.6"/>
<circle cx="1041.9" cy="492.8" r="2.6"/>
<circle cx="976.1" cy="553.8" r="2.6"/>
<circle cx="974.2" cy="527.3" r="2.6"/>
<circle cx="1044.1" cy="506.9" r="2.6"/>
<circle cx="1012.3" cy="500.9" r="2.6"/>
<circle cx="991.2" cy="533.6" r="2.6"/>
<circle cx="1104.4" cy="461.0" r="2.6"/>
<circle cx="960.8" cy="546.2" r="2.6"/>
<circle cx="1039.5" cy="493.3" r="2.6"/>
<circle cx="1017.2" cy="496.4" r="2.6"/>
<circle cx="1079.8" cy="412.6" r="2.6"/>
<circle cx="970.3" cy="544.3" r="2.6"/>
<circle cx="1044.3" cy="486.9" r="2.6"/>
<circle cx="1014.3" cy="528.5" r="2.6"/>
<circle cx="967.6" cy="521.6" r="2.6"/>
<circle cx="970.9" cy="548.1" r="2.6"/>
<circle cx="933.5" cy="522.8" r="2.6"/>
<circle cx="994.7" cy="483.5" r="2.6"/>
<circle cx="1052.7" cy="489.3" r="2.6"/>
<circle cx="1055.5" cy="494.9" r="2.6"/>
<circle cx="962.9" cy="529.0" r="2.6"/>
<circle cx="996.0" cy="526.0" r="2.6"/>
<circle cx="1029.6" cy="490.6" r="2.6"/>
<circle cx="1027.0" cy="474.2" r="2.6"/>
<circle cx="1026.9" cy="515.3" r="2.6"/>
<circle cx="959.8" cy="560.9" r="2.6"/>
<circle cx="1032.1" cy="483.6" r="2.6"/>
<circle cx="1024.2" cy="500.7" r="2.6"/>
<circle cx="931.0" cy="524.2" r="2.6"/>
<circle cx="986.0" cy="522.2" r="2.6"/>
<circle cx="977.5" cy="542.3" r="2.6"/>
<circle cx="1047.8" cy="449.6" r="2.6"/>
<circle cx="1128.8" cy="426.9" r="2.6"/>
<circle cx="1130.6" cy="422.6" r="2.6"/>
<circle cx="1005.2" cy="504.0" r="2.6"/>
<circle cx="974.3" cy="503.6" r="2.6"/>
<circle cx="1036.5" cy="481.4" r="2.6"/>
<circle cx="1010.9" cy="503.5" r="2.6"/>
<circle cx="1003.3" cy="514.8" r="2.6"/>
<circle cx="952.5" cy="554.7" r="2.6"/>
<circle cx="1122.8" cy="442.2" r="2.6"/>
<circle cx="1026.9" cy="496.9" r="2.6"/>
<circle cx="924.2" cy="535.8" r="2.6"/>
<circle cx="1111.9" cy="423.5" r="2.6"/>
<circle cx="1001.8" cy="523.7" r="2.6"/>
<circle cx="1074.2" cy="442.9" r="2.6"/>
<circle cx="1020.6" cy="474.8" r="2.6"/>
<circle cx="968.5" cy="526.9" r="2.6"/>
<circle cx="1118.7" cy="432.2" r="2.6"/>
<circle cx="1112.6" cy="409.6" r="2.6"/>
<circle cx="990.3" cy="485.3" r="2.6"/>
<circle cx="963.2" cy="527.0" r="2.6"/>
<circle cx="984.5" cy="530.0" r="2.6"/>
<circle cx="1083.1" cy="483.0" r="2.6"/>
<circle cx="1113.3" cy="406.6" r="2.6"/>
<circle cx="1069.8" cy="462.9" r="2.6"/>
<circle cx="1066.4" cy="465.2" r="2.6"/>
<circle cx="977.0" cy="525.2" r="2.6"/>
<circle cx="1042.8" cy="517.2" r="2.6"/>
<circle cx="1016.0" cy="466.3" r="2.6"/>
<circle cx="1048.3" cy="466.5" r="2.6"/>
<circle cx="1007.6" cy="526.0" r="2.6"/>
<circle cx="1093.6" cy="424.4" r="2.6"/>
<circle cx="964.9" cy="517.6" r="2.6"/>
<circle cx="1023.6" cy="462.0" r="2.6"/>
<circle cx="1138.4" cy="407.4" r="2.6"/>
<circle cx="973.8" cy="541.9" r="2.6"/>
<circle cx="1038.6" cy="518.5" r="2.6"/>
<circle cx="1144.7" cy="403.0" r="2.6"/>
<circle cx="989.6" cy="499.6" r="2.6"/>
<circle cx="979.7" cy="549.0" r="2.6"/>
<circle cx="1080.5" cy="479.9" r="2.6"/>
<circle cx="939.4" cy="531.7" r="2.6"/>
<circle cx="1015.1" cy="480.3" r="2.6"/>
<circle cx="1052.5" cy="511.5" r="2.6"/>
<circle cx="1036.5" cy="503.3" r="2.6"/>
<circle cx="990.5" cy="501.6" r="2.6"/>
<circle cx="975.5" cy="539.4" r="2.6"/>
<circle cx="1064.0" cy="435.1" r="2.6"/>
<circle cx="987.5" cy="498.3" r="2.6"/>
<circle cx="970.5" cy="545.1" r="2.6"/>
<circle cx="965.0" cy="520.6" r="2.6"/>
<circle cx="990.1" cy="494.0" r="2.6"/>
<circle cx="1078.6" cy="464.6" r="2.6"/>
<circle cx="1041.9" cy="479.7" r="2.6"/>
<circle cx="1056.7" cy="477.2" r="2.6"/>
<circle cx="963.0" cy="531.1" r="2.6"/>
<circle cx="1009.3" cy="497.7" r="2.6"/>
<circle cx="957.4" cy="533.0" r="2.6"/>
<circle cx="1018.8" cy="474.0" r="2.6"/>
<circle cx="976.8" cy="544.6" r="2.6"/>
<circle cx="1042.3" cy="503.0" r="2.6"/>
<circle cx="985.8" cy="531.1" r="2.6"/>
<circle cx="963.2" cy="559.3" r="2.6"/>
<circle cx="996.0" cy="520.7" r="2.6"/>
<circle cx="929.0" cy="549.0" r="2.6"/>
<circle cx="1018.6" cy="469.1" r="2.6"/>
<circle cx="1013.0" cy="513.9" r="2.6"/>
<circle cx="1045.6" cy="469.8" r="2.6"/>
<circle cx="962.7" cy="546.0" r="2.6"/>
<circle cx="980.5" cy="502.4" r="2.6"/>
<circle cx="1055.1" cy="491.0" r="2.6"/>
<circle cx="1033.1" cy="488.9" r="2.6"/>
<circle cx="1024.8" cy="491.5" r="2.6"/>
<circle cx="948.8" cy="510.2" r="2.6"/>
<circle cx="1016.5" cy="440.4" r="2.6"/>
<circle cx="980.3" cy="534.2" r="2.6"/>
<circle cx="966.8" cy="548.6" r="2.6"/>
<circle cx="1046.0" cy="457.1" r="2.6"/>
<circle cx="971.6" cy="544.4" r="2.6"/>
<circle cx="1047.6" cy="444.2" r="2.6"/>
<circle cx="961.0" cy="549.5" r="2.6"/>
<circle cx="985.6" cy="542.5" r="2.6"/>
<circle cx="1054.6" cy="473.8" r="2.6"/>
<circle cx="1043.9" cy="493.6" r="2.6"/>
<circle cx="1003.4" cy="501.9" r="2.6"/>
<circle cx="1050.5" cy="459.3" r="2.6"/>
<circle cx="1084.2" cy="422.2" r="2.6"/>
<circle cx="1072.4" cy="461.0" r="2.6"/>
<circle cx="1066.7" cy="441.9" r="2.6"/>
<circle cx="997.4" cy="496.4" r="2.6"/>
<circle cx="1092.3" cy="448.5" r="2.6"/>
<circle cx="1129.4" cy="437.5" r="2.6"/>
<circle cx="945.4" cy="544.8" r="2.6"/>
<circle cx="1072.3" cy="452.4" r="2.6"/>
<circle cx="1015.2" cy="507.6" r="2.6"/>
<circle cx="1007.4" cy="519.3" r="2.6"/>
<circle cx="988.3" cy="529.9" r="2.6"/>
<circle cx="1039.2" cy="450.3" r="2.6"/>
<circle cx="1088.3" cy="458.1" r="2.6"/>
<circle cx="993.5" cy="514.4" r="2.6"/>
<circle cx="976.1" cy="532.0" r="2.6"/>
<circle cx="986.4" cy="534.9" r="2.6"/>
<circle cx="1036.7" cy="482.9" r="2.6"/>
<circle cx="1008.7" cy="514.6" r="2.6"/>
<circle cx="1051.5" cy="488.4" r="2.6"/>
<circle cx="1081.0" cy="419.5" r="2.6"/>
<circle cx="1001.6" cy="518.3" r="2.6"/>
<circle cx="993.5" cy="534.1" r="2.6"/>
<circle cx="1075.8" cy="490.1" r="2.6"/>
<circle cx="1049.9" cy="446.3" r="2.6"/>
<circle cx="1033.1" cy="493.9" r="2.6"/>
<circle cx="1080.9" cy="453.4" r="2.6"/>
<circle cx="975.2" cy="555.7" r="2.6"/>
<circle cx="1028.6" cy="508.7" r="2.6"/>
<circle cx="1014.7" cy="516.5" r="2.6"/>
<circle cx="1027.8" cy="458.9" r="2.6"/>
<circle cx="983.1" cy="513.5" r="2.6"/>
<circle cx="991.6" cy="526.6" r="2.6"/>
<circle cx="984.9" cy="527.3" r="2.6"/>
<circle cx="968.6" cy="540.4" r="2.6"/>
<circle cx="1056.5" cy="476.8" r="2.6"/>
<circle cx="1100.7" cy="428.9" r="2.6"/>
<circle cx="1049.6" cy="485.3" r="2.6"/>
<circle cx="939.7" cy="555.2" r="2.6"/>
<circle cx="1033.1" cy="491.0" r="2.6"/>
<circle cx="960.4" cy="531.5" r="2.6"/>
<circle cx="1054.4" cy="479.5" r="2.6"/>
<circle cx="1088.7" cy="440.5" r="2.6"/>
<circle cx="983.7" cy="537.8" r="2.6"/>
<circle cx="1021.2" cy="501.2" r="2.6"/>
<circle cx="1016.7" cy="503.5" r="2.6"/>
<circle cx="957.2" cy="539.4" r="2.6"/>
<circle cx="1000.7" cy="517.5" r="2.6"/>
<circle cx="970.6" cy="531.6" r="2.6"/>
<circle cx="988.0" cy="513.2" r="2.6"/>
<circle cx="927.5" cy="519.5" r="2.6"/>
<circle cx="1004.7" cy="517.5" r="2.6"/>
<circle cx="1077.2" cy="450.3" r="2.6"/>
<circle cx="1129.6" cy="413.1" r="2.6"/>
<circle cx="960.7" cy="537.0" r="2.6"/>
<circle cx="1027.8" cy="488.3" r="2.6"/>
<circle cx="1052.6" cy="468.0" r="2.6"/>
<circle cx="1162.8" cy="414.5" r="2.6"/>
<circle cx="980.5" cy="525.0" r="2.6"/>
<circle cx="956.5" cy="539.5" r="2.6"/>
<circle cx="1129.9" cy="412.7" r="2.6"/>
<circle cx="1053.8" cy="440.5" r="2.6"/>
<circle cx="1001.4" cy="500.4" r="2.6"/>
<circle cx="1027.3" cy="501.6" r="2.6"/>
<circle cx="1070.6" cy="473.7" r="2.6"/>
<circle cx="970.0" cy="512.9" r="2.6"/>
<circle cx="981.9" cy="530.1" r="2.6"/>
<circle cx="1037.1" cy="515.4" r="2.6"/>
<circle cx="1085.0" cy="443.6" r="2.6"/>
<circle cx="1041.2" cy="483.4" r="2.6"/>
<circle cx="1047.0" cy="474.6" r="2.6"/>
<circle cx="1114.6" cy="424.0" r="2.6"/>
<circle cx="994.0" cy="524.0" r="2.6"/>
<circle cx="1054.0" cy="502.2" r="2.6"/>
<circle cx="1010.3" cy="496.8" r="2.6"/>
<circle cx="1048.1" cy="446.7" r="2.6"/>
<circle cx="1003.8" cy="520.1" r="2.6"/>
<circle cx="986.6" cy="540.2" r="2.6"/>
<circle cx="1056.7" cy="465.8" r="2.6"/>
<circle cx="986.5" cy="516.2" r="2.6"/>
<circle cx="1049.0" cy="448.9" r="2.6"/>
<circle cx="1022.0" cy="481.3" r="2.6"/>
<circle cx="999.8" cy="536.3" r="2.6"/>
<circle cx="1042.0" cy="468.1" r="2.6"/>
<circle cx="1023.4" cy="494.8" r="2.6"/>
<circle cx="1018.4" cy="507.9" r="2.6"/>
<circle cx="1042.7" cy="487.8" r="2.6"/>
<circle cx="1021.7" cy="476.3" r="2.6"/>
<circle cx="955.4" cy="538.8" r="2.6"/>
<circle cx="984.5" cy="532.8" r="2.6"/>
<circle cx="931.3" cy="528.9" r="2.6"/>
<circle cx="1013.0" cy="473.6" r="2.6"/>
<circle cx="1041.9" cy="484.7" r="2.6"/>
<circle cx="992.0" cy="504.9" r="2.6"/>
<circle cx="1068.6" cy="482.5" r="2.6"/>
<circle cx="941.3" cy="543.9" r="2.6"/>
<circle cx="1054.2" cy="475.7" r="2.6"/>
<circle cx="1033.1" cy="487.2" r="2.6"/>
<circle cx="985.3" cy="530.2" r="2.6"/>
<circle cx="979.1" cy="508.0" r="2.6"/>
<circle cx="987.8" cy="521.9" r="2.6"/>
<circle cx="1024.7" cy="471.0" r="2.6"/>
<circle cx="970.7" cy="519.4" r="2.6"/>
<circle cx="985.7" cy="532.2" r="2.6"/>
<circle cx="1026.7" cy="444.2" r="2.6"/>
<circle cx="1091.0" cy="432.3" r="2.6"/>
<circle cx="1031.0" cy="509.2" r="2.6"/>
<circle cx="1021.3" cy="500.1" r="2.6"/>
<circle cx="975.1" cy="547.2" r="2.6"/>
<circle cx="1112.6" cy="443.7" r="2.6"/>
<circle cx="974.1" cy="520.0" r="2.6"/>
<circle cx="1043.6" cy="450.6" r="2.6"/>
<circle cx="1021.0" cy="519.5" r="2.6"/>
<circle cx="1048.1" cy="495.6" r="2.6"/>
<circle cx="972.1" cy="509.5" r="2.6"/>
<circle cx="1025.1" cy="506.0" r="2.6"/>
<circle cx="999.1" cy="523.9" r="2.6"/>
<circle cx="987.0" cy="523.3" r="2.6"/>
<circle cx="990.0" cy="516.7" r="2.6"/>
<circle cx="954.7" cy="545.4" r="2.6"/>
<circle cx="1051.5" cy="492.0" r="2.6"/>
<circle cx="1116.3" cy="427.7" r="2.6"/>
<circle cx="1092.1" cy="450.5" r="2.6"/>
<circle cx="1078.6" cy="451.2" r="2.6"/>
<circle cx="1102.2" cy="422.2" r="2.6"/>
<circle cx="1138.6" cy="400.6" r="2.6"/>
<circle cx="1120.1" cy="442.2" r="2.6"/>
<circle cx="1018.0" cy="456.2" r="2.6"/>
<circle cx="926.9" cy="526.9" r="2.6"/>
<circle cx="946.6" cy="559.8" r="2.6"/>
<circle cx="1064.8" cy="455.4" r="2.6"/>
<circle cx="1079.6" cy="440.7" r="2.6"/>
<circle cx="1011.1" cy="451.0" r="2.6"/>
<circle cx="982.6" cy="537.7" r="2.6"/>
<circle cx="926.9" cy="529.7" r="2.6"/>
<circle cx="1027.0" cy="442.0" r="2.6"/>
<circle cx="1001.0" cy="521.0" r="2.6"/>
<circle cx="982.0" cy="543.0" r="2.6"/>
<circle cx="1003.8" cy="522.0" r="2.6"/>
<circle cx="995.6" cy="508.0" r="2.6"/>
<circle cx="1057.7" cy="499.5" r="2.6"/>
<circle cx="940.7" cy="539.9" r="2.6"/>
<circle cx="982.5" cy="532.1" r="2.6"/>
<circle cx="1000.7" cy="524.2" r="2.6"/>
<circle cx="1076.4" cy="471.2" r="2.6"/>
<circle cx="971.5" cy="521.8" r="2.6"/>
<circle cx="925.6" cy="524.4" r="2.6"/>
<circle cx="1021.0" cy="488.6" r="2.6"/>
<circle cx="1093.1" cy="455.6" r="2.6"/>
<circle cx="1042.5" cy="435.5" r="2.6"/>
<circle cx="1113.6" cy="423.8" r="2.6"/>
<circle cx="1003.2" cy="516.3" r="2.6"/>
<circle cx="1015.7" cy="445.7" r="2.6"/>
<circle cx="980.3" cy="484.8" r="2.6"/>
<circle cx="1069.2" cy="472.2" r="2.6"/>
<circle cx="1002.2" cy="495.4" r="2.6"/>
<circle cx="989.2" cy="484.0" r="2.6"/>
<circle cx="1015.5" cy="524.4" r="2.6"/>
<circle cx="1018.9" cy="469.0" r="2.6"/>
<circle cx="1067.8" cy="480.6" r="2.6"/>
<circle cx="1032.0" cy="491.5" r="2.6"/>
<circle cx="1068.3" cy="445.8" r="2.6"/>
<circle cx="954.1" cy="558.1" r="2.6"/>
<circle cx="1004.0" cy="526.3" r="2.6"/>
<circle cx="954.5" cy="532.9" r="2.6"/>
<circle cx="979.0" cy="538.0" r="2.6"/>
<circle cx="1065.4" cy="475.7" r="2.6"/>
<circle cx="958.9" cy="514.9" r="2.6"/>
<circle cx="1046.1" cy="503.2" r="2.6"/>
<circle cx="1048.4" cy="477.7" r="2.6"/>
<circle cx="962.3" cy="557.5" r="2.6"/>
<circle cx="1026.9" cy="457.4" r="2.6"/>
<circle cx="926.2" cy="530.8" r="2.6"/>
<circle cx="1043.6" cy="464.8" r="2.6"/>
<circle cx="1143.0" cy="397.0" r="2.6"/>
<circle cx="966.9" cy="553.0" r="2.6"/>
<circle cx="926.3" cy="530.3" r="2.6"/>
<circle cx="1135.0" cy="422.3" r="2.6"/>
<circle cx="1067.3" cy="474.0" r="2.6"/>
<circle cx="971.2" cy="539.8" r="2.6"/>
<circle cx="1040.8" cy="478.0" r="2.6"/>
<circle cx="949.1" cy="537.5" r="2.6"/>
<circle cx="1098.4" cy="463.5" r="2.6"/>
<circle cx="976.9" cy="546.1" r="2.6"/>
<circle cx="1055.3" cy="478.7" r="2.6"/>
<circle cx="1055.3" cy="455.0" r="2.6"/>
<circle cx="1047.6" cy="437.9" r="2.6"/>
<circle cx="987.1" cy="537.2" r="2.6"/>
<circle cx="1031.3" cy="470.4" r="2.6"/>
<circle cx="939.6" cy="533.6" r="2.6"/>
<circle cx="1022.4" cy="511.2" r="2.6"/>
<circle cx="1039.3" cy="465.8" r="2.6"/>
<circle cx="994.9" cy="493.6" r="2.6"/>
<circle cx="1066.7" cy="448.5" r="2.6"/>
<circle cx="965.1" cy="548.5" r="2.6"/>
<circle cx="1004.7" cy="517.0" r="2.6"/>
<circle cx="1080.6" cy="445.5" r="2.6"/>
<circle cx="1027.3" cy="443.2" r="2.6"/>
<circle cx="1081.4" cy="471.3" r="2.6"/>
<circle cx="992.8" cy="516.1" r="2.6"/>
<circle cx="974.4" cy="544.9" r="2.6"/>
<circle cx="972.8" cy="527.7" r="2.6"/>
<circle cx="1072.8" cy="455.0" r="2.6"/>
<circle cx="1033.1" cy="486.1" r="2.6"/>
<circle cx="1140.0" cy="400.9" r="2.6"/>
<circle cx="988.9" cy="531.6" r="2.6"/>
<circle cx="949.4" cy="535.9" r="2.6"/>
<circle cx="964.6" cy="509.0" r="2.6"/>
<circle cx="1019.1" cy="490.6" r="2.6"/>
<circle cx="940.0" cy="555.1" r="2.6"/>
<circle cx="953.3" cy="535.7" r="2.6"/>
<circle cx="959.1" cy="546.7" r="2.6"/>
<circle cx="1001.2" cy="515.5" r="2.6"/>
<circle cx="1053.0" cy="492.4" r="2.6"/>
<circle cx="973.4" cy="527.8" r="2.6"/>
<circle cx="1026.5" cy="483.3" r="2.6"/>
<circle cx="1048.8" cy="489.4" r="2.6"/>
<circle cx="962.1" cy="553.1" r="2.6"/>
<circle cx="1021.4" cy="463.1" r="2.6"/>
<circle cx="1110.4" cy="438.0" r="2.6"/>
<circle cx="1117.9" cy="418.2" r="2.6"/>
<circle cx="966.9" cy="516.9" r="2.6"/>
<circle cx="1047.4" cy="464.3" r="2.6"/>
<circle cx="1089.1" cy="463.2" r="2.6"/>
<circle cx="1029.8" cy="451.2" r="2.6"/>
<circle cx="959.3" cy="549.6" r="2.6"/>
<circle cx="964.5" cy="543.8" r="2.6"/>
<circle cx="982.6" cy="522.5" r="2.6"/>
<circle cx="1020.5" cy="505.5" r="2.6"/>
<circle cx="1026.7" cy="501.6" r="2.6"/>
<circle cx="999.4" cy="487.1" r="2.6"/>
<circle cx="946.8" cy="554.9" r="2.6"/>
<circle cx="976.2" cy="544.9" r="2.6"/>
<circle cx="1027.7" cy="519.8" r="2.6"/>
<circle cx="929.2" cy="533.8" r="2.6"/>
<circle cx="982.2" cy="533.1" r="2.6"/>
<circle cx="1006.4" cy="470.5" r="2.6"/>
<circle cx="994.2" cy="508.8" r="2.6"/>
<circle cx="1017.1" cy="519.1" r="2.6"/>
<circle cx="1066.2" cy="466.5" r="2.6"/>
<circle cx="942.5" cy="529.6" r="2.6"/>
<circle cx="1005.3" cy="524.3" r="2.6"/>
<circle cx="1017.8" cy="520.9" r="2.6"/>
<circle cx="978.2" cy="518.8" r="2.6"/>
<circle cx="1099.8" cy="460.4" r="2.6"/>
<circle cx="1068.0" cy="489.8" r="2.6"/>
<circle cx="1047.4" cy="467.9" r="2.6"/>
<circle cx="974.1" cy="552.7" r="2.6"/>
<circle cx="1014.4" cy="450.4" r="2.6"/>
<circle cx="1055.8" cy="501.0" r="2.6"/>
<circle cx="955.4" cy="544.8" r="2.6"/>
<circle cx="947.0" cy="563.0" r="2.6"/>
<circle cx="999.8" cy="531.1" r="2.6"/>
<circle cx="983.0" cy="529.3" r="2.6"/>
<circle cx="996.0" cy="494.4" r="2.6"/>
<circle cx="1056.4" cy="481.4" r="2.6"/>
<circle cx="1012.3" cy="470.3" r="2.6"/>
<circle cx="980.8" cy="500.5" r="2.6"/>
<circle cx="955.0" cy="543.9" r="2.6"/>
<circle cx="1044.0" cy="433.0" r="2.6"/>
<circle cx="1022.1" cy="481.7" r="2.6"/>
<circle cx="1042.8" cy="442.6" r="2.6"/>
<circle cx="973.3" cy="544.6" r="2.6"/>
<circle cx="937.0" cy="540.3" r="2.6"/>
<circle cx="960.7" cy="551.6" r="2.6"/>
<circle cx="1054.8" cy="460.9" r="2.6"/>
<circle cx="1029.4" cy="442.6" r="2.6"/>
<circle cx="1050.3" cy="470.0" r="2.6"/>
<circle cx="1067.0" cy="465.2" r="2.6"/>
<circle cx="982.1" cy="531.7" r="2.6"/>
<circle cx="1008.4" cy="489.4" r="2.6"/>
<circle cx="998.8" cy="529.2" r="2.6"/>
<circle cx="1056.7" cy="466.5" r="2.6"/>
<circle cx="1054.8" cy="510.8" r="2.6"/>
<circle cx="1031.3" cy="508.0" r="2.6"/>
<circle cx="961.7" cy="560.9" r="2.6"/>
<circle cx="986.0" cy="500.5" r="2.6"/>
<circle cx="996.1" cy="495.4" r="2.6"/>
<circle cx="1041.6" cy="493.8" r="2.6"/>
<circle cx="974.4" cy="543.7" r="2.6"/>
<circle cx="1066.0" cy="439.2" r="2.6"/>
<circle cx="951.2" cy="567.0" r="2.6"/>
<circle cx="1059.0" cy="490.1" r="2.6"/>
<circle cx="1027.4" cy="483.5" r="2.6"/>
<circle cx="974.3" cy="516.8" r="2.6"/>
<circle cx="989.0" cy="525.9" r="2.6"/>
<circle cx="998.7" cy="505.3" r="2.6"/>
<circle cx="1063.9" cy="458.3" r="2.6"/>
<circle cx="988.9" cy="526.9" r="2.6"/>
<circle cx="1034.9" cy="497.9" r="2.6"/>
<circle cx="1043.8" cy="488.9" r="2.6"/>
<circle cx="996.8" cy="521.9" r="2.6"/>
<circle cx="1057.4" cy="484.7" r="2.6"/>
<circle cx="984.4" cy="539.3" r="2.6"/>
<circle cx="966.3" cy="549.6" r="2.6"/>
<circle cx="1052.0" cy="486.9" r="2.6"/>
<circle cx="1105.6" cy="423.5" r="2.6"/>
<circle cx="949.6" cy="551.6" r="2.6"/>
<circle cx="1079.7" cy="466.0" r="2.6"/>
<circle cx="997.4" cy="512.4" r="2.6"/>
<circle cx="976.4" cy="544.3" r="2.6"/>
<circle cx="992.1" cy="502.7" r="2.6"/>
<circle cx="1016.3" cy="466.7" r="2.6"/>
<circle cx="982.4" cy="516.9" r="2.6"/>
<circle cx="961.0" cy="552.6" r="2.6"/>
<circle cx="959.7" cy="548.7" r="2.6"/>
<circle cx="1006.7" cy="504.9" r="2.6"/>
<circle cx="1032.1" cy="479.0" r="2.6"/>
<circle cx="1001.2" cy="522.5" r="2.6"/>
<circle cx="1007.2" cy="519.5" r="2.6"/>
<circle cx="1105.0" cy="438.4" r="2.6"/>
<circle cx="1074.8" cy="474.2" r="2.6"/>
<circle cx="1020.4" cy="485.4" r="2.6"/>
<circle cx="1039.7" cy="486.6" r="2.6"/>
<circle cx="991.7" cy="504.2" r="2.6"/>
<circle cx="988.5" cy="501.6" r="2.6"/>
<circle cx="1031.7" cy="474.7" r="2.6"/>
<circle cx="1029.6" cy="515.3" r="2.6"/>
<circle cx="979.8" cy="526.3" r="2.6"/>
<circle cx="1143.2" cy="418.3" r="2.6"/>
<circle cx="984.0" cy="520.8" r="2.6"/>
<circle cx="1014.0" cy="518.3" r="2.6"/>
<circle cx="1061.4" cy="486.3" r="2.6"/>
<circle cx="992.7" cy="527.8" r="2.6"/>
<circle cx="968.1" cy="532.3" r="2.6"/>
<circle cx="1085.1" cy="460.3" r="2.6"/>
<circle cx="1012.4" cy="520.9" r="2.6"/>
<circle cx="950.6" cy="550.3" r="2.6"/>
<circle cx="1065.4" cy="462.4" r="2.6"/>
<circle cx="977.6" cy="535.9" r="2.6"/>
<circle cx="1073.6" cy="478.3" r="2.6"/>
<circle cx="982.8" cy="508.0" r="2.6"/>
<circle cx="1000.0" cy="509.5" r="2.6"/>
<circle cx="1013.9" cy="504.0" r="2.6"/>
<circle cx="944.8" cy="560.6" r="2.6"/>
<circle cx="958.4" cy="535.3" r="2.6"/>
<circle cx="1121.2" cy="440.8" r="2.6"/>
<circle cx="1027.8" cy="501.7" r="2.6"/>
<circle cx="1031.7" cy="505.6" r="2.6"/>
<circle cx="980.7" cy="522.3" r="2.6"/>
<circle cx="984.5" cy="513.8" r="2.6"/>
<circle cx="1095.1" cy="426.1" r="2.6"/>
<circle cx="956.3" cy="532.2" r="2.6"/>
<circle cx="1043.1" cy="490.9" r="2.6"/>
<circle cx="1119.3" cy="425.7" r="2.6"/>
<circle cx="1085.0" cy="466.0" r="2.6"/>
<circle cx="1045.9" cy="498.1" r="2.6"/>
<circle cx="1076.9" cy="427.8" r="2.6"/>
<circle cx="1023.0" cy="443.6" r="2.6"/>
<circle cx="960.4" cy="530.9" r="2.6"/>
<circle cx="1115.0" cy="430.3" r="2.6"/>
<circle cx="1038.1" cy="471.2" r="2.6"/>
<circle cx="1019.2" cy="458.2" r="2.6"/>
<circle cx="979.4" cy="534.9" r="2.6"/>
<circle cx="976.1" cy="520.0" r="2.6"/>
<circle cx="1027.2" cy="483.6" r="2.6"/>
<circle cx="992.7" cy="494.8" r="2.6"/>
<circle cx="937.3" cy="561.9" r="2.6"/>
<circle cx="989.7" cy="521.5" r="2.6"/>
<circle cx="973.0" cy="544.1" r="2.6"/>
<circle cx="974.9" cy="554.9" r="2.6"/>
<circle cx="1045.6" cy="458.3" r="2.6"/>
<circle cx="954.2" cy="553.1" r="2.6"/>
<circle cx="1023.0" cy="515.7" r="2.6"/>
<circle cx="1069.3" cy="462.3" r="2.6"/>
<circle cx="998.1" cy="517.6" r="2.6"/>
<circle cx="1142.9" cy="416.5" r="2.6"/>
<circle cx="970.9" cy="555.5" r="2.6"/>
<circle cx="997.6" cy="521.3" r="2.6"/>
<circle cx="1032.3" cy="475.7" r="2.6"/>
<circle cx="955.3" cy="552.1" r="2.6"/>
<circle cx="974.4" cy="509.0" r="2.6"/>
<circle cx="1004.5" cy="514.7" r="2.6"/>
<circle cx="1041.1" cy="491.1" r="2.6"/>
<circle cx="1078.9" cy="447.9" r="2.6"/>
<circle cx="996.6" cy="519.4" r="2.6"/>
<circle cx="1036.4" cy="448.5" r="2.6"/>
<circle cx="1098.5" cy="461.8" r="2.6"/>
<circle cx="992.1" cy="507.2" r="2.6"/>
<circle cx="973.0" cy="533.8" r="2.6"/>
<circle cx="1024.4" cy="514.8" r="2.6"/>
<circle cx="1071.0" cy="442.5" r="2.6"/>
<circle cx="1095.6" cy="422.5" r="2.6"/>
<circle cx="943.1" cy="528.0" r="2.6"/>
<circle cx="1064.1" cy="467.6" r="2.6"/>
<circle cx="953.8" cy="540.3" r="2.6"/>
<circle cx="1060.4" cy="464.8" r="2.6"/>
<circle cx="1088.4" cy="466.1" r="2.6"/>
<circle cx="959.4" cy="546.4" r="2.6"/>
<circle cx="1014.6" cy="499.5" r="2.6"/>
<circle cx="944.1" cy="528.8" r="2.6"/>
<circle cx="1048.8" cy="483.9" r="2.6"/>
<circle cx="969.1" cy="530.1" r="2.6"/>
<circle cx="1026.4" cy="503.1" r="2.6"/>
<circle cx="1060.2" cy="473.5" r="2.6"/>
<circle cx="1013.1" cy="492.6" r="2.6"/>
<circle cx="1005.3" cy="525.4" r="2.6"/>
<circle cx="1053.8" cy="476.7" r="2.6"/>
<circle cx="1107.4" cy="419.4" r="2.6"/>
<circle cx="967.6" cy="548.5" r="2.6"/>
<circle cx="1023.5" cy="507.0" r="2.6"/>
<circle cx="959.7" cy="526.4" r="2.6"/>
<circle cx="996.7" cy="521.2" r="2.6"/>
<circle cx="1059.5" cy="452.7" r="2.6"/>
<circle cx="989.2" cy="529.9" r="2.6"/>
<circle cx="1035.4" cy="468.8" r="2.6"/>
<circle cx="977.3" cy="539.8" r="2.6"/>
<circle cx="1067.8" cy="459.1" r="2.6"/>
<circle cx="1008.1" cy="511.6" r="2.6"/>
<circle cx="1033.7" cy="489.9" r="2.6"/>
<circle cx="1055.3" cy="455.2" r="2.6"/>
<circle cx="969.2" cy="548.4" r="2.6"/>
<circle cx="951.2" cy="557.8" r="2.6"/>
<circle cx="1022.6" cy="449.2" r="2.6"/>
<circle cx="976.6" cy="537.1" r="2.6"/>
<circle cx="1015.4" cy="497.5" r="2.6"/>
<circle cx="1036.2" cy="471.7" r="2.6"/>
<circle cx="1137.5" cy="397.8" r="2.6"/>
<circle cx="969.9" cy="537.5" r="2.6"/>
<circle cx="1026.5" cy="468.1" r="2.6"/>
<circle cx="972.0" cy="545.5" r="2.6"/>
<circle cx="1009.2" cy="509.6" r="2.6"/>
<circle cx="1045.4" cy="441.7" r="2.6"/>
<circle cx="997.0" cy="471.0" r="2.6"/>
<circle cx="991.6" cy="503.7" r="2.6"/>
<circle cx="1028.0" cy="467.0" r="2.6"/>
<circle cx="1097.5" cy="425.3" r="2.6"/>
<circle cx="998.7" cy="531.3" r="2.6"/>
<circle cx="1068.4" cy="420.8" r="2.6"/>
<circle cx="968.6" cy="531.7" r="2.6"/>
<circle cx="1068.4" cy="475.8" r="2.6"/>
<circle cx="1031.5" cy="492.3" r="2.6"/>
<circle cx="1071.1" cy="475.5" r="2.6"/>
<circle cx="967.0" cy="519.4" r="2.6"/>
<circle cx="954.1" cy="544.8" r="2.6"/>
<circle cx="963.0" cy="514.0" r="2.6"/>
<circle cx="1050.0" cy="444.7" r="2.6"/>
<circle cx="1099.2" cy="432.7" r="2.6"/>
<circle cx="1030.8" cy="468.0" r="2.6"/>
<circle cx="1003.9" cy="471.5" r="2.6"/>
<circle cx="1047.2" cy="453.3" r="2.6"/>
<circle cx="940.1" cy="556.7" r="2.6"/>
<circle cx="1057.9" cy="455.4" r="2.6"/>
<circle cx="1033.0" cy="487.2" r="2.6"/>
<circle cx="940.5" cy="557.4" r="2.6"/>
<circle cx="1006.1" cy="469.9" r="2.6"/>
<circle cx="1093.1" cy="476.1" r="2.6"/>
<circle cx="931.6" cy="546.6" r="2.6"/>
<circle cx="969.2" cy="539.9" r="2.6"/>
<circle cx="950.3" cy="559.2" r="2.6"/>
<circle cx="1000.6" cy="528.2" r="2.6"/>
<circle cx="976.6" cy="520.9" r="2.6"/>
<circle cx="948.5" cy="562.9" r="2.6"/>
<circle cx="1011.2" cy="517.9" r="2.6"/>
<circle cx="1071.8" cy="465.0" r="2.6"/>
<circle cx="999.5" cy="512.7" r="2.6"/>
<circle cx="1040.9" cy="501.4" r="2.6"/>
<circle cx="1103.4" cy="437.1" r="2.6"/>
<circle cx="975.3" cy="520.4" r="2.6"/>
<circle cx="961.8" cy="546.8" r="2.6"/>
<circle cx="1076.4" cy="443.1" r="2.6"/>
<circle cx="1042.5" cy="456.0" r="2.6"/>
<circle cx="1064.7" cy="481.4" r="2.6"/>
<circle cx="995.4" cy="540.7" r="2.6"/>
<circle cx="1089.8" cy="420.8" r="2.6"/>
<circle cx="979.5" cy="532.3" r="2.6"/>
<circle cx="1094.4" cy="460.6" r="2.6"/>
<circle cx="1009.0" cy="523.7" r="2.6"/>
<circle cx="1011.8" cy="490.0" r="2.6"/>
<circle cx="987.0" cy="523.3" r="2.6"/>
<circle cx="1012.7" cy="510.7" r="2.6"/>
<circle cx="1064.5" cy="457.2" r="2.6"/>
<circle cx="1001.4" cy="515.4" r="2.6"/>
<circle cx="1107.5" cy="435.0" r="2.6"/>
<circle cx="1119.7" cy="417.9" r="2.6"/>
<circle cx="981.8" cy="547.6" r="2.6"/>
<circle cx="1033.6" cy="471.6" r="2.6"/>
<circle cx="1054.5" cy="480.9" r="2.6"/>
<circle cx="1095.3" cy="469.7" r="2.6"/>
<circle cx="1012.1" cy="533.3" r="2.6"/>
<circle cx="1006.7" cy="508.7" r="2.6"/>
<circle cx="950.5" cy="518.3" r="2.6"/>
<circle cx="1006.2" cy="508.5" r="2.6"/>
<circle cx="1067.6" cy="481.2" r="2.6"/>
<circle cx="1062.2" cy="471.5" r="2.6"/>
<circle cx="1014.5" cy="483.1" r="2.6"/>
<circle cx="1057.7" cy="489.3" r="2.6"/>
<circle cx="1023.6" cy="478.3" r="2.6"/>
<circle cx="947.8" cy="540.5" r="2.6"/>
<circle cx="928.2" cy="542.9" r="2.6"/>
<circle cx="973.3" cy="507.5" r="2.6"/>
<circle cx="1069.1" cy="476.6" r="2.6"/>
<circle cx="1152.2" cy="406.3" r="2.6"/>
<circle cx="972.1" cy="538.1" r="2.6"/>
<circle cx="1079.6" cy="418.2" r="2.6"/>
<circle cx="973.4" cy="542.8" r="2.6"/>
<circle cx="1036.8" cy="501.2" r="2.6"/>
<circle cx="1032.2" cy="492.4" r="2.6"/>
<circle cx="980.7" cy="493.9" r="2.6"/>
<circle cx="968.3" cy="521.6" r="2.6"/>
<circle cx="1012.4" cy="479.1" r="2.6"/>
<circle cx="997.1" cy="523.3" r="2.6"/>
<circle cx="1018.1" cy="517.2" r="2.6"/>
<circle cx="1023.8" cy="511.1" r="2.6"/>
<circle cx="936.4" cy="560.6" r="2.6"/>
<circle cx="1015.2" cy="495.8" r="2.6"/>
<circle cx="1033.3" cy="470.0" r="2.6"/>
<circle cx="1052.1" cy="503.8" r="2.6"/>
<circle cx="967.7" cy="527.0" r="2.6"/>
<circle cx="1087.6" cy="424.4" r="2.6"/>
<circle cx="1037.5" cy="462.0" r="2.6"/>
<circle cx="1075.7" cy="452.7" r="2.6"/>
<circle cx="1084.2" cy="459.5" r="2.6"/>
<circle cx="957.3" cy="523.6" r="2.6"/>
<circle cx="1088.7" cy="465.0" r="2.6"/>
<circle cx="1045.5" cy="424.6" r="2.6"/>
<circle cx="1073.4" cy="446.4" r="2.6"/>
<circle cx="1045.3" cy="461.6" r="2.6"/>
<circle cx="1112.8" cy="412.7" r="2.6"/>
<circle cx="1030.9" cy="491.4" r="2.6"/>
<circle cx="1021.4" cy="502.7" r="2.6"/>
<circle cx="947.8" cy="561.7" r="2.6"/>
<circle cx="1117.8" cy="427.6" r="2.6"/>
<circle cx="1055.2" cy="484.9" r="2.6"/>
<circle cx="936.5" cy="530.7" r="2.6"/>
<circle cx="1039.9" cy="500.0" r="2.6"/>
<circle cx="1072.6" cy="462.9" r="2.6"/>
<circle cx="1002.5" cy="485.7" r="2.6"/>
<circle cx="946.7" cy="558.3" r="2.6"/>
<circle cx="1061.2" cy="470.6" r="2.6"/>
<circle cx="960.5" cy="542.1" r="2.6"/>
<circle cx="972.5" cy="534.2" r="2.6"/>
<circle cx="1105.2" cy="420.2" r="2.6"/>
<circle cx="1084.2" cy="472.7" r="2.6"/>
<circle cx="1055.1" cy="476.9" r="2.6"/>
<circle cx="965.1" cy="537.9" r="2.6"/>
<circle cx="1035.5" cy="507.5" r="2.6"/>
<circle cx="1045.2" cy="435.2" r="2.6"/>
<circle cx="1048.0" cy="463.7" r="2.6"/>
<circle cx="1013.0" cy="519.6" r="2.6"/>
<circle cx="1075.6" cy="446.3" r="2.6"/>
<circle cx="1019.0" cy="489.0" r="2.6"/>
<circle cx="957.6" cy="532.1" r="2.6"/>
<circle cx="1070.5" cy="436.8" r="2.6"/>
<circle cx="1105.9" cy="434.1" r="2.6"/>
<circle cx="958.5" cy="555.5" r="2.6"/>
<circle cx="1007.4" cy="510.8" r="2.6"/>
<circle cx="1108.2" cy="436.9" r="2.6"/>
<circle cx="973.4" cy="539.7" r="2.6"/>
<circle cx="1061.1" cy="454.4" r="2.6"/>
<circle cx="1047.5" cy="484.2" r="2.6"/>
<circle cx="1113.5" cy="424.6" r="2.6"/>
<circle cx="987.0" cy="527.0" r="2.6"/>
<circle cx="1097.0" cy="455.7" r="2.6"/>
<circle cx="974.0" cy="499.9" r="2.6"/>
<circle cx="1083.8" cy="446.1" r="2.6"/>
<circle cx="1019.7" cy="469.8" r="2.6"/>
<circle cx="971.4" cy="530.0" r="2.6"/>
<circle cx="945.1" cy="562.9" r="2.6"/>
<circle cx="997.6" cy="535.0" r="2.6"/>
<circle cx="984.4" cy="531.2" r="2.6"/>
<circle cx="1078.5" cy="460.0" r="2.6"/>
<circle cx="1078.2" cy="436.2" r="2.6"/>
<circle cx="1071.5" cy="459.5" r="2.6"/>
<circle cx="966.3" cy="545.2" r="2.6"/>
<circle cx="1024.7" cy="510.9" r="2.6"/>
<circle cx="1036.5" cy="492.6" r="2.6"/>
<circle cx="991.9" cy="532.7" r="2.6"/>
<circle cx="950.1" cy="556.8" r="2.6"/>
<circle cx="1065.7" cy="461.0" r="2.6"/>
<circle cx="1154.1" cy="416.2" r="2.6"/>
<circle cx="1032.2" cy="492.1" r="2.6"/>
<circle cx="948.8" cy="560.8" r="2.6"/>
<circle cx="1002.0" cy="534.2" r="2.6"/>
<circle cx="1039.4" cy="486.1" r="2.6"/>
<circle cx="957.3" cy="562.1" r="2.6"/>
<circle cx="973.3" cy="554.0" r="2.6"/>
<circle cx="974.1" cy="537.8" r="2.6"/>
<circle cx="1000.1" cy="523.2" r="2.6"/>
<circle cx="961.8" cy="542.1" r="2.6"/>
<circle cx="1016.7" cy="482.6" r="2.6"/>
<circle cx="992.3" cy="537.7" r="2.6"/>
<circle cx="954.4" cy="526.6" r="2.6"/>
<circle cx="1060.0" cy="461.5" r="2.6"/>
<circle cx="1049.1" cy="466.2" r="2.6"/>
<circle cx="1010.3" cy="472.6" r="2.6"/>
<circle cx="1049.7" cy="446.2" r="2.6"/>
<circle cx="969.7" cy="547.1" r="2.6"/>
<circle cx="991.2" cy="472.7" r="2.6"/>
<circle cx="984.4" cy="528.4" r="2.6"/>
<circle cx="991.3" cy="533.6" r="2.6"/>
<circle cx="1033.2" cy="512.0" r="2.6"/>
<circle cx="1120.9" cy="437.8" r="2.6"/>
<circle cx="997.0" cy="539.1" r="2.6"/>
<circle cx="1029.7" cy="522.1" r="2.6"/>
<circle cx="959.0" cy="552.3" r="2.6"/>
<circle cx="1078.7" cy="473.3" r="2.6"/>
<circle cx="965.7" cy="544.5" r="2.6"/>
<circle cx="982.0" cy="499.7" r="2.6"/>
<circle cx="1049.6" cy="463.0" r="2.6"/>
<circle cx="964.8" cy="555.1" r="2.6"/>
<circle cx="1114.6" cy="447.4" r="2.6"/>
<circle cx="965.0" cy="552.1" r="2.6"/>
<circle cx="1026.4" cy="521.6" r="2.6"/>
<circle cx="970.9" cy="533.5" r="2.6"/>
<circle cx="1054.4" cy="475.5" r="2.6"/>
<circle cx="1087.9" cy="445.4" r="2.6"/>
<circle cx="1029.8" cy="473.3" r="2.6"/>
<circle cx="1003.1" cy="474.6" r="2.6"/>
<circle cx="1005.1" cy="514.2" r="2.6"/>
<circle cx="1046.6" cy="439.3" r="2.6"/>
<circle cx="1029.0" cy="493.3" r="2.6"/>
<circle cx="1056.2" cy="489.7" r="2.6"/>
<circle cx="1081.1" cy="455.2" r="2.6"/>
<circle cx="1077.0" cy="465.3" r="2.6"/>
<circle cx="991.7" cy="511.5" r="2.6"/>
<circle cx="1001.3" cy="525.0" r="2.6"/>
<circle cx="1099.6" cy="443.1" r="2.6"/>
<circle cx="1062.4" cy="475.5" r="2.6"/>
<circle cx="1041.1" cy="498.4" r="2.6"/>
<circle cx="956.6" cy="550.9" r="2.6"/>
<circle cx="1014.2" cy="477.3" r="2.6"/>
<circle cx="1114.9" cy="429.1" r="2.6"/>
<circle cx="1006.9" cy="503.5" r="2.6"/>
<circle cx="1021.4" cy="512.5" r="2.6"/>
<circle cx="995.1" cy="534.9" r="2.6"/>
<circle cx="1028.8" cy="503.4" r="2.6"/>
<circle cx="957.4" cy="555.2" r="2.6"/>
<circle cx="1120.0" cy="439.7" r="2.6"/>
<circle cx="999.6" cy="541.0" r="2.6"/>
<circle cx="1037.7" cy="465.9" r="2.6"/>
<circle cx="998.3" cy="527.6" r="2.6"/>
<circle cx="950.4" cy="537.1" r="2.6"/>
<circle cx="1051.1" cy="483.9" r="2.6"/>
<circle cx="1044.4" cy="483.6" r="2.6"/>
<circle cx="1139.4" cy="400.6" r="2.6"/>
<circle cx="982.8" cy="512.8" r="2.6"/>
<circle cx="1078.0" cy="473.2" r="2.6"/>
<circle cx="1114.4" cy="428.0" r="2.6"/>
<circle cx="1052.1" cy="431.0" r="2.6"/>
<circle cx="1111.4" cy="436.6" r="2.6"/>
<circle cx="947.1" cy="543.4" r="2.6"/>
<circle cx="970.4" cy="547.0" r="2.6"/>
<circle cx="931.3" cy="536.7" r="2.6"/>
<circle cx="1074.1" cy="464.9" r="2.6"/>
<circle cx="988.2" cy="538.2" r="2.6"/>
<circle cx="1068.5" cy="429.6" r="2.6"/>
<circle cx="1017.4" cy="511.9" r="2.6"/>
<circle cx="971.9" cy="536.9" r="2.6"/>
<circle cx="1104.1" cy="426.6" r="2.6"/>
<circle cx="966.2" cy="521.7" r="2.6"/>
<circle cx="1011.4" cy="474.1" r="2.6"/>
<circle cx="976.2" cy="542.0" r="2.6"/>
<circle cx="1029.9" cy="496.3" r="2.6"/>
<circle cx="1070.6" cy="488.1" r="2.6"/>
<circle cx="1004.3" cy="503.5" r="2.6"/>
<circle cx="1033.2" cy="509.6" r="2.6"/>
<circle cx="1107.6" cy="458.2" r="2.6"/>
<circle cx="950.8" cy="516.1" r="2.6"/>
<circle cx="1027.4" cy="495.8" r="2.6"/>
<circle cx="1058.2" cy="474.6" r="2.6"/>
<circle cx="943.1" cy="540.7" r="2.6"/>
<circle cx="972.8" cy="544.1" r="2.6"/>
<circle cx="964.9" cy="529.5" r="2.6"/>
<circle cx="963.1" cy="526.1" r="2.6"/>
<circle cx="992.5" cy="504.9" r="2.6"/>
<circle cx="1007.3" cy="518.7" r="2.6"/>
<circle cx="1025.7" cy="509.5" r="2.6"/>
<circle cx="1077.9" cy="472.2" r="2.6"/>
<circle cx="1064.7" cy="478.9" r="2.6"/>
<circle cx="973.5" cy="549.6" r="2.6"/>
<circle cx="1053.3" cy="453.1" r="2.6"/>
<circle cx="1068.7" cy="466.5" r="2.6"/>
<circle cx="1050.8" cy="478.8" r="2.6"/>
<circle cx="988.2" cy="504.0" r="2.6"/>
<circle cx="976.4" cy="518.2" r="2.6"/>
<circle cx="1093.1" cy="469.2" r="2.6"/>
<circle cx="1042.7" cy="460.7" r="2.6"/>
<circle cx="994.5" cy="513.5" r="2.6"/>
<circle cx="1102.9" cy="446.2" r="2.6"/>
<circle cx="997.2" cy="505.7" r="2.6"/>
<circle cx="1037.0" cy="450.9" r="2.6"/>
<circle cx="1014.8" cy="465.0" r="2.6"/>
<circle cx="966.4" cy="532.7" r="2.6"/>
<circle cx="987.1" cy="511.7" r="2.6"/>
<circle cx="986.9" cy="527.4" r="2.6"/>
<circle cx="1022.1" cy="499.4" r="2.6"/>
<circle cx="955.6" cy="510.1" r="2.6"/>
<circle cx="1084.9" cy="439.7" r="2.6"/>
<circle cx="961.0" cy="533.6" r="2.6"/>
<circle cx="1028.0" cy="432.5" r="2.6"/>
<circle cx="982.3" cy="543.3" r="2.6"/>
<circle cx="1024.4" cy="500.7" r="2.6"/>
<circle cx="1054.9" cy="450.2" r="2.6"/>
<circle cx="981.7" cy="540.4" r="2.6"/>
<circle cx="1066.9" cy="433.6" r="2.6"/>
<circle cx="1014.5" cy="518.0" r="2.6"/>
<circle cx="1076.2" cy="453.9" r="2.6"/>
<circle cx="1121.1" cy="423.9" r="2.6"/>
<circle cx="1096.2" cy="436.9" r="2.6"/>
<circle cx="1004.7" cy="515.7" r="2.6"/>
<circle cx="977.5" cy="545.2" r="2.6"/>
<circle cx="989.0" cy="534.9" r="2.6"/>
<circle cx="1093.5" cy="413.3" r="2.6"/>
<circle cx="1087.7" cy="445.9" r="2.6"/>
<circle cx="951.2" cy="536.8" r="2.6"/>
<circle cx="1010.5" cy="517.6" r="2.6"/>
<circle cx="1076.7" cy="460.8" r="2.6"/>
<circle cx="1060.1" cy="480.1" r="2.6"/>
<circle cx="1124.9" cy="416.4" r="2.6"/>
<circle cx="965.4" cy="531.6" r="2.6"/>
<circle cx="1029.6" cy="514.7" r="2.6"/>
<circle cx="975.4" cy="536.3" r="2.6"/>
<circle cx="1069.3" cy="481.6" r="2.6"/>
<circle cx="1091.9" cy="456.1" r="2.6"/>
<circle cx="1043.5" cy="487.3" r="2.6"/>
<circle cx="950.8" cy="525.3" r="2.6"/>
<circle cx="965.1" cy="523.0" r="2.6"/>
<circle cx="1099.6" cy="444.8" r="2.6"/>
<circle cx="986.9" cy="529.1" r="2.6"/>
<circle cx="1134.1" cy="429.2" r="2.6"/>
<circle cx="1087.7" cy="430.4" r="2.6"/>
<circle cx="1016.2" cy="515.6" r="2.6"/>
<circle cx="1003.0" cy="463.3" r="2.6"/>
<circle cx="936.4" cy="538.8" r="2.6"/>
<circle cx="1002.1" cy="522.8" r="2.6"/>
<circle cx="1066.4" cy="482.1" r="2.6"/>
<circle cx="983.1" cy="530.3" r="2.6"/>
<circle cx="1105.2" cy="436.1" r="2.6"/>
<circle cx="1084.4" cy="458.5" r="2.6"/>
<circle cx="1077.0" cy="471.0" r="2.6"/>
<circle cx="989.5" cy="525.8" r="2.6"/>
<circle cx="1054.2" cy="440.1" r="2.6"/>
<circle cx="1007.6" cy="477.7" r="2.6"/>
<circle cx="1054.6" cy="441.6" r="2.6"/>
<circle cx="1018.7" cy="516.8" r="2.6"/>
<circle cx="957.2" cy="548.0" r="2.6"/>
<circle cx="1129.1" cy="408.4" r="2.6"/>
<circle cx="1032.7" cy="455.0" r="2.6"/>
<circle cx="941.9" cy="525.7" r="2.6"/>
<circle cx="1033.2" cy="515.0" r="2.6"/>
<circle cx="1030.2" cy="457.4" r="2.6"/>
<circle cx="1010.1" cy="497.7" r="2.6"/>
<circle cx="961.8" cy="553.3" r="2.6"/>
<circle cx="1005.1" cy="510.3" r="2.6"/>
<circle cx="1023.7" cy="475.7" r="2.6"/>
<circle cx="972.7" cy="537.9" r="2.6"/>
<circle cx="1014.9" cy="470.6" r="2.6"/>
<circle cx="1115.7" cy="409.1" r="2.6"/>
<circle cx="944.7" cy="542.1" r="2.6"/>
<circle cx="999.6" cy="484.8" r="2.6"/>
<circle cx="944.9" cy="524.8" r="2.6"/>
<circle cx="991.0" cy="531.3" r="2.6"/>
<circle cx="1104.1" cy="438.4" r="2.6"/>
<circle cx="1006.0" cy="512.8" r="2.6"/>
<circle cx="1089.2" cy="426.1" r="2.6"/>
<circle cx="1031.1" cy="483.5" r="2.6"/>
<circle cx="1035.2" cy="503.9" r="2.6"/>
<circle cx="1100.3" cy="448.5" r="2.6"/>
<circle cx="1081.3" cy="454.9" r="2.6"/>
<circle cx="1126.6" cy="443.9" r="2.6"/>
<circle cx="1021.0" cy="507.5" r="2.6"/>
<circle cx="947.2" cy="538.9" r="2.6"/>
<circle cx="1095.7" cy="446.4" r="2.6"/>
<circle cx="1067.7" cy="452.9" r="2.6"/>
<circle cx="1050.7" cy="465.6" r="2.6"/>
<circle cx="1059.1" cy="483.4" r="2.6"/>
<circle cx="1028.9" cy="497.9" r="2.6"/>
<circle cx="1092.4" cy="449.0" r="2.6"/>
<circle cx="1071.3" cy="446.4" r="2.6"/>
<circle cx="999.4" cy="517.3" r="2.6"/>
<circle cx="1052.5" cy="476.9" r="2.6"/>
<circle cx="1031.7" cy="470.8" r="2.6"/>
<circle cx="1077.6" cy="458.2" r="2.6"/>
<circle cx="1144.5" cy="416.5" r="2.6"/>
<circle cx="1033.0" cy="504.2" r="2.6"/>
<circle cx="982.2" cy="522.9" r="2.6"/>
<circle cx="973.2" cy="551.2" r="2.6"/>
<circle cx="939.1" cy="561.2" r="2.6"/>
<circle cx="1061.9" cy="470.5" r="2.6"/>
<circle cx="1053.5" cy="486.4" r="2.6"/>
<circle cx="1078.7" cy="479.9" r="2.6"/>
<circle cx="968.6" cy="549.9" r="2.6"/>
<circle cx="997.1" cy="489.1" r="2.6"/>
<circle cx="1014.9" cy="516.2" r="2.6"/>
<circle cx="1056.5" cy="481.5" r="2.6"/>
<circle cx="1093.6" cy="455.7" r="2.6"/>
<circle cx="1065.7" cy="446.9" r="2.6"/>
<circle cx="983.9" cy="543.3" r="2.6"/>
<circle cx="946.2" cy="528.7" r="2.6"/>
<circle cx="1032.5" cy="462.9" r="2.6"/>
<circle cx="948.0" cy="557.0" r="2.6"/>
<circle cx="946.1" cy="561.1" r="2.6"/>
<circle cx="987.6" cy="495.7" r="2.6"/>
<circle cx="1020.5" cy="520.1" r="2.6"/>
<circle cx="977.0" cy="534.1" r="2.6"/>
<circle cx="995.5" cy="496.9" r="2.6"/>
<circle cx="953.0" cy="521.5" r="2.6"/>
<circle cx="1025.6" cy="477.9" r="2.6"/>
<circle cx="995.2" cy="525.7" r="2.6"/>
<circle cx="1144.4" cy="411.6" r="2.6"/>
<circle cx="966.6" cy="519.7" r="2.6"/>
<circle cx="1034.1" cy="501.1" r="2.6"/>
<circle cx="1014.9" cy="504.9" r="2.6"/>
<circle cx="971.7" cy="544.4" r="2.6"/>
<circle cx="1004.5" cy="471.0" r="2.6"/>
<circle cx="1009.9" cy="520.4" r="2.6"/>
<circle cx="949.9" cy="520.3" r="2.6"/>
<circle cx="1036.3" cy="496.0" r="2.6"/>
<circle cx="1107.5" cy="448.0" r="2.6"/>
<circle cx="1087.3" cy="465.0" r="2.6"/>
<circle cx="998.8" cy="519.3" r="2.6"/>
<circle cx="1004.6" cy="489.6" r="2.6"/>
<circle cx="957.5" cy="546.1" r="2.6"/>
<circle cx="1019.4" cy="512.0" r="2.6"/>
<circle cx="944.7" cy="551.2" r="2.6"/>
<circle cx="1070.4" cy="449.7" r="2.6"/>
<circle cx="963.0" cy="556.3" r="2.6"/>
<circle cx="976.3" cy="542.9" r="2.6"/>
<circle cx="990.2" cy="512.6" r="2.6"/>
<circle cx="993.9" cy="521.2" r="2.6"/>
<circle cx="1147.0" cy="430.9" r="2.6"/>
<circle cx="1113.2" cy="435.8" r="2.6"/>
<circle cx="991.4" cy="518.0" r="2.6"/>
<circle cx="1098.9" cy="452.8" r="2.6"/>
<circle cx="1049.4" cy="493.1" r="2.6"/>
<circle cx="1032.1" cy="516.6" r="2.6"/>
<circle cx="1046.4" cy="447.6" r="2.6"/>
<circle cx="1044.5" cy="464.3" r="2.6"/>
<circle cx="1045.6" cy="496.6" r="2.6"/>
<circle cx="947.7" cy="534.0" r="2.6"/>
<circle cx="1081.0" cy="435.9" r="2.6"/>
<circle cx="1078.7" cy="443.6" r="2.6"/>
<circle cx="989.2" cy="526.9" r="2.6"/>
<circle cx="955.4" cy="539.8" r="2.6"/>
<circle cx="951.2" cy="555.2" r="2.6"/>
<circle cx="1064.8" cy="430.8" r="2.6"/>
<circle cx="1041.2" cy="488.9" r="2.6"/>
<circle cx="1021.3" cy="480.8" r="2.6"/>
<circle cx="1112.6" cy="417.2" r="2.6"/>
<circle cx="1041.8" cy="493.5" r="2.6"/>
<circle cx="1042.9" cy="500.1" r="2.6"/>
<circle cx="1045.3" cy="495.1" r="2.6"/>
<circle cx="1082.5" cy="451.5" r="2.6"/>
<circle cx="1072.4" cy="446.0" r="2.6"/>
<circle cx="989.2" cy="536.1" r="2.6"/>
<circle cx="1001.7" cy="511.7" r="2.6"/>
<circle cx="1035.6" cy="489.8" r="2.6"/>
<circle cx="991.9" cy="542.3" r="2.6"/>
<circle cx="1017.6" cy="449.4" r="2.6"/>
<circle cx="1014.0" cy="511.1" r="2.6"/>
<circle cx="1112.4" cy="455.7" r="2.6"/>
<circle cx="1000.0" cy="520.2" r="2.6"/>
<circle cx="988.6" cy="512.7" r="2.6"/>
<circle cx="1081.6" cy="451.3" r="2.6"/>
<circle cx="1007.7" cy="513.4" r="2.6"/>
<circle cx="1040.0" cy="504.8" r="2.6"/>
<circle cx="991.0" cy="488.9" r="2.6"/>
<circle cx="962.8" cy="551.0" r="2.6"/>
<circle cx="1110.1" cy="413.8" r="2.6"/>
<circle cx="1010.0" cy="518.7" r="2.6"/>
<circle cx="975.9" cy="537.9" r="2.6"/>
<circle cx="988.7" cy="535.9" r="2.6"/>
<circle cx="1072.5" cy="425.1" r="2.6"/>
<circle cx="1054.6" cy="479.1" r="2.6"/>
<circle cx="1032.3" cy="494.3" r="2.6"/>
<circle cx="1065.6" cy="412.0" r="2.6"/>
<circle cx="994.4" cy="510.0" r="2.6"/>
<circle cx="1028.5" cy="457.6" r="2.6"/>
<circle cx="1104.7" cy="443.0" r="2.6"/>
<circle cx="1009.0" cy="525.1" r="2.6"/>
<circle cx="1027.3" cy="509.5" r="2.6"/>
<circle cx="1004.2" cy="515.6" r="2.6"/>
<circle cx="995.5" cy="540.9" r="2.6"/>
<circle cx="1078.1" cy="472.6" r="2.6"/>
<circle cx="1036.3" cy="457.0" r="2.6"/>
<circle cx="1006.9" cy="518.5" r="2.6"/>
<circle cx="1022.5" cy="504.4" r="2.6"/>
<circle cx="1053.1" cy="483.3" r="2.6"/>
<circle cx="985.6" cy="539.9" r="2.6"/>
<circle cx="1048.0" cy="442.5" r="2.6"/>
<circle cx="993.7" cy="488.8" r="2.6"/>
<circle cx="1050.1" cy="489.9" r="2.6"/>
<circle cx="1040.3" cy="457.9" r="2.6"/>
<circle cx="1036.5" cy="447.1" r="2.6"/>
<circle cx="946.9" cy="542.1" r="2.6"/>
<circle cx="980.9" cy="546.1" r="2.6"/>
<circle cx="1003.9" cy="503.3" r="2.6"/>
<circle cx="990.0" cy="530.9" r="2.6"/>
<circle cx="983.8" cy="526.1" r="2.6"/>
<circle cx="1092.4" cy="429.4" r="2.6"/>
<circle cx="998.4" cy="510.1" r="2.6"/>
<circle cx="1044.7" cy="482.7" r="2.6"/>
<circle cx="1013.8" cy="516.4" r="2.6"/>
<circle cx="1031.1" cy="486.6" r="2.6"/>
<circle cx="1004.0" cy="510.4" r="2.6"/>
<circle cx="1078.7" cy="433.3" r="2.6"/>
<circle cx="964.8" cy="544.8" r="2.6"/>
<circle cx="1048.6" cy="472.9" r="2.6"/>
<circle cx="927.9" cy="529.9" r="2.6"/>
<circle cx="1006.5" cy="512.6" r="2.6"/>
<circle cx="1022.3" cy="444.8" r="2.6"/>
<circle cx="1035.3" cy="494.8" r="2.6"/>
<circle cx="1024.7" cy="504.1" r="2.6"/>
<circle cx="977.5" cy="502.2" r="2.6"/>
<circle cx="1124.3" cy="427.9" r="2.6"/>
<circle cx="942.1" cy="537.7" r="2.6"/>
<circle cx="1096.6" cy="445.4" r="2.6"/>
<circle cx="1034.5" cy="438.7" r="2.6"/>
<circle cx="1014.2" cy="471.1" r="2.6"/>
<circle cx="1082.2" cy="463.9" r="2.6"/>
<circle cx="927.1" cy="528.7" r="2.6"/>
<circle cx="1006.7" cy="515.6" r="2.6"/>
<circle cx="956.2" cy="534.0" r="2.6"/>
<circle cx="965.7" cy="542.8" r="2.6"/>
<circle cx="987.7" cy="531.7" r="2.6"/>
<circle cx="1094.0" cy="434.2" r="2.6"/>
<circle cx="992.7" cy="504.2" r="2.6"/>
<circle cx="1025.6" cy="433.6" r="2.6"/>
<circle cx="978.0" cy="538.2" r="2.6"/>
<circle cx="1089.1" cy="448.0" r="2.6"/>
<circle cx="1018.2" cy="439.3" r="2.6"/>
<circle cx="1016.0" cy="525.1" r="2.6"/>
<circle cx="1052.5" cy="490.4" r="2.6"/>
<circle cx="1122.0" cy="451.1" r="2.6"/>
<circle cx="1016.9" cy="515.0" r="2.6"/>
<circle cx="1035.6" cy="477.1" r="2.6"/>
<circle cx="940.1" cy="561.9" r="2.6"/>
<circle cx="950.1" cy="520.8" r="2.6"/>
<circle cx="948.6" cy="551.6" r="2.6"/>
<circle cx="1000.7" cy="517.2" r="2.6"/>
<circle cx="1039.2" cy="484.0" r="2.6"/>
<circle cx="954.9" cy="523.9" r="2.6"/>
<circle cx="1052.8" cy="434.3" r="2.6"/>
<circle cx="995.5" cy="500.9" r="2.6"/>
<circle cx="1118.3" cy="404.5" r="2.6"/>
<circle cx="1032.4" cy="495.7" r="2.6"/>
<circle cx="1070.7" cy="467.6" r="2.6"/>
<circle cx="1123.9" cy="429.3" r="2.6"/>
<circle cx="1105.9" cy="447.3" r="2.6"/>
<circle cx="1065.4" cy="477.3" r="2.6"/>
<circle cx="999.3" cy="491.4" r="2.6"/>
<circle cx="987.7" cy="534.6" r="2.6"/>
<circle cx="1128.2" cy="396.6" r="2.6"/>
<circle cx="949.3" cy="545.7" r="2.6"/>
<circle cx="984.6" cy="524.1" r="2.6"/>
<circle cx="1055.8" cy="483.0" r="2.6"/>
<circle cx="942.6" cy="560.7" r="2.6"/>
<circle cx="956.3" cy="529.1" r="2.6"/>
<circle cx="1084.8" cy="466.8" r="2.6"/>
<circle cx="1060.4" cy="460.5" r="2.6"/>
<circle cx="969.8" cy="519.4" r="2.6"/>
<circle cx="957.5" cy="559.0" r="2.6"/>
<circle cx="946.2" cy="556.0" r="2.6"/>
<circle cx="975.5" cy="520.7" r="2.6"/>
<circle cx="962.5" cy="550.1" r="2.6"/>
<circle cx="1039.0" cy="507.9" r="2.6"/>
<circle cx="1050.2" cy="464.3" r="2.6"/>
<circle cx="1118.7" cy="412.0" r="2.6"/>
<circle cx="1075.1" cy="438.0" r="2.6"/>
<circle cx="1029.6" cy="451.9" r="2.6"/>
<circle cx="968.0" cy="555.5" r="2.6"/>
<circle cx="1021.1" cy="506.4" r="2.6"/>
<circle cx="971.9" cy="502.2" r="2.6"/>
<circle cx="1040.5" cy="459.0" r="2.6"/>
<circle cx="990.4" cy="509.5" r="2.6"/>
<circle cx="956.0" cy="553.7" r="2.6"/>
<circle cx="998.4" cy="513.1" r="2.6"/>
<circle cx="1036.2" cy="458.3" r="2.6"/>
<circle cx="1034.0" cy="476.7" r="2.6"/>
<circle cx="1034.4" cy="501.7" r="2.6"/>
<circle cx="1010.8" cy="510.7" r="2.6"/>
<circle cx="1062.4" cy="491.0" r="2.6"/>
<circle cx="1007.1" cy="511.2" r="2.6"/>
<circle cx="1050.9" cy="478.5" r="2.6"/>
<circle cx="1033.4" cy="491.6" r="2.6"/>
<circle cx="1009.4" cy="510.1" r="2.6"/>
<circle cx="1009.0" cy="499.9" r="2.6"/>
<circle cx="1151.0" cy="379.4" r="2.6"/>
<circle cx="1109.0" cy="429.2" r="2.6"/>
<circle cx="1038.2" cy="493.3" r="2.6"/>
<circle cx="984.4" cy="541.7" r="2.6"/>
<circle cx="997.8" cy="460.8" r="2.6"/>
<circle cx="988.4" cy="527.8" r="2.6"/>
<circle cx="1000.5" cy="497.1" r="2.6"/>
<circle cx="1055.6" cy="456.7" r="2.6"/>
<circle cx="1129.6" cy="403.9" r="2.6"/>
<circle cx="1042.0" cy="448.4" r="2.6"/>
<circle cx="1053.1" cy="498.5" r="2.6"/>
<circle cx="955.9" cy="561.0" r="2.6"/>
<circle cx="984.5" cy="491.9" r="2.6"/>
<circle cx="1140.8" cy="398.9" r="2.6"/>
<circle cx="1026.8" cy="480.8" r="2.6"/>
<circle cx="1046.6" cy="488.2" r="2.6"/>
<circle cx="980.8" cy="496.1" r="2.6"/>
<circle cx="963.0" cy="554.6" r="2.6"/>
<circle cx="954.1" cy="539.9" r="2.6"/>
<circle cx="1062.5" cy="439.5" r="2.6"/>
<circle cx="980.2" cy="497.4" r="2.6"/>
<circle cx="1107.2" cy="440.0" r="2.6"/>
<circle cx="1014.1" cy="510.0" r="2.6"/>
<circle cx="947.2" cy="562.5" r="2.6"/>
<circle cx="1002.7" cy="515.0" r="2.6"/>
<circle cx="977.4" cy="507.7" r="2.6"/>
<circle cx="1113.3" cy="425.3" r="2.6"/>
<circle cx="1060.2" cy="471.6" r="2.6"/>
<circle cx="1054.5" cy="483.7" r="2.6"/>
<circle cx="1000.7" cy="497.1" r="2.6"/>
<circle cx="1056.7" cy="449.4" r="2.6"/>
<circle cx="1058.1" cy="481.2" r="2.6"/>
<circle cx="1035.9" cy="494.1" r="2.6"/>
<circle cx="974.9" cy="501.4" r="2.6"/>
<circle cx="1016.1" cy="501.1" r="2.6"/>
<circle cx="1010.5" cy="523.5" r="2.6"/>
<circle cx="923.3" cy="522.0" r="2.6"/>
<circle cx="1052.3" cy="464.2" r="2.6"/>
<circle cx="1054.8" cy="454.5" r="2.6"/>
<circle cx="969.9" cy="514.6" r="2.6"/>
<circle cx="981.7" cy="526.8" r="2.6"/>
<circle cx="1043.7" cy="432.1" r="2.6"/>
<circle cx="986.9" cy="544.8" r="2.6"/>
<circle cx="1013.8" cy="521.9" r="2.6"/>
<circle cx="971.9" cy="543.4" r="2.6"/>
<circle cx="1079.2" cy="459.3" r="2.6"/>
<circle cx="962.0" cy="523.5" r="2.6"/>
<circle cx="1049.8" cy="490.6" r="2.6"/>
<circle cx="1040.1" cy="435.8" r="2.6"/>
<circle cx="1021.4" cy="500.6" r="2.6"/>
<circle cx="989.1" cy="511.3" r="2.6"/>
<circle cx="950.9" cy="544.3" r="2.6"/>
<circle cx="1038.7" cy="464.7" r="2.6"/>
<circle cx="1001.1" cy="501.3" r="2.6"/>
<circle cx="992.5" cy="522.4" r="2.6"/>
<circle cx="1033.5" cy="479.9" r="2.6"/>
<circle cx="1095.4" cy="445.5" r="2.6"/>
<circle cx="993.3" cy="526.5" r="2.6"/>
<circle cx="979.6" cy="521.2" r="2.6"/>
<circle cx="1062.5" cy="489.5" r="2.6"/>
<circle cx="1079.2" cy="453.6" r="2.6"/>
<circle cx="1040.0" cy="489.2" r="2.6"/>
<circle cx="1073.7" cy="461.9" r="2.6"/>
<circle cx="978.8" cy="534.8" r="2.6"/>
<circle cx="1051.2" cy="457.0" r="2.6"/>
<circle cx="946.3" cy="534.4" r="2.6"/>
<circle cx="990.6" cy="525.3" r="2.6"/>
<circle cx="1060.0" cy="458.0" r="2.6"/>
<circle cx="1128.5" cy="424.5" r="2.6"/>
<circle cx="1053.0" cy="442.1" r="2.6"/>
<circle cx="1077.3" cy="481.2" r="2.6"/>
<circle cx="984.7" cy="485.0" r="2.6"/>
<circle cx="977.1" cy="498.1" r="2.6"/>
<circle cx="1040.3" cy="487.0" r="2.6"/>
<circle cx="1054.1" cy="455.2" r="2.6"/>
<circle cx="956.7" cy="529.8" r="2.6"/>
<circle cx="936.1" cy="567.0" r="2.6"/>
<circle cx="1113.1" cy="424.0" r="2.6"/>
<circle cx="1009.9" cy="510.8" r="2.6"/>
<circle cx="1032.3" cy="503.3" r="2.6"/>
<circle cx="1032.0" cy="479.3" r="2.6"/>
<circle cx="1031.0" cy="484.2" r="2.6"/>
<circle cx="952.4" cy="541.8" r="2.6"/>
<circle cx="1007.9" cy="452.6" r="2.6"/>
<circle cx="1006.6" cy="519.5" r="2.6"/>
<circle cx="976.6" cy="519.5" r="2.6"/>
<circle cx="1089.8" cy="422.5" r="2.6"/>
<circle cx="1078.1" cy="423.5" r="2.6"/>
<circle cx="938.9" cy="559.3" r="2.6"/>
<circle cx="1100.2" cy="407.6" r="2.6"/>
<circle cx="997.7" cy="532.1" r="2.6"/>
<circle cx="1146.0" cy="409.7" r="2.6"/>
<circle cx="1035.3" cy="502.8" r="2.6"/>
<circle cx="1028.6" cy="496.9" r="2.6"/>
<circle cx="1072.0" cy="458.6" r="2.6"/>
<circle cx="969.9" cy="522.5" r="2.6"/>
<circle cx="999.2" cy="510.4" r="2.6"/>
<circle cx="1086.2" cy="439.8" r="2.6"/>
<circle cx="978.1" cy="516.0" r="2.6"/>
<circle cx="1102.0" cy="463.4" r="2.6"/>
<circle cx="997.2" cy="542.4" r="2.6"/>
<circle cx="1004.5" cy="514.5" r="2.6"/>
<circle cx="981.5" cy="542.3" r="2.6"/>
<circle cx="933.9" cy="512.1" r="2.6"/>
<circle cx="1047.7" cy="479.3" r="2.6"/>
<circle cx="971.6" cy="523.5" r="2.6"/>
<circle cx="1018.0" cy="487.0" r="2.6"/>
<circle cx="1004.3" cy="523.8" r="2.6"/>
<circle cx="972.2" cy="528.4" r="2.6"/>
<circle cx="1069.3" cy="448.0" r="2.6"/>
<circle cx="1013.7" cy="510.4" r="2.6"/>
<circle cx="985.5" cy="497.1" r="2.6"/>
<circle cx="959.8" cy="553.4" r="2.6"/>
<circle cx="981.1" cy="529.1" r="2.6"/>
<circle cx="1127.6" cy="436.7" r="2.6"/>
<circle cx="1081.1" cy="436.6" r="2.6"/>
<circle cx="974.4" cy="500.8" r="2.6"/>
<circle cx="993.2" cy="523.9" r="2.6"/>
<circle cx="1133.5" cy="395.6" r="2.6"/>
<circle cx="1128.9" cy="433.5" r="2.6"/>
<circle cx="1080.0" cy="465.5" r="2.6"/>
<circle cx="1038.8" cy="511.4" r="2.6"/>
<circle cx="1026.0" cy="435.8" r="2.6"/>
<circle cx="1056.9" cy="483.5" r="2.6"/>
<circle cx="1103.2" cy="423.0" r="2.6"/>
<circle cx="1036.8" cy="496.0" r="2.6"/>
<circle cx="1082.8" cy="461.7" r="2.6"/>
<circle cx="968.2" cy="551.5" r="2.6"/>
<circle cx="1006.6" cy="496.3" r="2.6"/>
<circle cx="978.5" cy="514.9" r="2.6"/>
<circle cx="1000.3" cy="519.4" r="2.6"/>
<circle cx="982.7" cy="510.0" r="2.6"/>
<circle cx="1092.9" cy="433.7" r="2.6"/>
<circle cx="980.3" cy="543.4" r="2.6"/>
<circle cx="983.4" cy="542.2" r="2.6"/>
<circle cx="1139.3" cy="418.0" r="2.6"/>
<circle cx="1016.1" cy="487.2" r="2.6"/>
<circle cx="995.7" cy="525.2" r="2.6"/>
<circle cx="1053.1" cy="488.5" r="2.6"/>
<circle cx="1008.4" cy="516.1" r="2.6"/>
<circle cx="1112.6" cy="459.8" r="2.6"/>
<circle cx="933.0" cy="541.5" r="2.6"/>
<circle cx="982.7" cy="533.5" r="2.6"/>
<circle cx="1131.4" cy="418.5" r="2.6"/>
<circle cx="1080.2" cy="446.5" r="2.6"/>
<circle cx="1052.6" cy="486.0" r="2.6"/>
<circle cx="1074.9" cy="458.9" r="2.6"/>
<circle cx="993.4" cy="528.2" r="2.6"/>
<circle cx="990.5" cy="472.9" r="2.6"/>
<circle cx="1090.3" cy="456.9" r="2.6"/>
<circle cx="1011.4" cy="509.2" r="2.6"/>
<circle cx="1083.8" cy="423.9" r="2.6"/>
<circle cx="976.0" cy="536.7" r="2.6"/>
<circle cx="976.7" cy="534.2" r="2.6"/>
<circle cx="1035.8" cy="475.2" r="2.6"/>
<circle cx="973.7" cy="506.7" r="2.6"/>
<circle cx="1061.3" cy="483.3" r="2.6"/>
<circle cx="970.6" cy="539.7" r="2.6"/>
<circle cx="1065.2" cy="466.4" r="2.6"/>
<circle cx="1003.0" cy="519.2" r="2.6"/>
<circle cx="999.4" cy="502.9" r="2.6"/>
<circle cx="966.5" cy="520.1" r="2.6"/>
<circle cx="1008.7" cy="512.4" r="2.6"/>
<circle cx="1031.4" cy="477.9" r="2.6"/>
<circle cx="1097.3" cy="453.7" r="2.6"/>
<circle cx="981.5" cy="548.5" r="2.6"/>
<circle cx="988.5" cy="513.2" r="2.6"/>
<circle cx="1052.3" cy="484.6" r="2.6"/>
<circle cx="1073.6" cy="459.8" r="2.6"/>
<circle cx="993.5" cy="508.9" r="2.6"/>
<circle cx="961.4" cy="520.3" r="2.6"/>
<circle cx="1055.4" cy="448.5" r="2.6"/>
<circle cx="1022.0" cy="466.9" r="2.6"/>
<circle cx="1027.5" cy="506.9" r="2.6"/>
<circle cx="978.8" cy="497.7" r="2.6"/>
<circle cx="957.4" cy="549.0" r="2.6"/>
<circle cx="995.0" cy="520.5" r="2.6"/>
<circle cx="1055.7" cy="474.1" r="2.6"/>
<circle cx="1039.5" cy="484.1" r="2.6"/>
<circle cx="1098.9" cy="458.8" r="2.6"/>
<circle cx="1000.6" cy="526.7" r="2.6"/>
<circle cx="1030.0" cy="488.1" r="2.6"/>
<circle cx="978.5" cy="542.1" r="2.6"/>
<circle cx="987.7" cy="544.5" r="2.6"/>
<circle cx="967.6" cy="504.1" r="2.6"/>
<circle cx="1008.2" cy="504.5" r="2.6"/>
<circle cx="996.3" cy="513.6" r="2.6"/>
<circle cx="1061.6" cy="466.4" r="2.6"/>
<circle cx="1097.7" cy="425.4" r="2.6"/>
<circle cx="999.2" cy="523.1" r="2.6"/>
<circle cx="1005.1" cy="502.1" r="2.6"/>
<circle cx="993.5" cy="465.0" r="2.6"/>
<circle cx="1004.4" cy="481.3" r="2.6"/>
<circle cx="1002.2" cy="507.5" r="2.6"/>
<circle cx="959.0" cy="543.4" r="2.6"/>
<circle cx="986.7" cy="530.0" r="2.6"/>
<circle cx="944.8" cy="540.6" r="2.6"/>
<circle cx="1050.6" cy="490.8" r="2.6"/>
<circle cx="998.7" cy="523.3" r="2.6"/>
<circle cx="1069.4" cy="479.6" r="2.6"/>
<circle cx="1012.3" cy="509.9" r="2.6"/>
<circle cx="1037.5" cy="460.8" r="2.6"/>
<circle cx="1107.3" cy="430.4" r="2.6"/>
<circle cx="966.8" cy="516.9" r="2.6"/>
<circle cx="1081.9" cy="464.5" r="2.6"/>
<circle cx="962.0" cy="545.3" r="2.6"/>
<circle cx="1025.5" cy="515.9" r="2.6"/>
<circle cx="965.6" cy="527.0" r="2.6"/>
<circle cx="1024.1" cy="466.4" r="2.6"/>
<circle cx="1072.5" cy="482.2" r="2.6"/>
<circle cx="1071.0" cy="444.0" r="2.6"/>
<circle cx="978.9" cy="508.2" r="2.6"/>
<circle cx="925.6" cy="536.1" r="2.6"/>
<circle cx="991.4" cy="525.4" r="2.6"/>
<circle cx="1065.7" cy="475.4" r="2.6"/>
<circle cx="1042.7" cy="507.0" r="2.6"/>
<circle cx="1047.9" cy="503.7" r="2.6"/>
<circle cx="1123.4" cy="444.5" r="2.6"/>
<circle cx="947.5" cy="543.5" r="2.6"/>
<circle cx="959.0" cy="539.6" r="2.6"/>
<circle cx="1030.3" cy="440.1" r="2.6"/>
<circle cx="977.3" cy="529.7" r="2.6"/>
<circle cx="1068.4" cy="434.4" r="2.6"/>
<circle cx="1097.8" cy="442.5" r="2.6"/>
<circle cx="969.4" cy="510.5" r="2.6"/>
<circle cx="1070.6" cy="459.2" r="2.6"/>
<circle cx="1072.1" cy="481.3" r="2.6"/>
<circle cx="1036.5" cy="488.3" r="2.6"/>
<circle cx="1012.8" cy="509.7" r="2.6"/>
<circle cx="1007.5" cy="533.9" r="2.6"/>
<circle cx="992.1" cy="536.8" r="2.6"/>
<circle cx="1028.9" cy="504.6" r="2.6"/>
<circle cx="975.3" cy="545.0" r="2.6"/>
<circle cx="945.8" cy="562.9" r="2.6"/>
<circle cx="1054.2" cy="447.8" r="2.6"/>
<circle cx="1030.4" cy="445.5" r="2.6"/>
<circle cx="1120.9" cy="413.3" r="2.6"/>
<circle cx="1008.9" cy="476.6" r="2.6"/>
<circle cx="1057.4" cy="484.4" r="2.6"/>
<circle cx="983.0" cy="515.6" r="2.6"/>
<circle cx="1069.5" cy="431.2" r="2.6"/>
<circle cx="1031.3" cy="515.7" r="2.6"/>
<circle cx="1050.2" cy="482.9" r="2.6"/>
<circle cx="1123.4" cy="440.7" r="2.6"/>
<circle cx="1018.1" cy="514.1" r="2.6"/>
<circle cx="1037.6" cy="454.1" r="2.6"/>
<circle cx="1037.7" cy="484.1" r="2.6"/>
<circle cx="964.3" cy="519.4" r="2.6"/>
<circle cx="1002.3" cy="494.4" r="2.6"/>
<circle cx="948.9" cy="563.9" r="2.6"/>
<circle cx="1090.7" cy="444.6" r="2.6"/>
<circle cx="989.6" cy="509.1" r="2.6"/>
<circle cx="1061.1" cy="455.7" r="2.6"/>
<circle cx="992.1" cy="495.4" r="2.6"/>
<circle cx="974.5" cy="528.4" r="2.6"/>
<circle cx="1093.0" cy="446.2" r="2.6"/>
<circle cx="980.4" cy="542.8" r="2.6"/>
<circle cx="1040.8" cy="442.1" r="2.6"/>
<circle cx="1010.3" cy="451.3" r="2.6"/>
<circle cx="980.6" cy="511.0" r="2.6"/>
<circle cx="969.8" cy="531.5" r="2.6"/>
<circle cx="965.9" cy="544.4" r="2.6"/>
<circle cx="1135.3" cy="408.8" r="2.6"/>
<circle cx="1028.9" cy="470.5" r="2.6"/>
<circle cx="1045.0" cy="496.6" r="2.6"/>
<circle cx="1015.4" cy="516.8" r="2.6"/>
<circle cx="973.6" cy="544.8" r="2.6"/>
<circle cx="1168.5" cy="377.9" r="2.6"/>
<circle cx="998.3" cy="499.3" r="2.6"/>
<circle cx="963.2" cy="528.3" r="2.6"/>
<circle cx="949.9" cy="534.0" r="2.6"/>
<circle cx="1104.9" cy="456.7" r="2.6"/>
<circle cx="961.1" cy="530.1" r="2.6"/>
<circle cx="995.6" cy="524.4" r="2.6"/>
<circle cx="1009.1" cy="489.3" r="2.6"/>
<circle cx="927.8" cy="526.3" r="2.6"/>
<circle cx="973.9" cy="525.4" r="2.6"/>
<circle cx="1021.0" cy="483.1" r="2.6"/>
<circle cx="1053.1" cy="450.0" r="2.6"/>
<circle cx="1042.1" cy="514.7" r="2.6"/>
<circle cx="946.1" cy="539.1" r="2.6"/>
<circle cx="940.1" cy="552.1" r="2.6"/>
<circle cx="1059.4" cy="452.6" r="2.6"/>
<circle cx="1143.8" cy="396.3" r="2.6"/>
<circle cx="1106.2" cy="448.1" r="2.6"/>
<circle cx="1090.1" cy="464.7" r="2.6"/>
<circle cx="937.2" cy="537.7" r="2.6"/>
<circle cx="995.0" cy="509.9" r="2.6"/>
<circle cx="1042.2" cy="497.9" r="2.6"/>
<circle cx="1070.8" cy="462.2" r="2.6"/>
<circle cx="999.8" cy="518.8" r="2.6"/>
<circle cx="1015.4" cy="529.5" r="2.6"/>
<circle cx="1091.9" cy="456.5" r="2.6"/>
<circle cx="1011.6" cy="498.0" r="2.6"/>
<circle cx="957.1" cy="537.1" r="2.6"/>
<circle cx="1038.4" cy="490.8" r="2.6"/>
<circle cx="948.8" cy="546.1" r="2.6"/>
<circle cx="955.9" cy="535.0" r="2.6"/>
<circle cx="1141.4" cy="423.2" r="2.6"/>
<circle cx="1072.8" cy="462.6" r="2.6"/>
<circle cx="946.9" cy="553.2" r="2.6"/>
<circle cx="1095.2" cy="425.5" r="2.6"/>
<circle cx="1087.4" cy="459.6" r="2.6"/>
<circle cx="1041.4" cy="495.4" r="2.6"/>
<circle cx="973.1" cy="538.7" r="2.6"/>
<circle cx="985.5" cy="518.2" r="2.6"/>
<circle cx="966.0" cy="553.4" r="2.6"/>
<circle cx="940.1" cy="537.9" r="2.6"/>
<circle cx="977.0" cy="534.8" r="2.6"/>
<circle cx="1041.7" cy="452.0" r="2.6"/>
<circle cx="983.2" cy="540.2" r="2.6"/>
<circle cx="989.2" cy="544.5" r="2.6"/>
<circle cx="999.9" cy="496.0" r="2.6"/>
<circle cx="977.8" cy="550.9" r="2.6"/>
<circle cx="1021.7" cy="511.6" r="2.6"/>
<circle cx="959.5" cy="552.6" r="2.6"/>
<circle cx="1051.1" cy="506.7" r="2.6"/>
<circle cx="1034.7" cy="493.6" r="2.6"/>
<circle cx="1019.5" cy="516.8" r="2.6"/>
<circle cx="980.2" cy="533.2" r="2.6"/>
<circle cx="1078.3" cy="469.8" r="2.6"/>
<circle cx="1062.3" cy="450.6" r="2.6"/>
<circle cx="1074.1" cy="457.6" r="2.6"/>
<circle cx="961.5" cy="533.0" r="2.6"/>
<circle cx="1097.8" cy="445.3" r="2.6"/>
<circle cx="1132.7" cy="417.5" r="2.6"/>
<circle cx="1059.2" cy="480.6" r="2.6"/>
<circle cx="1031.8" cy="456.7" r="2.6"/>
<circle cx="993.9" cy="479.7" r="2.6"/>
<circle cx="1036.8" cy="492.5" r="2.6"/>
<circle cx="994.4" cy="466.4" r="2.6"/>
<circle cx="1106.8" cy="448.6" r="2.6"/>
<circle cx="1016.6" cy="496.9" r="2.6"/>
<circle cx="959.7" cy="517.9" r="2.6"/>
<circle cx="1149.9" cy="393.6" r="2.6"/>
<circle cx="1010.6" cy="522.8" r="2.6"/>
<circle cx="1091.7" cy="414.9" r="2.6"/>
<circle cx="1040.0" cy="497.1" r="2.6"/>
<circle cx="959.7" cy="548.4" r="2.6"/>
<circle cx="1043.0" cy="484.0" r="2.6"/>
<circle cx="1053.5" cy="470.7" r="2.6"/>
<circle cx="1127.7" cy="412.4" r="2.6"/>
<circle cx="1129.0" cy="411.1" r="2.6"/>
<circle cx="1079.8" cy="416.3" r="2.6"/>
<circle cx="962.0" cy="546.4" r="2.6"/>
<circle cx="1002.2" cy="525.9" r="2.6"/>
<circle cx="977.9" cy="515.2" r="2.6"/>
<circle cx="1074.1" cy="490.9" r="2.6"/>
<circle cx="1035.7" cy="465.3" r="2.6"/>
<circle cx="946.1" cy="553.9" r="2.6"/>
<circle cx="992.9" cy="523.4" r="2.6"/>
<circle cx="1126.2" cy="417.0" r="2.6"/>
<circle cx="973.3" cy="543.7" r="2.6"/>
<circle cx="982.4" cy="516.9" r="2.6"/>
<circle cx="1086.2" cy="447.3" r="2.6"/>
<circle cx="982.9" cy="533.3" r="2.6"/>
<circle cx="1099.7" cy="446.0" r="2.6"/>
<circle cx="987.8" cy="509.1" r="2.6"/>
<circle cx="1095.7" cy="436.3" r="2.6"/>
<circle cx="1005.1" cy="507.4" r="2.6"/>
<circle cx="1023.3" cy="507.9" r="2.6"/>
<circle cx="1022.9" cy="506.1" r="2.6"/>
<circle cx="1095.4" cy="446.1" r="2.6"/>
<circle cx="989.1" cy="528.5" r="2.6"/>
<circle cx="1011.7" cy="517.0" r="2.6"/>
<circle cx="1122.1" cy="419.9" r="2.6"/>
<circle cx="978.2" cy="506.9" r="2.6"/>
<circle cx="1094.2" cy="457.7" r="2.6"/>
<circle cx="1007.4" cy="529.0" r="2.6"/>
<circle cx="957.5" cy="556.5" r="2.6"/>
<circle cx="1037.7" cy="491.4" r="2.6"/>
<circle cx="1043.1" cy="474.4" r="2.6"/>
<circle cx="1017.9" cy="526.9" r="2.6"/>
<circle cx="1004.1" cy="478.9" r="2.6"/>
<circle cx="1109.1" cy="461.2" r="2.6"/>
<circle cx="998.9" cy="539.9" r="2.6"/>
<circle cx="1049.3" cy="492.1" r="2.6"/>
<circle cx="1036.3" cy="490.3" r="2.6"/>
<circle cx="932.6" cy="525.3" r="2.6"/>
<circle cx="1045.1" cy="484.2" r="2.6"/>
<circle cx="990.9" cy="525.7" r="2.6"/>
<circle cx="1147.2" cy="407.5" r="2.6"/>
<circle cx="1077.1" cy="425.8" r="2.6"/>
<circle cx="1041.9" cy="448.1" r="2.6"/>
<circle cx="1010.3" cy="514.1" r="2.6"/>
<circle cx="996.6" cy="523.0" r="2.6"/>
<circle cx="1029.2" cy="485.2" r="2.6"/>
<circle cx="980.7" cy="532.9" r="2.6"/>
<circle cx="1113.3" cy="459.8" r="2.6"/>
<circle cx="941.6" cy="526.8" r="2.6"/>
<circle cx="1050.3" cy="494.5" r="2.6"/>
<circle cx="989.5" cy="535.8" r="2.6"/>
<circle cx="1052.5" cy="445.0" r="2.6"/>
<circle cx="998.8" cy="515.8" r="2.6"/>
<circle cx="1036.8" cy="451.0" r="2.6"/>
<circle cx="1110.7" cy="444.1" r="2.6"/>
<circle cx="1073.9" cy="467.8" r="2.6"/>
<circle cx="1097.8" cy="461.6" r="2.6"/>
<circle cx="1095.1" cy="453.7" r="2.6"/>
<circle cx="1073.5" cy="482.8" r="2.6"/>
<circle cx="989.9" cy="475.8" r="2.6"/>
<circle cx="986.1" cy="535.8" r="2.6"/>
<circle cx="980.7" cy="539.0" r="2.6"/>
<circle cx="1079.1" cy="477.3" r="2.6"/>
<circle cx="1099.8" cy="456.6" r="2.6"/>
<circle cx="1009.6" cy="515.2" r="2.6"/>
<circle cx="1021.6" cy="512.2" r="2.6"/>
<circle cx="990.2" cy="507.6" r="2.6"/>
<circle cx="1021.0" cy="507.6" r="2.6"/>
<circle cx="1011.6" cy="514.6" r="2.6"/>
<circle cx="1055.4" cy="476.9" r="2.6"/>
<circle cx="1040.8" cy="508.1" r="2.6"/>
<circle cx="1052.1" cy="476.5" r="2.6"/>
<circle cx="1090.5" cy="452.6" r="2.6"/>
<circle cx="1007.1" cy="495.2" r="2.6"/>
<circle cx="1033.9" cy="498.3" r="2.6"/>
<circle cx="985.3" cy="529.7" r="2.6"/>
<circle cx="1016.8" cy="500.2" r="2.6"/>
<circle cx="1121.0" cy="414.2" r="2.6"/>
<circle cx="1037.9" cy="452.3" r="2.6"/>
<circle cx="981.5" cy="533.3" r="2.6"/>
<circle cx="1005.8" cy="528.5" r="2.6"/>
<circle cx="1076.7" cy="427.1" r="2.6"/>
<circle cx="1119.6" cy="413.6" r="2.6"/>
<circle cx="1097.1" cy="452.3" r="2.6"/>
<circle cx="961.7" cy="556.9" r="2.6"/>
<circle cx="971.5" cy="546.7" r="2.6"/>
<circle cx="1053.2" cy="436.6" r="2.6"/>
<circle cx="972.1" cy="539.5" r="2.6"/>
<circle cx="1044.5" cy="448.0" r="2.6"/>
<circle cx="981.7" cy="507.9" r="2.6"/>
<circle cx="1013.7" cy="509.2" r="2.6"/>
<circle cx="1032.2" cy="498.3" r="2.6"/>
<circle cx="989.5" cy="530.9" r="2.6"/>
<circle cx="1078.6" cy="420.6" r="2.6"/>
<circle cx="1137.2" cy="399.3" r="2.6"/>
<circle cx="1009.4" cy="522.0" r="2.6"/>
<circle cx="989.1" cy="525.8" r="2.6"/>
<circle cx="963.9" cy="538.3" r="2.6"/>
<circle cx="959.6" cy="550.7" r="2.6"/>
<circle cx="1057.9" cy="461.5" r="2.6"/>
<circle cx="997.4" cy="538.7" r="2.6"/>
<circle cx="993.7" cy="496.8" r="2.6"/>
<circle cx="1018.8" cy="488.0" r="2.6"/>
<circle cx="998.0" cy="476.0" r="2.6"/>
<circle cx="1021.7" cy="520.8" r="2.6"/>
<circle cx="1046.2" cy="501.5" r="2.6"/>
<circle cx="1066.3" cy="474.4" r="2.6"/>
<circle cx="1050.5" cy="492.7" r="2.6"/>
<circle cx="983.2" cy="475.4" r="2.6"/>
<circle cx="1052.2" cy="471.7" r="2.6"/>
<circle cx="1010.7" cy="503.7" r="2.6"/>
<circle cx="1042.4" cy="466.4" r="2.6"/>
<circle cx="958.3" cy="561.6" r="2.6"/>
<circle cx="1109.9" cy="450.8" r="2.6"/>
<circle cx="1126.3" cy="446.5" r="2.6"/>
<circle cx="1038.3" cy="449.7" r="2.6"/>
<circle cx="952.5" cy="537.1" r="2.6"/>
<circle cx="984.9" cy="513.8" r="2.6"/>
<circle cx="984.0" cy="493.6" r="2.6"/>
<circle cx="1021.8" cy="444.9" r="2.6"/>
<circle cx="955.7" cy="540.7" r="2.6"/>
<circle cx="948.7" cy="548.5" r="2.6"/>
<circle cx="1064.0" cy="480.7" r="2.6"/>
<circle cx="1087.1" cy="440.0" r="2.6"/>
<circle cx="1024.0" cy="506.3" r="2.6"/>
<circle cx="1077.8" cy="433.7" r="2.6"/>
<circle cx="1001.9" cy="491.3" r="2.6"/>
<circle cx="1046.0" cy="448.3" r="2.6"/>
<circle cx="940.4" cy="540.1" r="2.6"/>
<circle cx="1006.3" cy="510.5" r="2.6"/>
<circle cx="1102.6" cy="443.0" r="2.6"/>
<circle cx="941.6" cy="556.6" r="2.6"/>
<circle cx="1133.2" cy="409.6" r="2.6"/>
<circle cx="982.2" cy="537.7" r="2.6"/>
<circle cx="927.8" cy="525.3" r="2.6"/>
<circle cx="1038.1" cy="473.0" r="2.6"/>
<circle cx="1029.0" cy="431.7" r="2.6"/>
<circle cx="962.2" cy="536.4" r="2.6"/>
<circle cx="998.0" cy="523.7" r="2.6"/>
<circle cx="1026.0" cy="486.2" r="2.6"/>
<circle cx="940.2" cy="523.3" r="2.6"/>
<circle cx="1069.9" cy="461.5" r="2.6"/>
<circle cx="1011.5" cy="512.1" r="2.6"/>
<circle cx="983.5" cy="526.0" r="2.6"/>
<circle cx="951.7" cy="545.2" r="2.6"/>
<circle cx="1041.1" cy="484.5" r="2.6"/>
<circle cx="981.0" cy="544.0" r="2.6"/>
<circle cx="989.4" cy="524.9" r="2.6"/>
<circle cx="978.1" cy="540.9" r="2.6"/>
<circle cx="1111.2" cy="425.0" r="2.6"/>
<circle cx="1041.5" cy="492.7" r="2.6"/>
<circle cx="1017.6" cy="533.2" r="2.6"/>
<circle cx="1018.6" cy="508.8" r="2.6"/>
<circle cx="1038.6" cy="475.2" r="2.6"/>
<circle cx="1041.0" cy="488.5" r="2.6"/>
<circle cx="1043.6" cy="483.9" r="2.6"/>
<circle cx="964.5" cy="541.4" r="2.6"/>
<circle cx="1013.5" cy="513.7" r="2.6"/>
<circle cx="981.3" cy="500.5" r="2.6"/>
<circle cx="1101.0" cy="422.2" r="2.6"/>
<circle cx="1022.2" cy="502.9" r="2.6"/>
<circle cx="993.2" cy="527.3" r="2.6"/>
<circle cx="1084.3" cy="437.7" r="2.6"/>
<circle cx="1031.5" cy="428.2" r="2.6"/>
<circle cx="1041.7" cy="492.0" r="2.6"/>
<circle cx="1080.8" cy="417.1" r="2.6"/>
<circle cx="1024.3" cy="458.9" r="2.6"/>
<circle cx="985.3" cy="495.7" r="2.6"/>
<circle cx="1052.2" cy="504.6" r="2.6"/>
<circle cx="1048.9" cy="489.5" r="2.6"/>
<circle cx="959.2" cy="551.2" r="2.6"/>
<circle cx="1077.5" cy="467.2" r="2.6"/>
<circle cx="1037.3" cy="442.8" r="2.6"/>
<circle cx="963.2" cy="546.8" r="2.6"/>
<circle cx="1075.9" cy="453.0" r="2.6"/>
<circle cx="1074.4" cy="461.4" r="2.6"/>
<circle cx="1016.4" cy="477.6" r="2.6"/>
<circle cx="1091.8" cy="468.4" r="2.6"/>
<circle cx="1140.0" cy="407.3" r="2.6"/>
<circle cx="1048.5" cy="507.3" r="2.6"/>
<circle cx="1084.4" cy="430.6" r="2.6"/>
<circle cx="967.7" cy="533.0" r="2.6"/>
<circle cx="1053.5" cy="487.0" r="2.6"/>
<circle cx="973.6" cy="540.0" r="2.6"/>
<circle cx="1121.9" cy="421.2" r="2.6"/>
<circle cx="952.8" cy="560.1" r="2.6"/>
<circle cx="998.6" cy="534.1" r="2.6"/>
<circle cx="993.0" cy="511.5" r="2.6"/>
<circle cx="1053.4" cy="484.6" r="2.6"/>
<circle cx="1056.5" cy="442.7" r="2.6"/>
<circle cx="990.9" cy="506.5" r="2.6"/>
<circle cx="951.7" cy="560.4" r="2.6"/>
<circle cx="1040.5" cy="479.2" r="2.6"/>
<circle cx="1063.7" cy="482.8" r="2.6"/>
<circle cx="1068.4" cy="448.2" r="2.6"/>
<circle cx="975.1" cy="524.3" r="2.6"/>
<circle cx="960.5" cy="555.3" r="2.6"/>
<circle cx="982.3" cy="509.9" r="2.6"/>
<circle cx="1078.9" cy="449.7" r="2.6"/>
<circle cx="1083.1" cy="416.1" r="2.6"/>
<circle cx="1037.3" cy="478.0" r="2.6"/>
<circle cx="1084.0" cy="473.5" r="2.6"/>
<circle cx="1110.8" cy="458.4" r="2.6"/>
<circle cx="1020.6" cy="480.3" r="2.6"/>
<circle cx="986.0" cy="528.5" r="2.6"/>
<circle cx="1065.7" cy="439.3" r="2.6"/>
<circle cx="1071.3" cy="454.7" r="2.6"/>
<circle cx="1088.3" cy="455.1" r="2.6"/>
<circle cx="1026.6" cy="498.8" r="2.6"/>
<circle cx="1095.8" cy="453.6" r="2.6"/>
<circle cx="961.1" cy="528.1" r="2.6"/>
<circle cx="996.0" cy="488.8" r="2.6"/>
<circle cx="977.2" cy="537.7" r="2.6"/>
<circle cx="1008.6" cy="464.1" r="2.6"/>
<circle cx="971.9" cy="548.9" r="2.6"/>
<circle cx="1016.2" cy="514.3" r="2.6"/>
<circle cx="1013.1" cy="518.2" r="2.6"/>
<circle cx="984.0" cy="541.2" r="2.6"/>
<circle cx="1014.2" cy="509.6" r="2.6"/>
<circle cx="1071.0" cy="444.6" r="2.6"/>
<circle cx="1142.7" cy="400.6" r="2.6"/>
<circle cx="1132.1" cy="400.4" r="2.6"/>
<circle cx="995.0" cy="512.8" r="2.6"/>
<circle cx="932.8" cy="528.9" r="2.6"/>
<circle cx="966.1" cy="542.3" r="2.6"/>
<circle cx="996.8" cy="497.6" r="2.6"/>
<circle cx="977.6" cy="535.8" r="2.6"/>
<circle cx="970.6" cy="521.2" r="2.6"/>
<circle cx="1082.5" cy="444.2" r="2.6"/>
<circle cx="1151.1" cy="418.3" r="2.6"/>
<circle cx="1106.6" cy="437.7" r="2.6"/>
<circle cx="984.1" cy="534.5" r="2.6"/>
<circle cx="973.9" cy="528.3" r="2.6"/>
<circle cx="1045.9" cy="474.4" r="2.6"/>
<circle cx="957.5" cy="552.1" r="2.6"/>
<circle cx="994.6" cy="510.2" r="2.6"/>
<circle cx="1031.7" cy="498.4" r="2.6"/>
<circle cx="986.0" cy="536.2" r="2.6"/>
<circle cx="1084.9" cy="454.6" r="2.6"/>
<circle cx="1107.5" cy="439.5" r="2.6"/>
<circle cx="1078.1" cy="472.1" r="2.6"/>
<circle cx="998.4" cy="521.1" r="2.6"/>
<circle cx="1031.4" cy="485.6" r="2.6"/>
<circle cx="977.5" cy="542.0" r="2.6"/>
<circle cx="1024.4" cy="458.0" r="2.6"/>
<circle cx="947.1" cy="564.8" r="2.6"/>
<circle cx="1067.0" cy="455.7" r="2.6"/>
<circle cx="1012.4" cy="495.1" r="2.6"/>
<circle cx="1044.9" cy="489.6" r="2.6"/>
<circle cx="990.6" cy="518.5" r="2.6"/>
<circle cx="996.2" cy="504.2" r="2.6"/>
<circle cx="992.0" cy="516.1" r="2.6"/>
<circle cx="932.1" cy="535.1" r="2.6"/>
<circle cx="1037.3" cy="432.2" r="2.6"/>
<circle cx="948.1" cy="558.6" r="2.6"/>
<circle cx="991.0" cy="535.6" r="2.6"/>
<circle cx="1131.5" cy="411.7" r="2.6"/>
<circle cx="987.5" cy="499.4" r="2.6"/>
<circle cx="972.5" cy="520.7" r="2.6"/>
<circle cx="1065.2" cy="449.9" r="2.6"/>
<circle cx="965.7" cy="544.2" r="2.6"/>
<circle cx="997.2" cy="539.2" r="2.6"/>
<circle cx="986.6" cy="524.7" r="2.6"/>
<circle cx="987.3" cy="489.5" r="2.6"/>
<circle cx="987.5" cy="525.8" r="2.6"/>
<circle cx="990.9" cy="503.9" r="2.6"/>
<circle cx="1094.6" cy="417.2" r="2.6"/>
<circle cx="987.7" cy="539.9" r="2.6"/>
<circle cx="1055.3" cy="490.7" r="2.6"/>
<circle cx="1045.5" cy="441.3" r="2.6"/>
<circle cx="1025.8" cy="484.6" r="2.6"/>
<circle cx="1082.0" cy="461.3" r="2.6"/>
<circle cx="954.0" cy="545.1" r="2.6"/>
<circle cx="1084.0" cy="425.8" r="2.6"/>
<circle cx="1131.5" cy="427.9" r="2.6"/>
<circle cx="1032.9" cy="460.3" r="2.6"/>
<circle cx="1012.7" cy="481.8" r="2.6"/>
<circle cx="1034.8" cy="495.5" r="2.6"/>
<circle cx="978.2" cy="533.2" r="2.6"/>
<circle cx="963.5" cy="547.3" r="2.6"/>
<circle cx="1000.9" cy="516.1" r="2.6"/>
<circle cx="1017.2" cy="489.5" r="2.6"/>
<circle cx="932.1" cy="521.5" r="2.6"/>
<circle cx="1094.8" cy="420.0" r="2.6"/>
<circle cx="989.3" cy="488.6" r="2.6"/>
<circle cx="1074.1" cy="463.7" r="2.6"/>
<circle cx="1103.3" cy="441.2" r="2.6"/>
<circle cx="1134.3" cy="393.8" r="2.6"/>
<circle cx="1012.0" cy="496.0" r="2.6"/>
<circle cx="1036.4" cy="510.2" r="2.6"/>
<circle cx="1066.2" cy="446.9" r="2.6"/>
<circle cx="927.3" cy="533.8" r="2.6"/>
<circle cx="977.7" cy="549.9" r="2.6"/>
<circle cx="1156.4" cy="390.9" r="2.6"/>
<circle cx="1117.5" cy="433.1" r="2.6"/>
<circle cx="1109.8" cy="427.9" r="2.6"/>
<circle cx="1113.4" cy="426.2" r="2.6"/>
<circle cx="1047.9" cy="463.2" r="2.6"/>
<circle cx="1072.5" cy="486.0" r="2.6"/>
<circle cx="1083.8" cy="457.0" r="2.6"/>
<circle cx="1089.1" cy="454.1" r="2.6"/>
<circle cx="1050.2" cy="477.0" r="2.6"/>
<circle cx="1028.5" cy="496.5" r="2.6"/>
<circle cx="1066.1" cy="455.0" r="2.6"/>
<circle cx="1031.4" cy="429.0" r="2.6"/>
<circle cx="1004.9" cy="508.0" r="2.6"/>
<circle cx="1034.2" cy="473.4" r="2.6"/>
<circle cx="1010.0" cy="485.5" r="2.6"/>
<circle cx="964.1" cy="554.5" r="2.6"/>
<circle cx="954.7" cy="542.5" r="2.6"/>
<circle cx="1018.7" cy="449.1" r="2.6"/>
<circle cx="1008.3" cy="522.7" r="2.6"/>
<circle cx="987.3" cy="539.2" r="2.6"/>
<circle cx="964.9" cy="527.1" r="2.6"/>
<circle cx="965.5" cy="533.0" r="2.6"/>
<circle cx="986.7" cy="531.3" r="2.6"/>
<circle cx="1149.4" cy="400.5" r="2.6"/>
<circle cx="980.6" cy="507.7" r="2.6"/>
<circle cx="998.7" cy="514.1" r="2.6"/>
<circle cx="983.1" cy="541.0" r="2.6"/>
<circle cx="999.9" cy="492.9" r="2.6"/>
<circle cx="1038.9" cy="494.8" r="2.6"/>
<circle cx="1023.9" cy="501.8" r="2.6"/>
<circle cx="982.1" cy="535.8" r="2.6"/>
<circle cx="950.1" cy="538.7" r="2.6"/>
<circle cx="1028.4" cy="498.8" r="2.6"/>
<circle cx="1050.9" cy="484.7" r="2.6"/>
<circle cx="1127.3" cy="410.9" r="2.6"/>
<circle cx="947.7" cy="564.3" r="2.6"/>
<circle cx="953.5" cy="523.6" r="2.6"/>
<circle cx="989.2" cy="534.7" r="2.6"/>
<circle cx="966.5" cy="538.3" r="2.6"/>
<circle cx="951.5" cy="521.6" r="2.6"/>
<circle cx="1114.4" cy="450.2" r="2.6"/>
<circle cx="1119.2" cy="413.8" r="2.6"/>
<circle cx="999.9" cy="521.4" r="2.6"/>
<circle cx="1030.0" cy="511.0" r="2.6"/>
<circle cx="1034.6" cy="507.4" r="2.6"/>
<circle cx="1012.4" cy="510.1" r="2.6"/>
<circle cx="991.6" cy="538.1" r="2.6"/>
<circle cx="1052.9" cy="485.5" r="2.6"/>
<circle cx="966.6" cy="532.8" r="2.6"/>
<circle cx="1039.3" cy="487.5" r="2.6"/>
<circle cx="1090.2" cy="466.7" r="2.6"/>
<circle cx="958.6" cy="539.8" r="2.6"/>
<circle cx="1114.8" cy="431.1" r="2.6"/>
<circle cx="1013.1" cy="504.5" r="2.6"/>
<circle cx="989.3" cy="520.3" r="2.6"/>
<circle cx="1061.6" cy="487.3" r="2.6"/>
<circle cx="1078.5" cy="465.0" r="2.6"/>
<circle cx="1013.6" cy="514.3" r="2.6"/>
<circle cx="1087.4" cy="468.0" r="2.6"/>
<circle cx="1069.5" cy="433.9" r="2.6"/>
<circle cx="1003.2" cy="524.7" r="2.6"/>
<circle cx="1061.7" cy="446.7" r="2.6"/>
<circle cx="1112.2" cy="437.5" r="2.6"/>
<circle cx="996.9" cy="482.0" r="2.6"/>
<circle cx="990.4" cy="536.5" r="2.6"/>
<circle cx="976.4" cy="530.4" r="2.6"/>
<circle cx="1075.9" cy="472.0" r="2.6"/>
<circle cx="951.5" cy="562.8" r="2.6"/>
<circle cx="989.9" cy="528.9" r="2.6"/>
<circle cx="1058.4" cy="478.7" r="2.6"/>
<circle cx="1014.2" cy="514.8" r="2.6"/>
<circle cx="1016.9" cy="519.0" r="2.6"/>
<circle cx="1088.2" cy="439.4" r="2.6"/>
<circle cx="937.6" cy="564.4" r="2.6"/>
<circle cx="1052.6" cy="469.1" r="2.6"/>
<circle cx="972.4" cy="535.2" r="2.6"/>
<circle cx="951.4" cy="557.3" r="2.6"/>
<circle cx="955.3" cy="521.7" r="2.6"/>
<circle cx="950.1" cy="554.3" r="2.6"/>
<circle cx="987.4" cy="540.1" r="2.6"/>
<circle cx="962.5" cy="547.8" r="2.6"/>
<circle cx="1043.2" cy="495.3" r="2.6"/>
<circle cx="971.2" cy="557.1" r="2.6"/>
<circle cx="948.5" cy="537.5" r="2.6"/>
<circle cx="961.2" cy="562.8" r="2.6"/>
<circle cx="1109.4" cy="430.0" r="2.6"/>
<circle cx="971.7" cy="526.6" r="2.6"/>
<circle cx="1089.2" cy="463.3" r="2.6"/>
<circle cx="1040.2" cy="488.1" r="2.6"/>
<circle cx="1007.2" cy="519.5" r="2.6"/>
<circle cx="1060.8" cy="485.1" r="2.6"/>
<circle cx="1069.5" cy="474.1" r="2.6"/>
<circle cx="983.6" cy="546.5" r="2.6"/>
<circle cx="1094.7" cy="438.8" r="2.6"/>
<circle cx="1055.1" cy="478.2" r="2.6"/>
<circle cx="1042.5" cy="462.5" r="2.6"/>
<circle cx="1092.9" cy="434.5" r="2.6"/>
<circle cx="1098.8" cy="444.7" r="2.6"/>
<circle cx="976.3" cy="538.3" r="2.6"/>
<circle cx="1006.2" cy="490.6" r="2.6"/>
<circle cx="971.8" cy="537.6" r="2.6"/>
<circle cx="1078.3" cy="478.1" r="2.6"/>
<circle cx="1057.9" cy="465.6" r="2.6"/>
<circle cx="1081.1" cy="461.2" r="2.6"/>
<circle cx="1103.9" cy="428.0" r="2.6"/>
<circle cx="1000.0" cy="525.7" r="2.6"/>
<circle cx="1091.2" cy="452.2" r="2.6"/>
<circle cx="975.7" cy="511.2" r="2.6"/>
<circle cx="997.4" cy="528.8" r="2.6"/>
<circle cx="1020.2" cy="504.9" r="2.6"/>
<circle cx="1018.7" cy="509.4" r="2.6"/>
<circle cx="978.0" cy="531.2" r="2.6"/>
<circle cx="1051.3" cy="468.6" r="2.6"/>
<circle cx="990.7" cy="534.2" r="2.6"/>
<circle cx="1126.7" cy="416.2" r="2.6"/>
<circle cx="970.2" cy="547.6" r="2.6"/>
<circle cx="958.6" cy="560.4" r="2.6"/>
<circle cx="1075.1" cy="437.6" r="2.6"/>
<circle cx="961.9" cy="549.8" r="2.6"/>
<circle cx="996.2" cy="530.1" r="2.6"/>
<circle cx="1020.4" cy="515.7" r="2.6"/>
<circle cx="1028.6" cy="482.4" r="2.6"/>
<circle cx="964.5" cy="551.2" r="2.6"/>
<circle cx="1084.0" cy="472.8" r="2.6"/>
<circle cx="987.0" cy="525.0" r="2.6"/>
<circle cx="954.9" cy="556.3" r="2.6"/>
<circle cx="943.5" cy="559.1" r="2.6"/>
<circle cx="1086.9" cy="448.2" r="2.6"/>
<circle cx="1086.1" cy="426.9" r="2.6"/>
<circle cx="997.0" cy="513.8" r="2.6"/>
<circle cx="977.6" cy="541.3" r="2.6"/>
<circle cx="999.0" cy="515.1" r="2.6"/>
<circle cx="1100.6" cy="444.4" r="2.6"/>
<circle cx="1093.1" cy="462.8" r="2.6"/>
<circle cx="968.5" cy="545.1" r="2.6"/>
<circle cx="1020.5" cy="485.7" r="2.6"/>
<circle cx="1064.1" cy="423.0" r="2.6"/>
<circle cx="1029.1" cy="506.8" r="2.6"/>
<circle cx="1027.6" cy="479.7" r="2.6"/>
<circle cx="953.4" cy="533.7" r="2.6"/>
<circle cx="994.9" cy="494.4" r="2.6"/>
<circle cx="1118.2" cy="441.9" r="2.6"/>
<circle cx="1047.5" cy="503.6" r="2.6"/>
<circle cx="978.9" cy="540.2" r="2.6"/>
<circle cx="1018.0" cy="479.9" r="2.6"/>
<circle cx="986.9" cy="500.5" r="2.6"/>
<circle cx="1020.0" cy="506.8" r="2.6"/>
<circle cx="1058.3" cy="496.3" r="2.6"/>
<circle cx="1068.5" cy="430.2" r="2.6"/>
<circle cx="1138.5" cy="400.6" r="2.6"/>
<circle cx="1103.8" cy="460.4" r="2.6"/>
<circle cx="993.6" cy="480.8" r="2.6"/>
<circle cx="1018.8" cy="491.6" r="2.6"/>
<circle cx="950.4" cy="557.8" r="2.6"/>
<circle cx="1110.8" cy="429.7" r="2.6"/>
<circle cx="1028.6" cy="505.8" r="2.6"/>
<circle cx="1039.0" cy="470.1" r="2.6"/>
<circle cx="1066.2" cy="455.6" r="2.6"/>
<circle cx="993.7" cy="492.1" r="2.6"/>
<circle cx="1114.1" cy="451.3" r="2.6"/>
<circle cx="1038.3" cy="509.7" r="2.6"/>
<circle cx="1077.1" cy="469.1" r="2.6"/>
<circle cx="978.4" cy="533.3" r="2.6"/>
<circle cx="1071.9" cy="482.5" r="2.6"/>
<circle cx="1009.8" cy="512.7" r="2.6"/>
<circle cx="1020.2" cy="469.4" r="2.6"/>
<circle cx="1014.6" cy="521.5" r="2.6"/>
<circle cx="973.8" cy="535.2" r="2.6"/>
<circle cx="1084.9" cy="458.2" r="2.6"/>
<circle cx="1045.0" cy="493.1" r="2.6"/>
<circle cx="1045.7" cy="499.5" r="2.6"/>
<circle cx="978.7" cy="539.5" r="2.6"/>
<circle cx="1143.6" cy="409.6" r="2.6"/>
<circle cx="1082.6" cy="468.8" r="2.6"/>
<circle cx="961.2" cy="538.7" r="2.6"/>
<circle cx="957.6" cy="545.6" r="2.6"/>
<circle cx="958.1" cy="554.2" r="2.6"/>
<circle cx="975.5" cy="518.9" r="2.6"/>
<circle cx="1019.1" cy="463.8" r="2.6"/>
<circle cx="982.5" cy="506.5" r="2.6"/>
<circle cx="965.9" cy="555.1" r="2.6"/>
<circle cx="977.0" cy="539.4" r="2.6"/>
<circle cx="1005.7" cy="500.7" r="2.6"/>
<circle cx="1042.2" cy="496.7" r="2.6"/>
<circle cx="1002.0" cy="527.0" r="2.6"/>
<circle cx="1016.1" cy="506.0" r="2.6"/>
<circle cx="1095.4" cy="452.1" r="2.6"/>
<circle cx="989.1" cy="531.5" r="2.6"/>
<circle cx="1000.3" cy="483.0" r="2.6"/>
<circle cx="1124.7" cy="419.2" r="2.6"/>
<circle cx="1063.7" cy="465.4" r="2.6"/>
<circle cx="970.3" cy="532.8" r="2.6"/>
<circle cx="982.9" cy="537.3" r="2.6"/>
<circle cx="1032.6" cy="500.9" r="2.6"/>
<circle cx="1123.0" cy="431.2" r="2.6"/>
<circle cx="939.8" cy="520.9" r="2.6"/>
<circle cx="975.0" cy="532.2" r="2.6"/>
<circle cx="948.3" cy="550.7" r="2.6"/>
<circle cx="1063.4" cy="479.5" r="2.6"/>
<circle cx="1013.9" cy="490.9" r="2.6"/>
<circle cx="1135.6" cy="420.3" r="2.6"/>
<circle cx="1141.7" cy="418.7" r="2.6"/>
<circle cx="987.1" cy="516.4" r="2.6"/>
<circle cx="992.3" cy="516.5" r="2.6"/>
<circle cx="1010.8" cy="462.5" r="2.6"/>
<circle cx="1068.4" cy="476.9" r="2.6"/>
<circle cx="994.8" cy="532.0" r="2.6"/>
<circle cx="1034.9" cy="439.3" r="2.6"/>
<circle cx="1038.6" cy="470.7" r="2.6"/>
<circle cx="964.6" cy="525.3" r="2.6"/>
<circle cx="1120.6" cy="431.3" r="2.6"/>
<circle cx="1015.0" cy="520.5" r="2.6"/>
<circle cx="1011.8" cy="492.5" r="2.6"/>
<circle cx="1088.2" cy="473.1" r="2.6"/>
<circle cx="953.3" cy="527.7" r="2.6"/>
<circle cx="1016.4" cy="531.7" r="2.6"/>
<circle cx="945.1" cy="558.1" r="2.6"/>
<circle cx="1135.3" cy="419.1" r="2.6"/>
<circle cx="1122.8" cy="432.0" r="2.6"/>
<circle cx="1050.6" cy="477.5" r="2.6"/>
<circle cx="1031.5" cy="487.8" r="2.6"/>
<circle cx="1061.3" cy="450.8" r="2.6"/>
<circle cx="1044.1" cy="486.0" r="2.6"/>
<circle cx="994.3" cy="519.8" r="2.6"/>
<circle cx="1074.9" cy="469.6" r="2.6"/>
<circle cx="1140.8" cy="405.0" r="2.6"/>
<circle cx="1084.8" cy="456.9" r="2.6"/>
<circle cx="996.4" cy="505.7" r="2.6"/>
<circle cx="1142.0" cy="436.7" r="2.6"/>
<circle cx="968.8" cy="555.3" r="2.6"/>
<circle cx="963.0" cy="544.5" r="2.6"/>
<circle cx="1088.0" cy="414.5" r="2.6"/>
<circle cx="1056.5" cy="479.8" r="2.6"/>
<circle cx="1063.7" cy="476.3" r="2.6"/>
<circle cx="977.7" cy="532.1" r="2.6"/>
<circle cx="973.2" cy="545.3" r="2.6"/>
<circle cx="1085.4" cy="421.0" r="2.6"/>
<circle cx="969.1" cy="547.6" r="2.6"/>
<circle cx="1008.9" cy="480.6" r="2.6"/>
<circle cx="973.2" cy="494.7" r="2.6"/>
<circle cx="971.6" cy="526.7" r="2.6"/>
<circle cx="1061.1" cy="447.8" r="2.6"/>
<circle cx="1018.8" cy="513.6" r="2.6"/>
<circle cx="947.5" cy="526.9" r="2.6"/>
<circle cx="1057.0" cy="441.0" r="2.6"/>
<circle cx="1047.2" cy="462.0" r="2.6"/>
<circle cx="1016.3" cy="517.1" r="2.6"/>
<circle cx="982.6" cy="514.8" r="2.6"/>
<circle cx="960.5" cy="519.8" r="2.6"/>
<circle cx="1069.2" cy="427.4" r="2.6"/>
<circle cx="970.5" cy="526.2" r="2.6"/>
<circle cx="980.2" cy="535.8" r="2.6"/>
<circle cx="1039.7" cy="445.0" r="2.6"/>
<circle cx="1107.5" cy="458.8" r="2.6"/>
<circle cx="988.5" cy="525.2" r="2.6"/>
<circle cx="1147.2" cy="405.9" r="2.6"/>
<circle cx="1009.0" cy="522.0" r="2.6"/>
<circle cx="1073.0" cy="475.7" r="2.6"/>
<circle cx="983.1" cy="512.4" r="2.6"/>
<circle cx="959.4" cy="552.8" r="2.6"/>
<circle cx="967.1" cy="543.5" r="2.6"/>
<circle cx="979.9" cy="506.7" r="2.6"/>
<circle cx="978.2" cy="534.1" r="2.6"/>
<circle cx="1092.4" cy="458.7" r="2.6"/>
<circle cx="1090.4" cy="434.1" r="2.6"/>
<circle cx="1028.0" cy="463.8" r="2.6"/>
<circle cx="956.3" cy="530.8" r="2.6"/>
<circle cx="1088.9" cy="464.9" r="2.6"/>
<circle cx="961.3" cy="548.4" r="2.6"/>
<circle cx="1007.7" cy="511.8" r="2.6"/>
<circle cx="1045.2" cy="511.9" r="2.6"/>
<circle cx="1019.8" cy="504.6" r="2.6"/>
<circle cx="1068.1" cy="472.4" r="2.6"/>
<circle cx="1079.3" cy="464.6" r="2.6"/>
<circle cx="985.4" cy="495.8" r="2.6"/>
<circle cx="940.9" cy="563.0" r="2.6"/>
<circle cx="951.7" cy="561.1" r="2.6"/>
<circle cx="965.2" cy="506.3" r="2.6"/>
<circle cx="970.6" cy="556.2" r="2.6"/>
<circle cx="1032.1" cy="459.1" r="2.6"/>
<circle cx="1086.2" cy="412.9" r="2.6"/>
<circle cx="978.4" cy="517.1" r="2.6"/>
<circle cx="1019.7" cy="503.0" r="2.6"/>
<circle cx="1091.9" cy="463.4" r="2.6"/>
<circle cx="1039.1" cy="485.1" r="2.6"/>
<circle cx="1044.7" cy="444.4" r="2.6"/>
<circle cx="1013.9" cy="467.4" r="2.6"/>
<circle cx="1023.8" cy="500.6" r="2.6"/>
<circle cx="956.7" cy="565.9" r="2.6"/>
<circle cx="1011.7" cy="510.2" r="2.6"/>
<circle cx="974.2" cy="530.2" r="2.6"/>
<circle cx="961.9" cy="531.8" r="2.6"/>
<circle cx="1032.0" cy="518.6" r="2.6"/>
<circle cx="1052.8" cy="466.9" r="2.6"/>
<circle cx="952.1" cy="525.4" r="2.6"/>
<circle cx="979.1" cy="533.9" r="2.6"/>
<circle cx="1025.6" cy="485.4" r="2.6"/>
<circle cx="1005.6" cy="520.0" r="2.6"/>
<circle cx="1057.3" cy="465.8" r="2.6"/>
<circle cx="1036.3" cy="483.6" r="2.6"/>
<circle cx="993.1" cy="476.9" r="2.6"/>
<circle cx="1010.6" cy="520.4" r="2.6"/>
<circle cx="991.9" cy="524.9" r="2.6"/>
<circle cx="1110.1" cy="408.9" r="2.6"/>
<circle cx="1016.7" cy="464.9" r="2.6"/>
<circle cx="1022.0" cy="514.0" r="2.6"/>
<circle cx="1067.2" cy="481.8" r="2.6"/>
<circle cx="1042.0" cy="486.0" r="2.6"/>
<circle cx="1401.7" cy="203.3" r="2.6"/>
<circle cx="1429.8" cy="209.0" r="2.6"/>
<circle cx="1419.8" cy="221.9" r="2.6"/>
<circle cx="1375.0" cy="233.5" r="2.6"/>
<circle cx="1385.8" cy="249.2" r="2.6"/>
<circle cx="1367.7" cy="260.4" r="2.6"/>
<circle cx="1357.9" cy="276.3" r="2.6"/>
<circle cx="1440.6" cy="261.7" r="2.6"/>
<circle cx="1436.0" cy="274.6" r="2.6"/>
<circle cx="1226.9" cy="232.4" r="2.6"/>
<circle cx="1311.6" cy="230.2" r="2.6"/>
<circle cx="1285.5" cy="240.9" r="2.6"/>
<circle cx="1342.9" cy="244.7" r="2.6"/>
<circle cx="1310.1" cy="260.3" r="2.6"/>
<circle cx="1309.0" cy="264.3" r="2.6"/>
<circle cx="1329.5" cy="258.7" r="2.6"/>
<circle cx="1325.0" cy="263.6" r="2.6"/>
<circle cx="1334.0" cy="261.4" r="2.6"/>
<circle cx="1300.0" cy="268.1" r="2.6"/>
<circle cx="1301.6" cy="272.1" r="2.6"/>
<circle cx="1276.4" cy="269.7" r="2.6"/>
<circle cx="1275.5" cy="278.1" r="2.6"/>
<circle cx="1274.8" cy="283.3" r="2.6"/>
<circle cx="1336.2" cy="272.6" r="2.6"/>
<circle cx="1345.6" cy="274.8" r="2.6"/>
<circle cx="1316.1" cy="277.0" r="2.6"/>
<circle cx="1320.1" cy="277.0" r="2.6"/>
<circle cx="1308.3" cy="283.3" r="2.6"/>
<circle cx="1217.9" cy="281.5" r="2.6"/>
<circle cx="1236.5" cy="279.3" r="2.6"/>
<circle cx="1206.3" cy="290.9" r="2.6"/>
<circle cx="1255.9" cy="294.9" r="2.6"/>
<circle cx="1302.3" cy="290.9" r="2.6"/>
<circle cx="1313.9" cy="294.4" r="2.6"/>
<circle cx="1321.7" cy="293.3" r="2.6"/>
<circle cx="1344.0" cy="292.6" r="2.6"/>
<circle cx="1198.3" cy="300.4" r="2.6"/>
<circle cx="1293.8" cy="298.2" r="2.6"/>
<circle cx="1291.6" cy="299.8" r="2.6"/>
<circle cx="1306.1" cy="299.3" r="2.6"/>
<circle cx="1310.1" cy="301.6" r="2.6"/>
<circle cx="1315.0" cy="300.4" r="2.6"/>
<circle cx="1273.7" cy="302.7" r="2.6"/>
<circle cx="1273.3" cy="304.9" r="2.6"/>
<circle cx="1329.9" cy="304.9" r="2.6"/>
<circle cx="1309.4" cy="307.1" r="2.6"/>
<circle cx="1389.3" cy="311.6" r="2.6"/>
<circle cx="1278.2" cy="310.0" r="2.6"/>
<circle cx="1286.7" cy="308.9" r="2.6"/>
<circle cx="1200.1" cy="316.1" r="2.6"/>
<circle cx="1197.9" cy="323.9" r="2.6"/>
<circle cx="1191.2" cy="327.2" r="2.6"/>
<circle cx="1209.0" cy="327.2" r="2.6"/>
<circle cx="1211.2" cy="331.7" r="2.6"/>
<circle cx="1200.1" cy="334.6" r="2.6"/>
<circle cx="1249.6" cy="311.6" r="2.6"/>
<circle cx="1250.3" cy="317.6" r="2.6"/>
<circle cx="1244.3" cy="315.6" r="2.6"/>
<circle cx="1259.2" cy="313.8" r="2.6"/>
<circle cx="1265.9" cy="314.9" r="2.6"/>
<circle cx="1274.8" cy="314.9" r="2.6"/>
<circle cx="1258.1" cy="319.4" r="2.6"/>
<circle cx="1227.3" cy="323.2" r="2.6"/>
<circle cx="1231.8" cy="322.1" r="2.6"/>
<circle cx="1240.2" cy="323.9" r="2.6"/>
<circle cx="1243.1" cy="325.0" r="2.6"/>
<circle cx="1265.2" cy="323.9" r="2.6"/>
<circle cx="1278.8" cy="321.6" r="2.6"/>
<circle cx="1287.1" cy="324.5" r="2.6"/>
<circle cx="1293.3" cy="322.8" r="2.6"/>
<circle cx="1310.5" cy="318.3" r="2.6"/>
<circle cx="1313.9" cy="316.1" r="2.6"/>
<circle cx="1315.0" cy="321.2" r="2.6"/>
<circle cx="1252.5" cy="328.3" r="2.6"/>
<circle cx="1256.5" cy="328.3" r="2.6"/>
<circle cx="1275.5" cy="328.8" r="2.6"/>
<circle cx="1233.5" cy="331.7" r="2.6"/>
<circle cx="1225.3" cy="335.5" r="2.6"/>
<circle cx="1244.7" cy="333.9" r="2.6"/>
<circle cx="1312.3" cy="330.6" r="2.6"/>
<circle cx="1357.8" cy="327.9" r="2.6"/>
<circle cx="1214.6" cy="338.4" r="2.6"/>
<circle cx="1268.1" cy="338.4" r="2.6"/>
<circle cx="1281.8" cy="350.9" r="2.6"/>
<circle cx="1150.0" cy="339.8" r="2.6"/>
<circle cx="1165.9" cy="330.9" r="2.6"/>
<circle cx="1178.2" cy="341.1" r="2.6"/>
<circle cx="1215.0" cy="340.3" r="2.6"/>
<circle cx="1195.3" cy="344.6" r="2.6"/>
<circle cx="1200.5" cy="346.3" r="2.6"/>
<circle cx="1207.3" cy="347.1" r="2.6"/>
<circle cx="1187.6" cy="347.1" r="2.6"/>
<circle cx="1217.6" cy="348.0" r="2.6"/>
<circle cx="1222.7" cy="348.8" r="2.6"/>
<circle cx="1226.1" cy="350.5" r="2.6"/>
<circle cx="1221.0" cy="352.3" r="2.6"/>
<circle cx="1236.4" cy="343.7" r="2.6"/>
<circle cx="1239.8" cy="342.0" r="2.6"/>
<circle cx="1245.8" cy="345.4" r="2.6"/>
<circle cx="1252.7" cy="345.4" r="2.6"/>
<circle cx="1258.7" cy="345.4" r="2.6"/>
<circle cx="1259.5" cy="348.0" r="2.6"/>
<circle cx="1257.0" cy="350.5" r="2.6"/>
<circle cx="1267.2" cy="339.4" r="2.6"/>
<circle cx="1271.5" cy="341.1" r="2.6"/>
<circle cx="1277.5" cy="341.1" r="2.6"/>
<circle cx="1281.3" cy="350.5" r="2.6"/>
<circle cx="1278.4" cy="369.4" r="2.6"/>
<circle cx="1242.4" cy="353.1" r="2.6"/>
<circle cx="1247.5" cy="356.5" r="2.6"/>
<circle cx="1239.8" cy="361.7" r="2.6"/>
<circle cx="1227.0" cy="363.4" r="2.6"/>
<circle cx="1166.2" cy="349.7" r="2.6"/>
<circle cx="1167.6" cy="353.1" r="2.6"/>
<circle cx="1182.5" cy="352.3" r="2.6"/>
<circle cx="1183.3" cy="355.7" r="2.6"/>
<circle cx="1188.5" cy="353.6" r="2.6"/>
<circle cx="1138.0" cy="356.2" r="2.6"/>
<circle cx="1179.1" cy="360.8" r="2.6"/>
<circle cx="1172.2" cy="361.7" r="2.6"/>
<circle cx="1170.5" cy="366.0" r="2.6"/>
<circle cx="1177.4" cy="366.0" r="2.6"/>
<circle cx="1156.8" cy="365.1" r="2.6"/>
<circle cx="1194.5" cy="363.4" r="2.6"/>
<circle cx="1203.9" cy="357.4" r="2.6"/>
<circle cx="1208.2" cy="360.0" r="2.6"/>
<circle cx="1214.2" cy="358.2" r="2.6"/>
<circle cx="1203.0" cy="366.0" r="2.6"/>
<circle cx="1127.7" cy="367.7" r="2.6"/>
<circle cx="1148.8" cy="369.0" r="2.6"/>
<circle cx="1161.1" cy="371.1" r="2.6"/>
<circle cx="1212.5" cy="374.9" r="2.6"/>
<circle cx="1206.5" cy="374.5" r="2.6"/>
<circle cx="1226.1" cy="380.2" r="2.6"/>
<circle cx="1183.3" cy="374.5" r="2.6"/>
<circle cx="1190.2" cy="372.8" r="2.6"/>
<circle cx="1164.5" cy="375.4" r="2.6"/>
<circle cx="1160.2" cy="377.9" r="2.6"/>
<circle cx="1163.7" cy="379.6" r="2.6"/>
<circle cx="1132.3" cy="375.9" r="2.6"/>
<circle cx="1140.2" cy="377.1" r="2.6"/>
<circle cx="1200.5" cy="378.8" r="2.6"/>
<circle cx="1203.9" cy="381.4" r="2.6"/>
<circle cx="1202.2" cy="385.6" r="2.6"/>
<circle cx="1195.3" cy="386.5" r="2.6"/>
<circle cx="1197.9" cy="389.9" r="2.6"/>
<circle cx="1191.1" cy="390.8" r="2.6"/>
<circle cx="1192.8" cy="395.1" r="2.6"/>
<circle cx="1187.6" cy="384.8" r="2.6"/>
<circle cx="1176.5" cy="381.4" r="2.6"/>
<circle cx="1172.2" cy="384.8" r="2.6"/>
<circle cx="1156.0" cy="385.6" r="2.6"/>
<circle cx="1154.2" cy="389.1" r="2.6"/>
<circle cx="1158.5" cy="389.9" r="2.6"/>
<circle cx="1159.4" cy="381.4" r="2.6"/>
<circle cx="1155.1" cy="381.4" r="2.6"/>
<circle cx="1138.0" cy="384.8" r="2.6"/>
<circle cx="1123.4" cy="386.5" r="2.6"/>
<circle cx="1132.0" cy="389.1" r="2.6"/>
<circle cx="1209.0" cy="390.8" r="2.6"/>
<circle cx="1216.7" cy="391.6" r="2.6"/>
<circle cx="1210.7" cy="398.5" r="2.6"/>
<circle cx="1217.6" cy="398.5" r="2.6"/>
<circle cx="1226.1" cy="398.8" r="2.6"/>
<circle cx="1237.3" cy="395.1" r="2.6"/>
<circle cx="1203.0" cy="399.3" r="2.6"/>
<circle cx="1200.5" cy="405.3" r="2.6"/>
<circle cx="1180.8" cy="398.5" r="2.6"/>
<circle cx="1179.1" cy="402.8" r="2.6"/>
<circle cx="1166.2" cy="400.2" r="2.6"/>
<circle cx="1160.2" cy="406.2" r="2.6"/>
<circle cx="1171.4" cy="405.3" r="2.6"/>
<circle cx="1154.2" cy="395.1" r="2.6"/>
<circle cx="1195.3" cy="414.2" r="2.6"/>
<circle cx="1208.2" cy="413.9" r="2.6"/>
<circle cx="1211.6" cy="413.0" r="2.6"/>
<circle cx="1185.9" cy="419.0" r="2.6"/>
<circle cx="1176.5" cy="422.4" r="2.6"/>
<circle cx="1199.6" cy="423.3" r="2.6"/>
<circle cx="1203.9" cy="435.8" r="2.6"/>
<circle cx="1178.2" cy="433.6" r="2.6"/>
<circle cx="1171.4" cy="428.4" r="2.6"/>
<circle cx="1170.5" cy="436.1" r="2.6"/>
<circle cx="1165.4" cy="418.2" r="2.6"/>
<circle cx="1159.4" cy="427.6" r="2.6"/>
<circle cx="1166.2" cy="412.2" r="2.6"/>
<circle cx="1151.7" cy="411.3" r="2.6"/>
<circle cx="1153.4" cy="416.5" r="2.6"/>
<circle cx="1151.7" cy="425.0" r="2.6"/>
<circle cx="1154.2" cy="430.2" r="2.6"/>
<circle cx="1144.0" cy="436.1" r="2.6"/>
<circle cx="1018.0" cy="318.6" r="2.6"/>
<circle cx="1003.5" cy="346.3" r="2.6"/>
<circle cx="1073.6" cy="353.2" r="2.6"/>
<circle cx="1097.0" cy="347.6" r="2.6"/>
<circle cx="1051.9" cy="378.6" r="2.6"/>
<circle cx="1106.6" cy="379.7" r="2.6"/>
<circle cx="1079.4" cy="393.8" r="2.6"/>
<circle cx="1085.6" cy="391.6" r="2.6"/>
<circle cx="1109.9" cy="396.5" r="2.6"/>
<circle cx="1119.5" cy="396.7" r="2.6"/>
<circle cx="1125.5" cy="394.9" r="2.6"/>
<circle cx="1040.3" cy="399.8" r="2.6"/>
<circle cx="1028.5" cy="405.4" r="2.6"/>
<circle cx="1073.1" cy="400.5" r="2.6"/>
<circle cx="1092.1" cy="399.4" r="2.6"/>
<circle cx="1072.0" cy="406.1" r="2.6"/>
<circle cx="1070.4" cy="409.4" r="2.6"/>
<circle cx="1076.5" cy="407.2" r="2.6"/>
<circle cx="1089.2" cy="407.6" r="2.6"/>
<circle cx="1097.7" cy="407.2" r="2.6"/>
<circle cx="973.2" cy="413.2" r="2.6"/>
<circle cx="1025.8" cy="413.9" r="2.6"/>
<circle cx="1030.3" cy="418.3" r="2.6"/>
<circle cx="1043.0" cy="420.6" r="2.6"/>
<circle cx="1055.3" cy="424.6" r="2.6"/>
<circle cx="1064.2" cy="420.6" r="2.6"/>
<circle cx="1079.4" cy="415.0" r="2.6"/>
<circle cx="1024.0" cy="423.9" r="2.6"/>
<circle cx="1009.5" cy="424.6" r="2.6"/>
<circle cx="1003.5" cy="426.6" r="2.6"/>
<circle cx="1037.4" cy="428.4" r="2.6"/>
<circle cx="958.2" cy="429.0" r="2.6"/>
<circle cx="1117.7" cy="401.6" r="2.6"/>
<circle cx="980.9" cy="438.8" r="2.6"/>
<circle cx="945.5" cy="452.1" r="2.6"/>
<circle cx="960.7" cy="452.1" r="2.6"/>
<circle cx="914.3" cy="484.6" r="2.6"/>
<circle cx="954.1" cy="470.5" r="2.6"/>
<circle cx="961.9" cy="472.1" r="2.6"/>
<circle cx="940.1" cy="478.9" r="2.6"/>
<circle cx="968.7" cy="478.0" r="2.6"/>
<circle cx="959.8" cy="483.4" r="2.6"/>
<circle cx="934.8" cy="494.1" r="2.6"/>
<circle cx="943.7" cy="495.9" r="2.6"/>
<circle cx="958.0" cy="493.2" r="2.6"/>
<circle cx="969.6" cy="491.4" r="2.6"/>
<circle cx="933.9" cy="502.1" r="2.6"/>
<circle cx="938.4" cy="507.5" r="2.6"/>
<circle cx="931.2" cy="511.1" r="2.6"/>
<circle cx="946.4" cy="509.3" r="2.6"/>
<circle cx="952.6" cy="500.4" r="2.6"/>
<circle cx="965.1" cy="500.4" r="2.6"/>
<circle cx="973.2" cy="455.7" r="2.6"/>
<circle cx="975.9" cy="456.6" r="2.6"/>
<circle cx="973.7" cy="464.6" r="2.6"/>
<circle cx="1002.6" cy="426.8" r="2.6"/>
<circle cx="1009.4" cy="423.9" r="2.6"/>
<circle cx="1004.4" cy="446.4" r="2.6"/>
<circle cx="997.3" cy="452.1" r="2.6"/>
<circle cx="983.0" cy="461.1" r="2.6"/>
<circle cx="1156.4" cy="461.5" r="2.6"/>
<circle cx="1141.5" cy="478.7" r="2.6"/>
<circle cx="1148.1" cy="479.3" r="2.6"/>
<circle cx="1157.4" cy="480.3" r="2.6"/>
<circle cx="1138.0" cy="456.1" r="2.6"/>
<circle cx="1142.9" cy="458.0" r="2.6"/>
<circle cx="1138.0" cy="450.3" r="2.6"/>
<circle cx="1143.8" cy="447.4" r="2.6"/>
<circle cx="1144.8" cy="437.7" r="2.6"/>
<circle cx="1138.0" cy="441.6" r="2.6"/>
<circle cx="1136.1" cy="436.8" r="2.6"/>
<circle cx="1110.9" cy="507.4" r="2.6"/>
<circle cx="1092.6" cy="491.9" r="2.6"/>
<circle cx="1081.9" cy="490.3" r="2.6"/>
<circle cx="1096.4" cy="481.8" r="2.6"/>
<circle cx="1111.9" cy="480.7" r="2.6"/>
<circle cx="1109.0" cy="477.4" r="2.6"/>
<circle cx="1121.0" cy="472.9" r="2.6"/>
<circle cx="1116.4" cy="469.7" r="2.6"/>
<circle cx="1103.2" cy="473.5" r="2.6"/>
<circle cx="1113.8" cy="462.9" r="2.6"/>
<circle cx="1118.7" cy="453.2" r="2.6"/>
<circle cx="1132.2" cy="437.7" r="2.6"/>
<circle cx="1140.0" cy="431.9" r="2.6"/>
<circle cx="948.1" cy="569.7" r="2.6"/>
<circle cx="1001.7" cy="557.0" r="2.6"/>
<circle cx="1004.8" cy="547.9" r="2.6"/>
<circle cx="1012.8" cy="543.6" r="2.6"/>
<circle cx="1012.8" cy="539.8" r="2.6"/>
<circle cx="1062.1" cy="518.4" r="2.6"/>
<circle cx="1064.9" cy="508.7" r="2.6"/>
<circle cx="1067.2" cy="508.1" r="2.6"/>
<circle cx="1064.9" cy="500.7" r="2.6"/>
<circle cx="1073.3" cy="503.0" r="2.6"/>
<circle cx="1073.3" cy="497.7" r="2.6"/>
<circle cx="1038.1" cy="526.0" r="2.6"/>
<circle cx="1038.8" cy="521.4" r="2.6"/>
<circle cx="1028.1" cy="529.5" r="2.6"/>
<circle cx="1019.7" cy="531.4" r="2.6"/>
<circle cx="972.2" cy="557.4" r="2.6"/>
<circle cx="966.8" cy="561.3" r="2.6"/>
</g>
<line x1="908.0" y1="593.0" x2="1584.5" y2="65.0" stroke="#000" stroke-width="2.9"/>
<line x1="913.7" y1="567.5" x2="1440.7" y2="208.2" stroke="#ff0000" stroke-width="2.7"/>
<rect x="908.0" y="65.0" width="676.5" height="528.0" fill="none" stroke="#262626" stroke-width="3"/>
<path d="M992.6 593.0V586.0M992.6 65.0V72.0M908.0 527.0H915.0M1584.5 527.0H1577.5M1077.1 593.0V586.0M1077.1 65.0V72.0M908.0 461.0H915.0M1584.5 461.0H1577.5M1161.7 593.0V586.0M1161.7 65.0V72.0M908.0 395.0H915.0M1584.5 395.0H1577.5M1246.2 593.0V586.0M1246.2 65.0V72.0M908.0 329.0H915.0M1584.5 329.0H1577.5M1330.8 593.0V586.0M1330.8 65.0V72.0M908.0 263.0H915.0M1584.5 263.0H1577.5M1415.4 593.0V586.0M1415.4 65.0V72.0M908.0 197.0H915.0M1584.5 197.0H1577.5M1499.9 593.0V586.0M1499.9 65.0V72.0M908.0 131.0H915.0M1584.5 131.0H1577.5" stroke="#262626" stroke-width="2.4" fill="none"/>
<g font-family="Liberation Sans, Arial, sans-serif" font-size="25" fill="#1c1c1c" stroke="#1c1c1c" stroke-width="1.1">
<text x="908.0" y="629.7" text-anchor="middle">0</text>
<text x="897.5" y="604.5" text-anchor="end">0</text>
<text x="992.6" y="629.7" text-anchor="middle">1</text>
<text x="897.5" y="538.3" text-anchor="end">1</text>
<text x="1077.1" y="629.7" text-anchor="middle">2</text>
<text x="897.5" y="472.1" text-anchor="end">2</text>
<text x="1161.7" y="629.7" text-anchor="middle">3</text>
<text x="897.5" y="405.9" text-anchor="end">3</text>
<text x="1246.2" y="629.7" text-anchor="middle">4</text>
<text x="897.5" y="339.7" text-anchor="end">4</text>
<text x="1330.8" y="629.7" text-anchor="middle">5</text>
<text x="897.5" y="273.5" text-anchor="end">5</text>
<text x="1415.4" y="629.7" text-anchor="middle">6</text>
<text x="897.5" y="207.3" text-anchor="end">6</text>
<text x="1499.9" y="629.7" text-anchor="middle">7</text>
<text x="897.5" y="141.1" text-anchor="end">7</text>
<text x="1584.5" y="629.7" text-anchor="middle">8</text>
<text x="897.5" y="74.9" text-anchor="end">8</text>
</g>
<g font-family="Liberation Sans, Arial, sans-serif" font-size="28.4" font-weight="bold" fill="#1c1c1c">
<text transform="translate(1246.2,665.6) scale(0.978,1)" text-anchor="middle">Buoy SWH (m)</text>
<text transform="translate(871.3,327.9) rotate(-90) scale(0.975,1)" text-anchor="middle">DW-IDW-ST SWH (m)</text>
</g>
<g font-family="Liberation Serif, Times New Roman, serif" font-size="25.50" font-weight="bold" fill="#000" stroke="#000" stroke-width="0.5">
<text transform="translate(1386.6,410.1) scale(1.075,1)">BIAS:</text>
<text transform="translate(1477.9,410.1) scale(1.075,1)">0.113 m</text>
<text transform="translate(1386.6,442.7) scale(1.075,1)">RMSE:</text>
<text transform="translate(1479.5,442.7) scale(1.075,1)">0.378 m</text>
<text transform="translate(1386.6,475.3) scale(1.075,1)">SI:</text>
<text transform="translate(1481.4,475.3) scale(1.075,1)">0.219</text>
<text transform="translate(1386.6,508.0) scale(1.075,1)">r:</text>
<text transform="translate(1481.4,508.0) scale(1.075,1)">0.920</text>
<text transform="translate(1386.6,540.1) scale(1.075,1)">Ps:</text>
<text transform="translate(1482.6,540.1) scale(1.075,1)">0.160</text>
<text transform="translate(1386.6,572.7) scale(1.075,1)">N:</text>
<text transform="translate(1481.6,572.7) scale(1.075,1)">2482</text>
</g>
</svg>
</body></html>
